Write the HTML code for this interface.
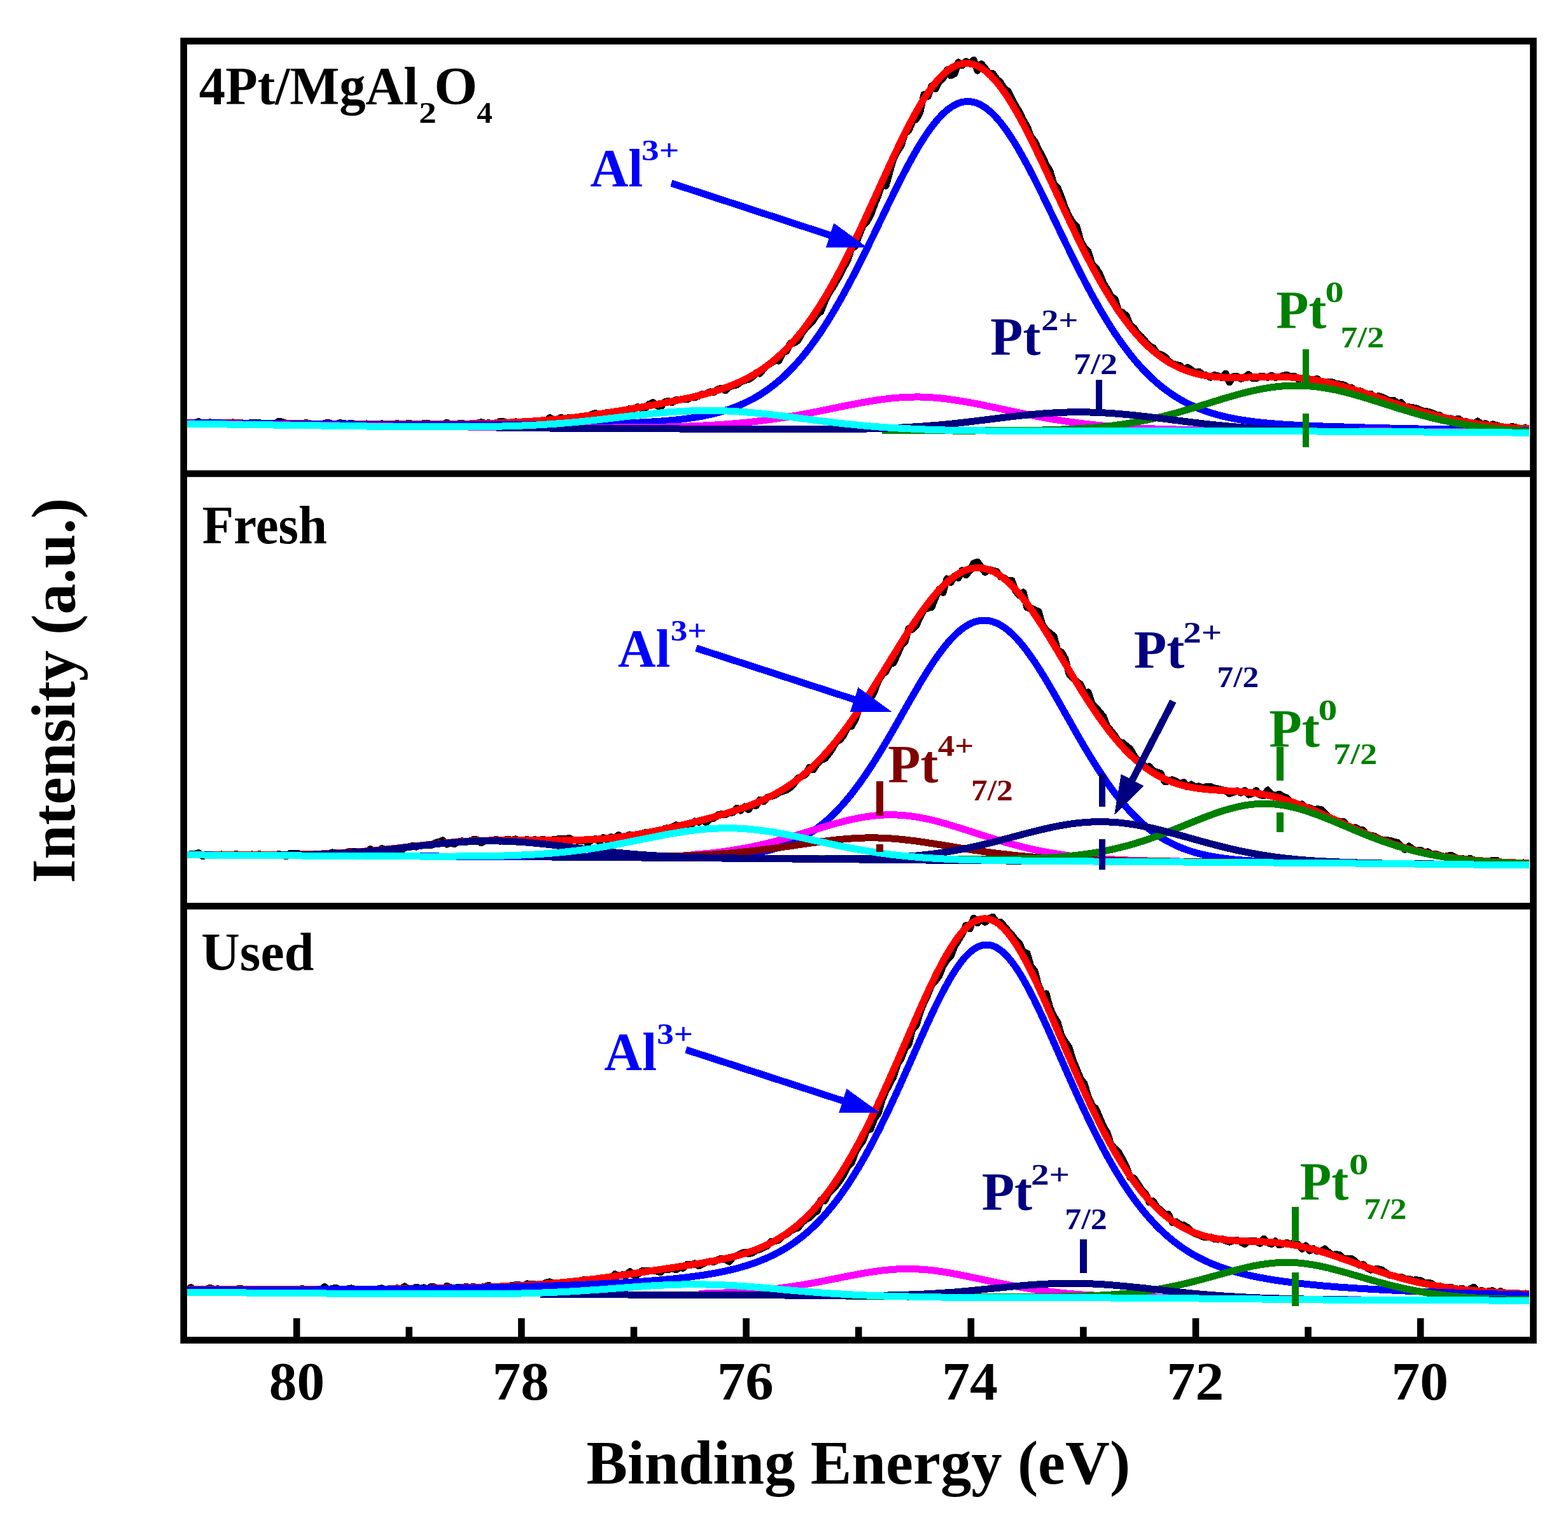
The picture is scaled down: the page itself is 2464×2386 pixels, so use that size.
<!DOCTYPE html><html><head><meta charset="utf-8"><style>html,body{margin:0;padding:0;background:#fff}svg{display:block}</style></head><body><svg width="2464" height="2386" viewBox="0 0 2464 2386" font-family="'Liberation Serif','Times New Roman',serif" font-weight="bold">
<rect width="2464" height="2386" fill="#fff"/>
<clipPath id="cp0"><rect x="294" y="70" width="2110" height="669"/></clipPath>
<g clip-path="url(#cp0)" fill="none" stroke-width="11" stroke-linejoin="round" stroke-linecap="butt" shape-rendering="crispEdges">
<polyline stroke="#000" points="294,664.5 300,665.1 306,664.6 312,662.6 318,665.4 324,664.9 330,663.8 336,665.2 342,665.0 348,665.0 354,664.7 360,665.4 366,663.9 372,664.6 378,664.3 384,665.7 390,665.1 396,664.7 402,664.2 408,664.9 414,665.3 420,665.0 426,667.0 432,666.7 438,662.1 444,663.2 450,665.4 456,665.1 462,666.0 468,666.0 474,668.5 480,664.5 486,665.4 492,668.5 498,666.8 504,666.9 510,665.5 516,664.1 522,666.4 528,666.4 534,664.7 540,665.5 546,666.3 552,665.2 558,666.3 564,666.6 570,666.6 576,665.9 582,667.4 588,667.8 594,667.1 600,665.7 606,667.7 612,666.1 618,667.9 624,665.4 630,668.0 636,666.7 642,665.1 648,666.3 654,666.8 660,667.1 666,665.4 672,665.2 678,666.9 684,666.0 690,666.9 696,667.6 702,664.3 708,666.8 714,668.0 720,665.9 726,665.1 732,667.2 738,666.4 744,667.1 750,665.3 756,663.6 762,665.3 768,664.7 774,666.3 780,665.2 786,662.4 792,662.8 798,665.6 804,665.0 810,662.8 816,663.5 822,663.8 828,663.5 834,663.7 840,662.4 846,661.5 852,660.8 858,662.4 864,656.7 870,659.5 876,659.2 882,656.3 888,658.5 894,656.3 900,658.1 906,655.8 912,656.4 918,656.6 924,654.4 930,651.4 936,649.4 942,654.3 948,650.1 954,648.2 960,648.8 966,647.2 972,648.2 978,645.7 984,644.7 990,642.3 996,643.5 1002,639.6 1008,641.8 1014,642.4 1020,635.4 1026,632.5 1032,637.4 1038,640.2 1044,631.9 1050,630.3 1056,632.8 1062,628.7 1068,628.2 1074,627.3 1080,627.8 1086,624.5 1092,624.6 1098,622.2 1104,619.3 1110,618.9 1116,615.9 1122,616.3 1128,612.0 1134,610.2 1140,613.9 1146,608.3 1152,606.1 1158,605.0 1164,600.2 1170,597.8 1176,596.4 1182,592.9 1188,585.9 1194,587.2 1200,579.7 1206,574.3 1212,570.2 1218,566.8 1224,567.1 1230,554.1 1236,552.1 1242,539.5 1248,539.1 1254,534.9 1260,524.3 1266,515.5 1272,510.2 1278,503.2 1284,494.4 1290,489.5 1296,474.2 1302,461.6 1308,452.8 1314,442.3 1320,431.9 1326,420.0 1332,409.1 1338,390.3 1344,387.3 1350,369.5 1356,354.5 1362,348.6 1368,338.3 1374,321.9 1380,307.3 1386,289.6 1392,292.2 1398,270.8 1404,249.2 1410,237.9 1416,229.1 1422,209.5 1428,205.1 1434,190.7 1440,187.2 1446,175.4 1452,148.4 1458,151.6 1464,135.0 1470,139.7 1476,127.9 1482,123.1 1488,109.8 1494,118.7 1500,115.7 1506,97.9 1512,102.7 1518,96.6 1524,99.6 1530,94.4 1536,111.2 1542,100.4 1548,107.3 1554,115.6 1560,115.6 1566,123.9 1572,129.5 1578,139.3 1584,143.1 1590,155.7 1596,166.5 1602,176.3 1608,189.0 1614,198.7 1620,215.0 1626,222.3 1632,235.4 1638,245.7 1644,259.1 1650,268.9 1656,289.2 1662,295.4 1668,310.0 1674,327.3 1680,340.3 1686,350.0 1692,356.4 1698,378.0 1704,389.5 1710,395.4 1716,414.8 1722,421.0 1728,430.6 1734,445.4 1740,454.8 1746,466.0 1752,469.8 1758,489.8 1764,491.0 1770,496.5 1776,511.1 1782,515.7 1788,524.9 1794,529.7 1800,536.8 1806,543.6 1812,546.4 1818,555.5 1824,557.1 1830,560.4 1836,567.0 1842,571.6 1848,573.2 1854,574.6 1860,581.1 1866,577.4 1872,581.4 1878,586.0 1884,584.1 1890,588.9 1896,589.9 1902,593.2 1908,589.5 1914,590.8 1920,593.6 1926,587.1 1932,600.9 1938,591.7 1944,591.6 1950,595.5 1956,593.2 1962,588.7 1968,594.5 1974,594.9 1980,591.5 1986,591.7 1992,593.5 1998,590.0 2004,593.3 2010,592.7 2016,590.7 2022,589.1 2028,592.2 2034,591.0 2040,596.1 2046,594.5 2052,596.7 2058,595.9 2064,597.0 2070,595.5 2076,600.0 2082,603.9 2088,600.1 2094,600.8 2100,603.3 2106,604.0 2112,605.2 2118,608.8 2124,609.6 2130,615.4 2136,614.0 2142,616.6 2148,620.0 2154,619.2 2160,625.0 2166,622.5 2172,624.2 2178,627.2 2184,629.8 2190,629.1 2196,634.0 2202,632.7 2208,640.8 2214,639.8 2220,640.6 2226,641.9 2232,644.7 2238,646.8 2244,647.0 2250,648.8 2256,651.8 2262,652.7 2268,656.8 2274,658.5 2280,657.9 2286,660.0 2292,658.1 2298,662.6 2304,662.6 2310,664.5 2316,667.2 2322,662.0 2328,666.9 2334,665.6 2340,669.0 2346,666.9 2352,668.8 2358,670.5 2364,671.7 2370,671.4 2376,670.7 2382,671.5 2388,674.0 2394,673.2 2400,671.2"/>
<polyline stroke="#FF0000" points="294,664.1 297,664.1 300,664.1 303,664.2 306,664.2 309,664.2 312,664.3 315,664.3 318,664.3 321,664.4 324,664.4 327,664.4 330,664.5 333,664.5 336,664.5 339,664.6 342,664.6 345,664.6 348,664.6 351,664.7 354,664.7 357,664.7 360,664.8 363,664.8 366,664.8 369,664.9 372,664.9 375,664.9 378,664.9 381,665.0 384,665.0 387,665.0 390,665.1 393,665.1 396,665.1 399,665.1 402,665.2 405,665.2 408,665.2 411,665.3 414,665.3 417,665.3 420,665.3 423,665.4 426,665.4 429,665.4 432,665.5 435,665.5 438,665.5 441,665.5 444,665.6 447,665.6 450,665.6 453,665.7 456,665.7 459,665.7 462,665.7 465,665.8 468,665.8 471,665.8 474,665.8 477,665.9 480,665.9 483,665.9 486,665.9 489,666.0 492,666.0 495,666.0 498,666.0 501,666.1 504,666.1 507,666.1 510,666.1 513,666.2 516,666.2 519,666.2 522,666.2 525,666.3 528,666.3 531,666.3 534,666.3 537,666.3 540,666.4 543,666.4 546,666.4 549,666.4 552,666.5 555,666.5 558,666.5 561,666.5 564,666.5 567,666.6 570,666.6 573,666.6 576,666.6 579,666.6 582,666.7 585,666.7 588,666.7 591,666.7 594,666.7 597,666.7 600,666.8 603,666.8 606,666.8 609,666.8 612,666.8 615,666.8 618,666.8 621,666.8 624,666.8 627,666.8 630,666.8 633,666.8 636,666.8 639,666.8 642,666.8 645,666.8 648,666.7 651,666.7 654,666.7 657,666.7 660,666.7 663,666.7 666,666.7 669,666.7 672,666.7 675,666.7 678,666.6 681,666.6 684,666.6 687,666.6 690,666.6 693,666.5 696,666.5 699,666.5 702,666.5 705,666.4 708,666.4 711,666.4 714,666.3 717,666.3 720,666.2 723,666.2 726,666.2 729,666.1 732,666.1 735,666.0 738,666.0 741,665.9 744,665.8 747,665.8 750,665.7 753,665.6 756,665.6 759,665.5 762,665.4 765,665.3 768,665.2 771,665.1 774,665.1 777,665.0 780,664.9 783,664.7 786,664.6 789,664.5 792,664.4 795,664.3 798,664.1 801,664.0 804,663.9 807,663.7 810,663.6 813,663.4 816,663.3 819,663.1 822,662.9 825,662.8 828,662.6 831,662.4 834,662.2 837,662.0 840,661.8 843,661.6 846,661.4 849,661.1 852,660.9 855,660.7 858,660.4 861,660.2 864,659.9 867,659.7 870,659.4 873,659.1 876,658.8 879,658.5 882,658.2 885,657.9 888,657.6 891,657.3 894,657.0 897,656.7 900,656.3 903,656.0 906,655.6 909,655.2 912,654.8 915,654.5 918,654.1 921,653.7 924,653.3 927,652.9 930,652.4 933,652.0 936,651.6 939,651.1 942,650.7 945,650.3 948,649.8 951,649.4 954,648.9 957,648.4 960,648.0 963,647.5 966,647.0 969,646.5 972,646.0 975,645.6 978,645.1 981,644.6 984,644.1 987,643.5 990,643.0 993,642.5 996,642.0 999,641.5 1002,641.0 1005,640.4 1008,639.9 1011,639.4 1014,638.8 1017,638.3 1020,637.8 1023,637.2 1026,636.7 1029,636.1 1032,635.6 1035,635.0 1038,634.4 1041,633.9 1044,633.3 1047,632.7 1050,632.1 1053,631.5 1056,630.9 1059,630.3 1062,629.7 1065,629.1 1068,628.5 1071,627.9 1074,627.2 1077,626.6 1080,625.9 1083,625.3 1086,624.6 1089,623.9 1092,623.2 1095,622.5 1098,621.8 1101,621.0 1104,620.3 1107,619.5 1110,618.7 1113,617.9 1116,617.0 1119,616.2 1122,615.3 1125,614.4 1128,613.4 1131,612.5 1134,611.5 1137,610.4 1140,609.4 1143,608.3 1146,607.2 1149,606.0 1152,604.8 1155,603.5 1158,602.3 1161,600.9 1164,599.6 1167,598.1 1170,596.7 1173,595.1 1176,593.6 1179,591.9 1182,590.2 1185,588.5 1188,586.7 1191,584.8 1194,582.9 1197,580.9 1200,578.8 1203,576.7 1206,574.5 1209,572.2 1212,569.8 1215,567.4 1218,564.9 1221,562.3 1224,559.6 1227,556.9 1230,554.1 1233,551.1 1236,548.1 1239,545.0 1242,541.8 1245,538.5 1248,535.1 1251,531.7 1254,528.1 1257,524.4 1260,520.7 1263,516.8 1266,512.8 1269,508.8 1272,504.6 1275,500.4 1278,496.0 1281,491.5 1284,487.0 1287,482.3 1290,477.6 1293,472.7 1296,467.8 1299,462.8 1302,457.6 1305,452.4 1308,447.1 1311,441.7 1314,436.2 1317,430.6 1320,424.9 1323,419.2 1326,413.4 1329,407.5 1332,401.5 1335,395.5 1338,389.3 1341,383.2 1344,376.9 1347,370.6 1350,364.3 1353,357.9 1356,351.5 1359,345.0 1362,338.5 1365,331.9 1368,325.4 1371,318.8 1374,312.2 1377,305.6 1380,299.0 1383,292.3 1386,285.7 1389,279.1 1392,272.6 1395,266.0 1398,259.5 1401,253.0 1404,246.6 1407,240.2 1410,233.9 1413,227.6 1416,221.4 1419,215.3 1422,209.3 1425,203.4 1428,197.5 1431,191.8 1434,186.2 1437,180.7 1440,175.3 1443,170.1 1446,165.0 1449,160.0 1452,155.2 1455,150.6 1458,146.1 1461,141.8 1464,137.7 1467,133.8 1470,130.1 1473,126.5 1476,123.2 1479,120.0 1482,117.1 1485,114.4 1488,111.9 1491,109.6 1494,107.6 1497,105.8 1500,104.2 1503,102.8 1506,101.7 1509,100.8 1512,100.2 1515,99.8 1518,99.6 1521,99.7 1524,100.0 1527,100.6 1530,101.4 1533,102.5 1536,103.7 1539,105.3 1542,107.0 1545,109.0 1548,111.2 1551,113.7 1554,116.3 1557,119.2 1560,122.3 1563,125.5 1566,129.0 1569,132.7 1572,136.6 1575,140.6 1578,144.8 1581,149.2 1584,153.8 1587,158.5 1590,163.3 1593,168.3 1596,173.5 1599,178.7 1602,184.1 1605,189.6 1608,195.2 1611,201.0 1614,206.8 1617,212.7 1620,218.7 1623,224.7 1626,230.9 1629,237.1 1632,243.3 1635,249.6 1638,256.0 1641,262.3 1644,268.8 1647,275.2 1650,281.7 1653,288.1 1656,294.6 1659,301.1 1662,307.6 1665,314.1 1668,320.6 1671,327.0 1674,333.4 1677,339.8 1680,346.2 1683,352.5 1686,358.8 1689,365.1 1692,371.3 1695,377.4 1698,383.5 1701,389.6 1704,395.5 1707,401.4 1710,407.3 1713,413.0 1716,418.7 1719,424.3 1722,429.9 1725,435.3 1728,440.7 1731,446.0 1734,451.2 1737,456.3 1740,461.3 1743,466.2 1746,471.0 1749,475.7 1752,480.3 1755,484.9 1758,489.3 1761,493.6 1764,497.8 1767,501.9 1770,506.0 1773,509.9 1776,513.7 1779,517.4 1782,521.0 1785,524.5 1788,527.9 1791,531.2 1794,534.4 1797,537.5 1800,540.5 1803,543.4 1806,546.2 1809,548.9 1812,551.5 1815,554.0 1818,556.4 1821,558.7 1824,561.0 1827,563.1 1830,565.1 1833,567.1 1836,569.0 1839,570.8 1842,572.4 1845,574.1 1848,575.6 1851,577.0 1854,578.4 1857,579.7 1860,580.9 1863,582.1 1866,583.2 1869,584.2 1872,585.2 1875,586.0 1878,586.9 1881,587.6 1884,588.3 1887,589.0 1890,589.6 1893,590.1 1896,590.6 1899,591.0 1902,591.4 1905,591.8 1908,592.1 1911,592.4 1914,592.6 1917,592.8 1920,593.0 1923,593.1 1926,593.2 1929,593.3 1932,593.4 1935,593.4 1938,593.4 1941,593.4 1944,593.4 1947,593.3 1950,593.3 1953,593.2 1956,593.2 1959,593.1 1962,593.0 1965,592.9 1968,592.8 1971,592.7 1974,592.7 1977,592.6 1980,592.5 1983,592.4 1986,592.4 1989,592.3 1992,592.3 1995,592.2 1998,592.2 2001,592.2 2004,592.2 2007,592.3 2010,592.3 2013,592.4 2016,592.4 2019,592.5 2022,592.7 2025,592.8 2028,593.0 2031,593.2 2034,593.4 2037,593.6 2040,593.9 2043,594.2 2046,594.5 2049,594.9 2052,595.2 2055,595.6 2058,596.0 2061,596.5 2064,597.0 2067,597.5 2070,598.0 2073,598.5 2076,599.1 2079,599.7 2082,600.3 2085,601.0 2088,601.6 2091,602.3 2094,603.0 2097,603.7 2100,604.5 2103,605.3 2106,606.1 2109,606.9 2112,607.8 2115,608.6 2118,609.5 2121,610.4 2124,611.3 2127,612.2 2130,613.2 2133,614.1 2136,615.1 2139,616.1 2142,617.0 2145,618.0 2148,619.0 2151,620.0 2154,621.0 2157,622.0 2160,623.1 2163,624.1 2166,625.1 2169,626.1 2172,627.1 2175,628.1 2178,629.2 2181,630.2 2184,631.2 2187,632.2 2190,633.2 2193,634.2 2196,635.2 2199,636.2 2202,637.2 2205,638.2 2208,639.1 2211,640.1 2214,641.0 2217,642.0 2220,642.9 2223,643.8 2226,644.7 2229,645.6 2232,646.5 2235,647.3 2238,648.2 2241,649.0 2244,649.9 2247,650.7 2250,651.5 2253,652.2 2256,653.0 2259,653.8 2262,654.5 2265,655.2 2268,655.9 2271,656.6 2274,657.3 2277,658.0 2280,658.6 2283,659.3 2286,659.9 2289,660.5 2292,661.1 2295,661.6 2298,662.2 2301,662.7 2304,663.3 2307,663.8 2310,664.3 2313,664.8 2316,665.2 2319,665.7 2322,666.1 2325,666.6 2328,667.0 2331,667.4 2334,667.8 2337,668.2 2340,668.5 2343,668.9 2346,669.2 2349,669.6 2352,669.9 2355,670.2 2358,670.5 2361,670.8 2364,671.1 2367,671.4 2370,671.6 2373,671.9 2376,672.1 2379,672.4 2382,672.6 2385,672.8 2388,673.0 2391,673.2 2394,673.4 2397,673.6 2400,673.8 2403,674.0"/>
<polyline stroke="#0000FF" points="294,664.4 297,664.4 300,664.4 303,664.5 306,664.5 309,664.5 312,664.6 315,664.6 318,664.6 321,664.7 324,664.7 327,664.7 330,664.8 333,664.8 336,664.8 339,664.9 342,664.9 345,664.9 348,665.0 351,665.0 354,665.0 357,665.1 360,665.1 363,665.1 366,665.2 369,665.2 372,665.2 375,665.3 378,665.3 381,665.3 384,665.4 387,665.4 390,665.4 393,665.4 396,665.5 399,665.5 402,665.5 405,665.6 408,665.6 411,665.6 414,665.7 417,665.7 420,665.7 423,665.7 426,665.8 429,665.8 432,665.8 435,665.9 438,665.9 441,665.9 444,666.0 447,666.0 450,666.0 453,666.0 456,666.1 459,666.1 462,666.1 465,666.2 468,666.2 471,666.2 474,666.2 477,666.3 480,666.3 483,666.3 486,666.4 489,666.4 492,666.4 495,666.4 498,666.5 501,666.5 504,666.5 507,666.6 510,666.6 513,666.6 516,666.6 519,666.7 522,666.7 525,666.7 528,666.7 531,666.8 534,666.8 537,666.8 540,666.8 543,666.9 546,666.9 549,666.9 552,666.9 555,667.0 558,667.0 561,667.0 564,667.0 567,667.1 570,667.1 573,667.1 576,667.1 579,667.2 582,667.2 585,667.2 588,667.2 591,667.3 594,667.3 597,667.3 600,667.3 603,667.3 606,667.4 609,667.4 612,667.4 615,667.4 618,667.4 621,667.4 624,667.4 627,667.4 630,667.4 633,667.4 636,667.5 639,667.5 642,667.5 645,667.5 648,667.5 651,667.5 654,667.5 657,667.5 660,667.5 663,667.5 666,667.5 669,667.5 672,667.5 675,667.5 678,667.6 681,667.6 684,667.6 687,667.6 690,667.6 693,667.6 696,667.6 699,667.6 702,667.6 705,667.6 708,667.6 711,667.6 714,667.6 717,667.6 720,667.6 723,667.6 726,667.6 729,667.6 732,667.6 735,667.6 738,667.6 741,667.6 744,667.6 747,667.6 750,667.6 753,667.6 756,667.6 759,667.6 762,667.6 765,667.6 768,667.6 771,667.6 774,667.6 777,667.6 780,667.6 783,667.6 786,667.6 789,667.6 792,667.6 795,667.6 798,667.5 801,667.5 804,667.5 807,667.5 810,667.5 813,667.5 816,667.5 819,667.5 822,667.5 825,667.5 828,667.4 831,667.4 834,667.4 837,667.4 840,667.4 843,667.4 846,667.4 849,667.3 852,667.3 855,667.3 858,667.3 861,667.3 864,667.3 867,667.2 870,667.2 873,667.2 876,667.2 879,667.1 882,667.1 885,667.1 888,667.1 891,667.0 894,667.0 897,667.0 900,667.0 903,666.9 906,666.8 909,666.8 912,666.7 915,666.7 918,666.6 921,666.6 924,666.5 927,666.5 930,666.4 933,666.3 936,666.3 939,666.2 942,666.1 945,666.1 948,666.0 951,665.9 954,665.8 957,665.7 960,665.7 963,665.6 966,665.5 969,665.4 972,665.3 975,665.2 978,665.1 981,665.0 984,664.9 987,664.8 990,664.7 993,664.6 996,664.4 999,664.3 1002,664.2 1005,664.0 1008,663.9 1011,663.7 1014,663.6 1017,663.4 1020,663.3 1023,663.1 1026,662.9 1029,662.7 1032,662.5 1035,662.3 1038,662.1 1041,661.9 1044,661.6 1047,661.4 1050,661.1 1053,660.9 1056,660.6 1059,660.3 1062,660.0 1065,659.7 1068,659.3 1071,659.0 1074,658.6 1077,658.3 1080,657.9 1083,657.5 1086,657.0 1089,656.6 1092,656.1 1095,655.6 1098,655.1 1101,654.6 1104,654.0 1107,653.4 1110,652.8 1113,652.2 1116,651.5 1119,650.9 1122,650.1 1125,649.4 1128,648.6 1131,647.8 1134,646.9 1137,646.0 1140,645.1 1143,644.2 1146,643.2 1149,642.1 1152,641.0 1155,639.9 1158,638.7 1161,637.5 1164,636.2 1167,634.9 1170,633.5 1173,632.1 1176,630.6 1179,629.1 1182,627.5 1185,625.9 1188,624.2 1191,622.4 1194,620.6 1197,618.7 1200,616.7 1203,614.7 1206,612.6 1209,610.4 1212,608.2 1215,605.9 1218,603.5 1221,601.1 1224,598.6 1227,596.0 1230,593.3 1233,590.5 1236,587.7 1239,584.7 1242,581.7 1245,578.6 1248,575.4 1251,572.1 1254,568.8 1257,565.3 1260,561.8 1263,558.2 1266,554.4 1269,550.6 1272,546.7 1275,542.7 1278,538.6 1281,534.5 1284,530.2 1287,525.9 1290,521.4 1293,516.9 1296,512.3 1299,507.6 1302,502.8 1305,497.9 1308,492.9 1311,487.9 1314,482.7 1317,477.5 1320,472.3 1323,466.9 1326,461.5 1329,455.9 1332,450.4 1335,444.7 1338,439.0 1341,433.3 1344,427.4 1347,421.5 1350,415.6 1353,409.6 1356,403.6 1359,397.5 1362,391.4 1365,385.3 1368,379.2 1371,373.0 1374,366.8 1377,360.6 1380,354.3 1383,348.1 1386,341.9 1389,335.6 1392,329.4 1395,323.2 1398,317.1 1401,310.9 1404,304.8 1407,298.7 1410,292.7 1413,286.7 1416,280.8 1419,275.0 1422,269.2 1425,263.5 1428,257.9 1431,252.3 1434,246.9 1437,241.6 1440,236.4 1443,231.3 1446,226.3 1449,221.5 1452,216.8 1455,212.2 1458,207.8 1461,203.6 1464,199.5 1467,195.6 1470,191.8 1473,188.2 1476,184.9 1479,181.7 1482,178.7 1485,175.9 1488,173.3 1491,171.0 1494,168.8 1497,166.9 1500,165.2 1503,163.7 1506,162.4 1509,161.4 1512,160.5 1515,160.0 1518,159.6 1521,159.5 1524,159.6 1527,160.0 1530,160.6 1533,161.4 1536,162.5 1539,163.8 1542,165.3 1545,167.1 1548,169.0 1551,171.2 1554,173.6 1557,176.2 1560,179.1 1563,182.1 1566,185.3 1569,188.7 1572,192.3 1575,196.1 1578,200.1 1581,204.2 1584,208.5 1587,212.9 1590,217.5 1593,222.3 1596,227.1 1599,232.2 1602,237.3 1605,242.5 1608,247.9 1611,253.4 1614,258.9 1617,264.6 1620,270.3 1623,276.1 1626,282.0 1629,287.9 1632,294.0 1635,300.0 1638,306.1 1641,312.3 1644,318.4 1647,324.6 1650,330.9 1653,337.1 1656,343.4 1659,349.6 1662,355.9 1665,362.2 1668,368.4 1671,374.6 1674,380.9 1677,387.0 1680,393.2 1683,399.3 1686,405.4 1689,411.5 1692,417.5 1695,423.5 1698,429.4 1701,435.2 1704,441.0 1707,446.8 1710,452.4 1713,458.0 1716,463.6 1719,469.0 1722,474.4 1725,479.7 1728,485.0 1731,490.1 1734,495.2 1737,500.2 1740,505.1 1743,509.9 1746,514.7 1749,519.3 1752,523.9 1755,528.3 1758,532.7 1761,537.0 1764,541.2 1767,545.3 1770,549.3 1773,553.3 1776,557.1 1779,560.8 1782,564.5 1785,568.1 1788,571.6 1791,574.9 1794,578.2 1797,581.5 1800,584.6 1803,587.6 1806,590.6 1809,593.5 1812,596.3 1815,599.0 1818,601.6 1821,604.2 1824,606.7 1827,609.1 1830,611.4 1833,613.6 1836,615.8 1839,617.9 1842,620.0 1845,622.0 1848,623.9 1851,625.7 1854,627.5 1857,629.2 1860,630.9 1863,632.5 1866,634.0 1869,635.5 1872,636.9 1875,638.3 1878,639.7 1881,640.9 1884,642.2 1887,643.4 1890,644.5 1893,645.6 1896,646.7 1899,647.7 1902,648.7 1905,649.6 1908,650.5 1911,651.4 1914,652.2 1917,653.0 1920,653.8 1923,654.5 1926,655.2 1929,655.9 1932,656.5 1935,657.1 1938,657.7 1941,658.3 1944,658.9 1947,659.4 1950,659.9 1953,660.4 1956,660.8 1959,661.3 1962,661.7 1965,662.1 1968,662.5 1971,662.9 1974,663.2 1977,663.6 1980,663.9 1983,664.2 1986,664.5 1989,664.8 1992,665.1 1995,665.4 1998,665.6 2001,665.9 2004,666.1 2007,666.3 2010,666.6 2013,666.8 2016,667.0 2019,667.2 2022,667.4 2025,667.6 2028,667.7 2031,667.9 2034,668.1 2037,668.2 2040,668.4 2043,668.5 2046,668.7 2049,668.8 2052,668.9 2055,669.1 2058,669.2 2061,669.3 2064,669.4 2067,669.6 2070,669.7 2073,669.8 2076,669.9 2079,670.0 2082,670.1 2085,670.2 2088,670.3 2091,670.4 2094,670.5 2097,670.6 2100,670.6 2103,670.7 2106,670.8 2109,670.9 2112,671.0 2115,671.1 2118,671.2 2121,671.3 2124,671.4 2127,671.5 2130,671.6 2133,671.7 2136,671.8 2139,671.8 2142,671.9 2145,672.0 2148,672.1 2151,672.2 2154,672.2 2157,672.3 2160,672.4 2163,672.5 2166,672.5 2169,672.6 2172,672.7 2175,672.8 2178,672.8 2181,672.9 2184,673.0 2187,673.1 2190,673.1 2193,673.2 2196,673.3 2199,673.3 2202,673.4 2205,673.5 2208,673.5 2211,673.6 2214,673.7 2217,673.7 2220,673.8 2223,673.8 2226,673.9 2229,674.0 2232,674.0 2235,674.1 2238,674.1 2241,674.2 2244,674.3 2247,674.3 2250,674.4 2253,674.4 2256,674.5 2259,674.6 2262,674.6 2265,674.7 2268,674.7 2271,674.8 2274,674.8 2277,674.9 2280,674.9 2283,675.0 2286,675.0 2289,675.1 2292,675.2 2295,675.2 2298,675.3 2301,675.3 2304,675.4 2307,675.4 2310,675.5 2313,675.5 2316,675.6 2319,675.6 2322,675.7 2325,675.7 2328,675.8 2331,675.8 2334,675.9 2337,675.9 2340,676.0 2343,676.0 2346,676.0 2349,676.1 2352,676.1 2355,676.2 2358,676.2 2361,676.3 2364,676.3 2367,676.4 2370,676.4 2373,676.5 2376,676.5 2379,676.5 2382,676.6 2385,676.6 2388,676.7 2391,676.7 2394,676.8 2397,676.8 2400,676.9 2403,676.9"/>
<polyline stroke="#FF00FF" points="294,665.8 297,665.9 300,665.9 303,665.9 306,666.0 309,666.0 312,666.1 315,666.1 318,666.1 321,666.2 324,666.2 327,666.3 330,666.3 333,666.3 336,666.4 339,666.4 342,666.5 345,666.5 348,666.5 351,666.6 354,666.6 357,666.7 360,666.7 363,666.7 366,666.8 369,666.8 372,666.8 375,666.9 378,666.9 381,667.0 384,667.0 387,667.0 390,667.1 393,667.1 396,667.2 399,667.2 402,667.2 405,667.3 408,667.3 411,667.4 414,667.4 417,667.4 420,667.5 423,667.5 426,667.6 429,667.6 432,667.6 435,667.7 438,667.7 441,667.8 444,667.8 447,667.8 450,667.9 453,667.9 456,668.0 459,668.0 462,668.0 465,668.1 468,668.1 471,668.2 474,668.2 477,668.2 480,668.3 483,668.3 486,668.3 489,668.4 492,668.4 495,668.5 498,668.5 501,668.5 504,668.6 507,668.6 510,668.7 513,668.7 516,668.7 519,668.8 522,668.8 525,668.9 528,668.9 531,668.9 534,669.0 537,669.0 540,669.0 543,669.1 546,669.1 549,669.2 552,669.2 555,669.2 558,669.3 561,669.3 564,669.4 567,669.4 570,669.4 573,669.5 576,669.5 579,669.5 582,669.6 585,669.6 588,669.7 591,669.7 594,669.7 597,669.8 600,669.8 603,669.8 606,669.9 609,669.9 612,669.9 615,669.9 618,670.0 621,670.0 624,670.0 627,670.0 630,670.1 633,670.1 636,670.1 639,670.2 642,670.2 645,670.2 648,670.2 651,670.3 654,670.3 657,670.3 660,670.3 663,670.4 666,670.4 669,670.4 672,670.4 675,670.5 678,670.5 681,670.5 684,670.5 687,670.6 690,670.6 693,670.6 696,670.6 699,670.7 702,670.7 705,670.7 708,670.7 711,670.8 714,670.8 717,670.8 720,670.8 723,670.9 726,670.9 729,670.9 732,670.9 735,671.0 738,671.0 741,671.0 744,671.0 747,671.1 750,671.1 753,671.1 756,671.1 759,671.2 762,671.2 765,671.2 768,671.2 771,671.2 774,671.3 777,671.3 780,671.3 783,671.3 786,671.4 789,671.4 792,671.4 795,671.4 798,671.5 801,671.5 804,671.5 807,671.5 810,671.5 813,671.6 816,671.6 819,671.6 822,671.6 825,671.7 828,671.7 831,671.7 834,671.7 837,671.7 840,671.8 843,671.8 846,671.8 849,671.8 852,671.8 855,671.9 858,671.9 861,671.9 864,671.9 867,671.9 870,672.0 873,672.0 876,672.0 879,672.0 882,672.0 885,672.0 888,672.1 891,672.1 894,672.1 897,672.1 900,672.1 903,672.1 906,672.1 909,672.1 912,672.1 915,672.1 918,672.1 921,672.1 924,672.1 927,672.1 930,672.1 933,672.1 936,672.1 939,672.1 942,672.0 945,672.0 948,672.0 951,672.0 954,672.0 957,672.0 960,672.0 963,672.0 966,671.9 969,671.9 972,671.9 975,671.9 978,671.9 981,671.9 984,671.8 987,671.8 990,671.8 993,671.8 996,671.7 999,671.7 1002,671.7 1005,671.6 1008,671.6 1011,671.6 1014,671.5 1017,671.5 1020,671.5 1023,671.4 1026,671.4 1029,671.3 1032,671.3 1035,671.2 1038,671.2 1041,671.1 1044,671.0 1047,671.0 1050,670.9 1053,670.9 1056,670.8 1059,670.7 1062,670.6 1065,670.5 1068,670.5 1071,670.4 1074,670.3 1077,670.2 1080,670.1 1083,670.0 1086,669.8 1089,669.7 1092,669.6 1095,669.5 1098,669.4 1101,669.2 1104,669.1 1107,668.9 1110,668.8 1113,668.6 1116,668.4 1119,668.3 1122,668.1 1125,667.9 1128,667.7 1131,667.5 1134,667.3 1137,667.1 1140,666.9 1143,666.7 1146,666.4 1149,666.2 1152,665.9 1155,665.7 1158,665.4 1161,665.1 1164,664.9 1167,664.6 1170,664.3 1173,664.0 1176,663.7 1179,663.3 1182,663.0 1185,662.6 1188,662.3 1191,661.9 1194,661.6 1197,661.2 1200,660.8 1203,660.4 1206,660.0 1209,659.6 1212,659.2 1215,658.8 1218,658.4 1221,657.9 1224,657.5 1227,657.0 1230,656.6 1233,656.1 1236,655.6 1239,655.1 1242,654.6 1245,654.1 1248,653.6 1251,653.1 1254,652.6 1257,652.0 1260,651.5 1263,650.9 1266,650.4 1269,649.8 1272,649.2 1275,648.7 1278,648.1 1281,647.5 1284,646.9 1287,646.3 1290,645.7 1293,645.1 1296,644.5 1299,643.9 1302,643.3 1305,642.7 1308,642.1 1311,641.5 1314,640.9 1317,640.2 1320,639.6 1323,639.0 1326,638.4 1329,637.8 1332,637.2 1335,636.6 1338,636.0 1341,635.4 1344,634.9 1347,634.3 1350,633.7 1353,633.2 1356,632.6 1359,632.1 1362,631.6 1365,631.0 1368,630.5 1371,630.1 1374,629.6 1377,629.1 1380,628.7 1383,628.2 1386,627.8 1389,627.4 1392,627.0 1395,626.7 1398,626.3 1401,626.0 1404,625.7 1407,625.4 1410,625.2 1413,625.0 1416,624.7 1419,624.6 1422,624.4 1425,624.3 1428,624.1 1431,624.1 1434,624.0 1437,624.0 1440,623.9 1443,623.9 1446,624.0 1449,624.1 1452,624.1 1455,624.3 1458,624.4 1461,624.6 1464,624.7 1467,625.0 1470,625.2 1473,625.5 1476,625.7 1479,626.1 1482,626.4 1485,626.7 1488,627.1 1491,627.5 1494,627.9 1497,628.3 1500,628.8 1503,629.2 1506,629.7 1509,630.2 1512,630.7 1515,631.2 1518,631.7 1521,632.2 1524,632.8 1527,633.3 1530,633.9 1533,634.5 1536,635.0 1539,635.6 1542,636.2 1545,636.8 1548,637.5 1551,638.1 1554,638.7 1557,639.3 1560,640.0 1563,640.6 1566,641.2 1569,641.9 1572,642.5 1575,643.2 1578,643.8 1581,644.5 1584,645.1 1587,645.7 1590,646.4 1593,647.0 1596,647.7 1599,648.3 1602,648.9 1605,649.5 1608,650.2 1611,650.8 1614,651.4 1617,652.0 1620,652.6 1623,653.2 1626,653.7 1629,654.3 1632,654.9 1635,655.5 1638,656.0 1641,656.6 1644,657.1 1647,657.6 1650,658.1 1653,658.7 1656,659.2 1659,659.7 1662,660.1 1665,660.6 1668,661.1 1671,661.6 1674,662.0 1677,662.4 1680,662.9 1683,663.3 1686,663.7 1689,664.1 1692,664.5 1695,664.9 1698,665.3 1701,665.7 1704,666.0 1707,666.4 1710,666.7 1713,667.0 1716,667.4 1719,667.7 1722,668.0 1725,668.3 1728,668.6 1731,668.9 1734,669.1 1737,669.4 1740,669.7 1743,669.9 1746,670.1 1749,670.4 1752,670.6 1755,670.8 1758,671.0 1761,671.3 1764,671.5 1767,671.6 1770,671.8 1773,672.0 1776,672.2 1779,672.4 1782,672.5 1785,672.7 1788,672.8 1791,673.0 1794,673.1 1797,673.3 1800,673.4 1803,673.5 1806,673.6 1809,673.8 1812,673.9 1815,674.0 1818,674.1 1821,674.2 1824,674.3 1827,674.4 1830,674.5 1833,674.6 1836,674.7 1839,674.7 1842,674.8 1845,674.9 1848,675.0 1851,675.0 1854,675.1 1857,675.2 1860,675.2 1863,675.3 1866,675.4 1869,675.4 1872,675.5 1875,675.5 1878,675.6 1881,675.6 1884,675.7 1887,675.7 1890,675.8 1893,675.8 1896,675.8 1899,675.9 1902,675.9 1905,676.0 1908,676.0 1911,676.0 1914,676.1 1917,676.1 1920,676.1 1923,676.2 1926,676.2 1929,676.2 1932,676.2 1935,676.3 1938,676.3 1941,676.3 1944,676.4 1947,676.4 1950,676.4 1953,676.4 1956,676.4 1959,676.5 1962,676.5 1965,676.5 1968,676.5 1971,676.6 1974,676.6 1977,676.6 1980,676.6 1983,676.6 1986,676.6 1989,676.7 1992,676.7 1995,676.7 1998,676.7 2001,676.7 2004,676.8 2007,676.8 2010,676.8 2013,676.8 2016,676.8 2019,676.8 2022,676.8 2025,676.9 2028,676.9 2031,676.9 2034,676.9 2037,676.9 2040,676.9 2043,676.9 2046,677.0 2049,677.0 2052,677.0 2055,677.0 2058,677.0 2061,677.0 2064,677.0 2067,677.0 2070,677.1 2073,677.1 2076,677.1 2079,677.1 2082,677.1 2085,677.1 2088,677.1 2091,677.1 2094,677.1 2097,677.2 2100,677.2 2103,677.2 2106,677.2 2109,677.3 2112,677.3 2115,677.3 2118,677.3 2121,677.4 2124,677.4 2127,677.4 2130,677.5 2133,677.5 2136,677.5 2139,677.5 2142,677.6 2145,677.6 2148,677.6 2151,677.6 2154,677.7 2157,677.7 2160,677.7 2163,677.8 2166,677.8 2169,677.8 2172,677.8 2175,677.9 2178,677.9 2181,677.9 2184,677.9 2187,678.0 2190,678.0 2193,678.0 2196,678.0 2199,678.1 2202,678.1 2205,678.1 2208,678.1 2211,678.2 2214,678.2 2217,678.2 2220,678.2 2223,678.3 2226,678.3 2229,678.3 2232,678.4 2235,678.4 2238,678.4 2241,678.4 2244,678.5 2247,678.5 2250,678.5 2253,678.5 2256,678.6 2259,678.6 2262,678.6 2265,678.6 2268,678.7 2271,678.7 2274,678.7 2277,678.7 2280,678.8 2283,678.8 2286,678.8 2289,678.8 2292,678.9 2295,678.9 2298,678.9 2301,678.9 2304,679.0 2307,679.0 2310,679.0 2313,679.0 2316,679.0 2319,679.1 2322,679.1 2325,679.1 2328,679.1 2331,679.2 2334,679.2 2337,679.2 2340,679.2 2343,679.3 2346,679.3 2349,679.3 2352,679.3 2355,679.4 2358,679.4 2361,679.4 2364,679.4 2367,679.5 2370,679.5 2373,679.5 2376,679.5 2379,679.6 2382,679.6 2385,679.6 2388,679.6 2391,679.7 2394,679.7 2397,679.7 2400,679.7 2403,679.7"/>
<polyline stroke="#008000" points="1386,676.0 1389,676.1 1392,676.1 1395,676.1 1398,676.1 1401,676.2 1404,676.2 1407,676.2 1410,676.2 1413,676.3 1416,676.3 1419,676.3 1422,676.4 1425,676.4 1428,676.4 1431,676.4 1434,676.5 1437,676.5 1440,676.5 1443,676.5 1446,676.6 1449,676.6 1452,676.6 1455,676.6 1458,676.7 1461,676.7 1464,676.7 1467,676.7 1470,676.8 1473,676.8 1476,676.8 1479,676.8 1482,676.9 1485,676.9 1488,676.9 1491,676.9 1494,676.9 1497,677.0 1500,677.0 1503,677.0 1506,677.0 1509,677.0 1512,677.0 1515,677.0 1518,677.0 1521,677.0 1524,677.0 1527,677.0 1530,677.0 1533,677.0 1536,676.9 1539,676.9 1542,676.9 1545,676.9 1548,676.9 1551,676.9 1554,676.9 1557,676.9 1560,676.9 1563,676.9 1566,676.8 1569,676.8 1572,676.8 1575,676.8 1578,676.8 1581,676.8 1584,676.7 1587,676.7 1590,676.7 1593,676.7 1596,676.6 1599,676.6 1602,676.6 1605,676.5 1608,676.5 1611,676.5 1614,676.4 1617,676.4 1620,676.3 1623,676.3 1626,676.2 1629,676.2 1632,676.1 1635,676.0 1638,676.0 1641,675.9 1644,675.8 1647,675.7 1650,675.6 1653,675.6 1656,675.5 1659,675.4 1662,675.3 1665,675.1 1668,675.0 1671,674.9 1674,674.8 1677,674.6 1680,674.5 1683,674.4 1686,674.2 1689,674.0 1692,673.9 1695,673.7 1698,673.5 1701,673.3 1704,673.1 1707,672.9 1710,672.7 1713,672.5 1716,672.2 1719,672.0 1722,671.7 1725,671.4 1728,671.2 1731,670.9 1734,670.6 1737,670.2 1740,669.9 1743,669.6 1746,669.2 1749,668.9 1752,668.5 1755,668.1 1758,667.7 1761,667.3 1764,666.9 1767,666.4 1770,666.0 1773,665.5 1776,665.0 1779,664.5 1782,664.0 1785,663.5 1788,662.9 1791,662.4 1794,661.8 1797,661.2 1800,660.6 1803,660.0 1806,659.4 1809,658.7 1812,658.1 1815,657.4 1818,656.7 1821,656.0 1824,655.3 1827,654.6 1830,653.8 1833,653.1 1836,652.3 1839,651.5 1842,650.7 1845,649.9 1848,649.1 1851,648.3 1854,647.4 1857,646.6 1860,645.7 1863,644.8 1866,644.0 1869,643.1 1872,642.2 1875,641.3 1878,640.4 1881,639.5 1884,638.5 1887,637.6 1890,636.7 1893,635.8 1896,634.8 1899,633.9 1902,633.0 1905,632.0 1908,631.1 1911,630.2 1914,629.3 1917,628.3 1920,627.4 1923,626.5 1926,625.6 1929,624.7 1932,623.9 1935,623.0 1938,622.1 1941,621.3 1944,620.5 1947,619.6 1950,618.8 1953,618.0 1956,617.3 1959,616.5 1962,615.8 1965,615.1 1968,614.4 1971,613.7 1974,613.1 1977,612.5 1980,611.9 1983,611.3 1986,610.7 1989,610.2 1992,609.7 1995,609.3 1998,608.8 2001,608.4 2004,608.1 2007,607.7 2010,607.4 2013,607.1 2016,606.9 2019,606.7 2022,606.5 2025,606.3 2028,606.2 2031,606.2 2034,606.1 2037,606.1 2040,606.1 2043,606.2 2046,606.3 2049,606.4 2052,606.5 2055,606.7 2058,606.9 2061,607.2 2064,607.5 2067,607.8 2070,608.1 2073,608.5 2076,608.9 2079,609.4 2082,609.9 2085,610.3 2088,610.9 2091,611.4 2094,612.0 2097,612.6 2100,613.2 2103,613.9 2106,614.6 2109,615.3 2112,616.1 2115,616.8 2118,617.6 2121,618.4 2124,619.2 2127,620.0 2130,620.9 2133,621.7 2136,622.6 2139,623.5 2142,624.4 2145,625.3 2148,626.2 2151,627.1 2154,628.0 2157,629.0 2160,629.9 2163,630.9 2166,631.8 2169,632.8 2172,633.7 2175,634.7 2178,635.6 2181,636.6 2184,637.5 2187,638.5 2190,639.4 2193,640.4 2196,641.3 2199,642.3 2202,643.2 2205,644.1 2208,645.0 2211,645.9 2214,646.8 2217,647.7 2220,648.6 2223,649.4 2226,650.3 2229,651.1 2232,652.0 2235,652.8 2238,653.6 2241,654.4 2244,655.2 2247,656.0 2250,656.7 2253,657.5 2256,658.2 2259,658.9 2262,659.6 2265,660.3 2268,660.9 2271,661.6 2274,662.2 2277,662.9 2280,663.5 2283,664.1 2286,664.7 2289,665.2 2292,665.8 2295,666.3 2298,666.8 2301,667.3 2304,667.8 2307,668.3 2310,668.8 2313,669.2 2316,669.7 2319,670.1 2322,670.5 2325,670.9 2328,671.3 2331,671.7 2334,672.0 2337,672.4 2340,672.7 2343,673.1 2346,673.4 2349,673.7 2352,674.0 2355,674.3 2358,674.5 2361,674.8 2364,675.1 2367,675.3 2370,675.5 2373,675.8 2376,676.0 2379,676.2 2382,676.4 2385,676.6 2388,676.8 2391,677.0 2394,677.1 2397,677.3 2400,677.5 2403,677.6"/>
<polyline stroke="#000080" points="780,672.1 783,672.1 786,672.2 789,672.2 792,672.2 795,672.3 798,672.3 801,672.3 804,672.4 807,672.4 810,672.4 813,672.4 816,672.5 819,672.5 822,672.5 825,672.6 828,672.6 831,672.6 834,672.7 837,672.7 840,672.7 843,672.7 846,672.8 849,672.8 852,672.8 855,672.9 858,672.9 861,672.9 864,673.0 867,673.0 870,673.0 873,673.0 876,673.1 879,673.1 882,673.1 885,673.2 888,673.2 891,673.2 894,673.3 897,673.3 900,673.3 903,673.3 906,673.3 909,673.4 912,673.4 915,673.4 918,673.4 921,673.4 924,673.4 927,673.4 930,673.4 933,673.4 936,673.5 939,673.5 942,673.5 945,673.5 948,673.5 951,673.5 954,673.5 957,673.5 960,673.5 963,673.6 966,673.6 969,673.6 972,673.6 975,673.6 978,673.6 981,673.6 984,673.6 987,673.7 990,673.7 993,673.7 996,673.7 999,673.7 1002,673.7 1005,673.7 1008,673.7 1011,673.7 1014,673.8 1017,673.8 1020,673.8 1023,673.8 1026,673.8 1029,673.8 1032,673.8 1035,673.8 1038,673.8 1041,673.9 1044,673.9 1047,673.9 1050,673.9 1053,673.9 1056,673.9 1059,673.9 1062,673.9 1065,673.9 1068,674.0 1071,674.0 1074,674.0 1077,674.0 1080,674.0 1083,674.0 1086,674.0 1089,674.0 1092,674.0 1095,674.1 1098,674.1 1101,674.1 1104,674.1 1107,674.1 1110,674.1 1113,674.1 1116,674.1 1119,674.1 1122,674.2 1125,674.2 1128,674.2 1131,674.2 1134,674.2 1137,674.2 1140,674.2 1143,674.2 1146,674.2 1149,674.2 1152,674.3 1155,674.3 1158,674.3 1161,674.3 1164,674.3 1167,674.3 1170,674.3 1173,674.3 1176,674.3 1179,674.3 1182,674.3 1185,674.4 1188,674.4 1191,674.4 1194,674.4 1197,674.4 1200,674.4 1203,674.4 1206,674.4 1209,674.5 1212,674.5 1215,674.5 1218,674.5 1221,674.5 1224,674.5 1227,674.6 1230,674.6 1233,674.6 1236,674.6 1239,674.6 1242,674.6 1245,674.7 1248,674.7 1251,674.7 1254,674.7 1257,674.7 1260,674.7 1263,674.7 1266,674.7 1269,674.7 1272,674.7 1275,674.8 1278,674.8 1281,674.8 1284,674.8 1287,674.8 1290,674.7 1293,674.7 1296,674.7 1299,674.7 1302,674.7 1305,674.7 1308,674.7 1311,674.7 1314,674.7 1317,674.6 1320,674.6 1323,674.6 1326,674.6 1329,674.5 1332,674.5 1335,674.5 1338,674.4 1341,674.4 1344,674.3 1347,674.3 1350,674.2 1353,674.2 1356,674.1 1359,674.1 1362,674.0 1365,673.9 1368,673.8 1371,673.8 1374,673.7 1377,673.6 1380,673.5 1383,673.4 1386,673.3 1389,673.2 1392,673.1 1395,673.0 1398,672.9 1401,672.8 1404,672.6 1407,672.5 1410,672.4 1413,672.2 1416,672.1 1419,671.9 1422,671.7 1425,671.6 1428,671.4 1431,671.2 1434,671.0 1437,670.9 1440,670.7 1443,670.5 1446,670.3 1449,670.1 1452,669.8 1455,669.6 1458,669.4 1461,669.1 1464,668.9 1467,668.7 1470,668.4 1473,668.2 1476,667.9 1479,667.6 1482,667.3 1485,667.1 1488,666.8 1491,666.5 1494,666.2 1497,665.9 1500,665.6 1503,665.3 1506,664.9 1509,664.6 1512,664.3 1515,663.9 1518,663.6 1521,663.2 1524,662.8 1527,662.5 1530,662.1 1533,661.8 1536,661.4 1539,661.0 1542,660.7 1545,660.3 1548,659.9 1551,659.5 1554,659.2 1557,658.8 1560,658.4 1563,658.1 1566,657.7 1569,657.3 1572,656.9 1575,656.6 1578,656.2 1581,655.9 1584,655.5 1587,655.1 1590,654.8 1593,654.5 1596,654.1 1599,653.8 1602,653.5 1605,653.1 1608,652.8 1611,652.5 1614,652.2 1617,651.9 1620,651.6 1623,651.3 1626,651.1 1629,650.8 1632,650.6 1635,650.3 1638,650.1 1641,649.8 1644,649.6 1647,649.4 1650,649.2 1653,649.1 1656,648.9 1659,648.7 1662,648.6 1665,648.4 1668,648.3 1671,648.2 1674,648.1 1677,648.0 1680,647.9 1683,647.9 1686,647.8 1689,647.8 1692,647.8 1695,647.8 1698,647.8 1701,647.8 1704,647.8 1707,647.9 1710,647.9 1713,648.0 1716,648.1 1719,648.2 1722,648.3 1725,648.4 1728,648.5 1731,648.7 1734,648.8 1737,649.0 1740,649.2 1743,649.3 1746,649.5 1749,649.8 1752,650.0 1755,650.2 1758,650.5 1761,650.7 1764,651.0 1767,651.2 1770,651.5 1773,651.8 1776,652.1 1779,652.4 1782,652.7 1785,653.0 1788,653.3 1791,653.7 1794,654.0 1797,654.4 1800,654.7 1803,655.1 1806,655.4 1809,655.8 1812,656.1 1815,656.5 1818,656.9 1821,657.2 1824,657.6 1827,658.0 1830,658.4 1833,658.8 1836,659.1 1839,659.5 1842,659.9 1845,660.3 1848,660.7 1851,661.0 1854,661.4 1857,661.8 1860,662.2 1863,662.5 1866,662.9 1869,663.3 1872,663.6 1875,664.0 1878,664.4 1881,664.7 1884,665.1 1887,665.4 1890,665.8 1893,666.1 1896,666.4 1899,666.8 1902,667.1 1905,667.4 1908,667.7 1911,668.0 1914,668.3 1917,668.6 1920,668.9 1923,669.2 1926,669.5 1929,669.8 1932,670.1 1935,670.3 1938,670.6 1941,670.8 1944,671.1 1947,671.3 1950,671.6 1953,671.8 1956,672.0 1959,672.2 1962,672.5 1965,672.7 1968,672.9 1971,673.1 1974,673.3 1977,673.4 1980,673.6 1983,673.8 1986,674.0 1989,674.1 1992,674.3 1995,674.4 1998,674.6 2001,674.7 2004,674.9 2007,675.0 2010,675.1 2013,675.3 2016,675.4 2019,675.5 2022,675.6 2025,675.7 2028,675.8 2031,675.9 2034,676.0 2037,676.1 2040,676.2 2043,676.3 2046,676.4 2049,676.5 2052,676.6 2055,676.6 2058,676.7 2061,676.8 2064,676.8 2067,676.9 2070,677.0 2073,677.0 2076,677.1 2079,677.1 2082,677.2 2085,677.2 2088,677.3 2091,677.3 2094,677.3 2097,677.4 2100,677.4 2103,677.5 2106,677.5 2109,677.6 2112,677.6 2115,677.7 2118,677.7 2121,677.8 2124,677.8 2127,677.9 2130,677.9 2133,677.9 2136,678.0 2139,678.0 2142,678.0 2145,678.1 2148,678.1 2151,678.2 2154,678.2 2157,678.2 2160,678.3 2163,678.3 2166,678.3 2169,678.3 2172,678.4 2175,678.4 2178,678.4 2181,678.5 2184,678.5 2187,678.5 2190,678.5 2193,678.6 2196,678.6 2199,678.6 2202,678.7 2205,678.7 2208,678.7 2211,678.7 2214,678.8 2217,678.8 2220,678.8 2223,678.8 2226,678.9 2229,678.9 2232,678.9 2235,678.9 2238,678.9 2241,679.0 2244,679.0 2247,679.0 2250,679.0 2253,679.1 2256,679.1 2259,679.1 2262,679.1 2265,679.2 2268,679.2 2271,679.2 2274,679.2 2277,679.2 2280,679.3 2283,679.3 2286,679.3 2289,679.3 2292,679.3 2295,679.4 2298,679.4 2301,679.4 2304,679.4 2307,679.5 2310,679.5 2313,679.5 2316,679.5 2319,679.5 2322,679.6 2325,679.6 2328,679.6 2331,679.6 2334,679.7 2337,679.7 2340,679.7 2343,679.7 2346,679.7 2349,679.8 2352,679.8 2355,679.8 2358,679.8 2361,679.8 2364,679.9 2367,679.9 2370,679.9 2373,679.9 2376,680.0 2379,680.0 2382,680.0 2385,680.0 2388,680.0 2391,680.1 2394,680.1 2397,680.1 2400,680.1 2403,680.1"/>
<polyline stroke="#00FFFF" points="294,666.1 297,666.1 300,666.2 303,666.2 306,666.3 309,666.3 312,666.3 315,666.4 318,666.4 321,666.5 324,666.5 327,666.5 330,666.6 333,666.6 336,666.7 339,666.7 342,666.8 345,666.8 348,666.8 351,666.9 354,666.9 357,667.0 360,667.0 363,667.0 366,667.1 369,667.1 372,667.2 375,667.2 378,667.3 381,667.3 384,667.3 387,667.4 390,667.4 393,667.5 396,667.5 399,667.5 402,667.6 405,667.6 408,667.7 411,667.7 414,667.7 417,667.8 420,667.8 423,667.9 426,667.9 429,668.0 432,668.0 435,668.0 438,668.1 441,668.1 444,668.2 447,668.2 450,668.2 453,668.3 456,668.3 459,668.4 462,668.4 465,668.5 468,668.5 471,668.5 474,668.6 477,668.6 480,668.7 483,668.7 486,668.7 489,668.8 492,668.8 495,668.9 498,668.9 501,668.9 504,669.0 507,669.0 510,669.1 513,669.1 516,669.2 519,669.2 522,669.2 525,669.3 528,669.3 531,669.4 534,669.4 537,669.4 540,669.5 543,669.5 546,669.6 549,669.6 552,669.6 555,669.7 558,669.7 561,669.8 564,669.8 567,669.8 570,669.9 573,669.9 576,670.0 579,670.0 582,670.0 585,670.1 588,670.1 591,670.2 594,670.2 597,670.2 600,670.3 603,670.3 606,670.3 609,670.4 612,670.4 615,670.4 618,670.4 621,670.5 624,670.5 627,670.5 630,670.5 633,670.5 636,670.6 639,670.6 642,670.6 645,670.6 648,670.7 651,670.7 654,670.7 657,670.7 660,670.7 663,670.7 666,670.8 669,670.8 672,670.8 675,670.8 678,670.8 681,670.8 684,670.8 687,670.9 690,670.9 693,670.9 696,670.9 699,670.9 702,670.9 705,670.9 708,670.9 711,670.9 714,670.9 717,670.9 720,670.9 723,670.9 726,670.8 729,670.8 732,670.8 735,670.8 738,670.8 741,670.8 744,670.7 747,670.7 750,670.7 753,670.6 756,670.6 759,670.6 762,670.5 765,670.5 768,670.4 771,670.4 774,670.3 777,670.3 780,670.2 783,670.2 786,670.1 789,670.0 792,669.9 795,669.9 798,669.8 801,669.7 804,669.6 807,669.5 810,669.4 813,669.3 816,669.2 819,669.1 822,668.9 825,668.8 828,668.7 831,668.6 834,668.4 837,668.3 840,668.1 843,668.0 846,667.8 849,667.6 852,667.5 855,667.3 858,667.1 861,666.9 864,666.7 867,666.5 870,666.3 873,666.1 876,665.9 879,665.6 882,665.4 885,665.2 888,664.9 891,664.7 894,664.4 897,664.2 900,663.9 903,663.6 906,663.4 909,663.1 912,662.8 915,662.5 918,662.1 921,661.8 924,661.5 927,661.2 930,660.9 933,660.5 936,660.2 939,659.9 942,659.5 945,659.2 948,658.9 951,658.5 954,658.2 957,657.8 960,657.5 963,657.1 966,656.8 969,656.4 972,656.1 975,655.7 978,655.3 981,655.0 984,654.6 987,654.3 990,653.9 993,653.6 996,653.3 999,652.9 1002,652.6 1005,652.2 1008,651.9 1011,651.6 1014,651.3 1017,651.0 1020,650.6 1023,650.3 1026,650.0 1029,649.7 1032,649.5 1035,649.2 1038,648.9 1041,648.7 1044,648.4 1047,648.1 1050,647.9 1053,647.7 1056,647.5 1059,647.3 1062,647.1 1065,646.9 1068,646.7 1071,646.5 1074,646.4 1077,646.2 1080,646.1 1083,646.0 1086,645.8 1089,645.7 1092,645.6 1095,645.6 1098,645.5 1101,645.5 1104,645.4 1107,645.4 1110,645.4 1113,645.4 1116,645.4 1119,645.4 1122,645.4 1125,645.5 1128,645.6 1131,645.6 1134,645.7 1137,645.8 1140,645.9 1143,646.0 1146,646.2 1149,646.3 1152,646.5 1155,646.6 1158,646.8 1161,647.0 1164,647.2 1167,647.4 1170,647.6 1173,647.9 1176,648.1 1179,648.4 1182,648.6 1185,648.9 1188,649.2 1191,649.5 1194,649.7 1197,650.0 1200,650.4 1203,650.7 1206,651.0 1209,651.4 1212,651.7 1215,652.1 1218,652.4 1221,652.8 1224,653.2 1227,653.5 1230,653.9 1233,654.3 1236,654.7 1239,655.0 1242,655.4 1245,655.8 1248,656.2 1251,656.6 1254,657.0 1257,657.4 1260,657.8 1263,658.2 1266,658.6 1269,658.9 1272,659.3 1275,659.7 1278,660.1 1281,660.5 1284,660.9 1287,661.3 1290,661.6 1293,662.0 1296,662.4 1299,662.7 1302,663.1 1305,663.5 1308,663.8 1311,664.2 1314,664.5 1317,664.9 1320,665.2 1323,665.5 1326,665.9 1329,666.2 1332,666.5 1335,666.8 1338,667.1 1341,667.4 1344,667.7 1347,668.0 1350,668.3 1353,668.6 1356,668.9 1359,669.2 1362,669.4 1365,669.7 1368,669.9 1371,670.2 1374,670.4 1377,670.7 1380,670.9 1383,671.1 1386,671.3 1389,671.6 1392,671.8 1395,672.0 1398,672.2 1401,672.4 1404,672.5 1407,672.7 1410,672.9 1413,673.1 1416,673.3 1419,673.4 1422,673.6 1425,673.7 1428,673.9 1431,674.0 1434,674.2 1437,674.3 1440,674.4 1443,674.6 1446,674.7 1449,674.8 1452,674.9 1455,675.1 1458,675.2 1461,675.3 1464,675.4 1467,675.5 1470,675.6 1473,675.7 1476,675.8 1479,675.9 1482,675.9 1485,676.0 1488,676.1 1491,676.2 1494,676.3 1497,676.3 1500,676.4 1503,676.5 1506,676.5 1509,676.6 1512,676.6 1515,676.6 1518,676.7 1521,676.7 1524,676.7 1527,676.8 1530,676.8 1533,676.8 1536,676.9 1539,676.9 1542,676.9 1545,676.9 1548,677.0 1551,677.0 1554,677.0 1557,677.0 1560,677.0 1563,677.1 1566,677.1 1569,677.1 1572,677.1 1575,677.1 1578,677.1 1581,677.2 1584,677.2 1587,677.2 1590,677.2 1593,677.2 1596,677.2 1599,677.2 1602,677.2 1605,677.3 1608,677.3 1611,677.3 1614,677.3 1617,677.3 1620,677.3 1623,677.3 1626,677.3 1629,677.3 1632,677.3 1635,677.3 1638,677.3 1641,677.4 1644,677.4 1647,677.4 1650,677.4 1653,677.4 1656,677.4 1659,677.4 1662,677.4 1665,677.4 1668,677.4 1671,677.4 1674,677.4 1677,677.4 1680,677.4 1683,677.4 1686,677.4 1689,677.4 1692,677.4 1695,677.5 1698,677.5 1701,677.5 1704,677.5 1707,677.5 1710,677.5 1713,677.5 1716,677.5 1719,677.5 1722,677.5 1725,677.5 1728,677.5 1731,677.5 1734,677.5 1737,677.5 1740,677.5 1743,677.5 1746,677.5 1749,677.5 1752,677.5 1755,677.5 1758,677.5 1761,677.5 1764,677.6 1767,677.6 1770,677.6 1773,677.6 1776,677.6 1779,677.6 1782,677.6 1785,677.6 1788,677.6 1791,677.6 1794,677.6 1797,677.6 1800,677.6 1803,677.6 1806,677.6 1809,677.6 1812,677.6 1815,677.6 1818,677.6 1821,677.6 1824,677.6 1827,677.6 1830,677.6 1833,677.6 1836,677.6 1839,677.7 1842,677.7 1845,677.7 1848,677.7 1851,677.7 1854,677.7 1857,677.7 1860,677.7 1863,677.7 1866,677.7 1869,677.7 1872,677.7 1875,677.7 1878,677.7 1881,677.7 1884,677.7 1887,677.7 1890,677.7 1893,677.7 1896,677.7 1899,677.7 1902,677.7 1905,677.7 1908,677.7 1911,677.7 1914,677.7 1917,677.8 1920,677.8 1923,677.8 1926,677.8 1929,677.8 1932,677.8 1935,677.8 1938,677.8 1941,677.8 1944,677.8 1947,677.8 1950,677.8 1953,677.8 1956,677.8 1959,677.8 1962,677.8 1965,677.8 1968,677.8 1971,677.8 1974,677.8 1977,677.8 1980,677.8 1983,677.8 1986,677.8 1989,677.8 1992,677.8 1995,677.9 1998,677.9 2001,677.9 2004,677.9 2007,677.9 2010,677.9 2013,677.9 2016,677.9 2019,677.9 2022,677.9 2025,677.9 2028,677.9 2031,677.9 2034,677.9 2037,677.9 2040,677.9 2043,677.9 2046,677.9 2049,677.9 2052,677.9 2055,677.9 2058,677.9 2061,677.9 2064,677.9 2067,677.9 2070,678.0 2073,678.0 2076,678.0 2079,678.0 2082,678.0 2085,678.0 2088,678.0 2091,678.0 2094,678.0 2097,678.0 2100,678.0 2103,678.0 2106,678.0 2109,678.1 2112,678.1 2115,678.1 2118,678.1 2121,678.1 2124,678.2 2127,678.2 2130,678.2 2133,678.2 2136,678.2 2139,678.3 2142,678.3 2145,678.3 2148,678.3 2151,678.4 2154,678.4 2157,678.4 2160,678.4 2163,678.4 2166,678.5 2169,678.5 2172,678.5 2175,678.5 2178,678.5 2181,678.6 2184,678.6 2187,678.6 2190,678.6 2193,678.7 2196,678.7 2199,678.7 2202,678.7 2205,678.7 2208,678.8 2211,678.8 2214,678.8 2217,678.8 2220,678.8 2223,678.9 2226,678.9 2229,678.9 2232,678.9 2235,678.9 2238,679.0 2241,679.0 2244,679.0 2247,679.0 2250,679.1 2253,679.1 2256,679.1 2259,679.1 2262,679.1 2265,679.2 2268,679.2 2271,679.2 2274,679.2 2277,679.2 2280,679.3 2283,679.3 2286,679.3 2289,679.3 2292,679.4 2295,679.4 2298,679.4 2301,679.4 2304,679.4 2307,679.5 2310,679.5 2313,679.5 2316,679.5 2319,679.5 2322,679.6 2325,679.6 2328,679.6 2331,679.6 2334,679.7 2337,679.7 2340,679.7 2343,679.7 2346,679.7 2349,679.8 2352,679.8 2355,679.8 2358,679.8 2361,679.8 2364,679.9 2367,679.9 2370,679.9 2373,679.9 2376,680.0 2379,680.0 2382,680.0 2385,680.0 2388,680.0 2391,680.1 2394,680.1 2397,680.1 2400,680.1 2403,680.1"/>
</g>
<clipPath id="cp1"><rect x="294" y="750" width="2110" height="669"/></clipPath>
<g clip-path="url(#cp1)" fill="none" stroke-width="11" stroke-linejoin="round" stroke-linecap="butt" shape-rendering="crispEdges">
<polyline stroke="#000" points="294,1343.5 300,1342.7 306,1342.9 312,1340.6 318,1345.4 324,1344.7 330,1343.1 336,1344.4 342,1343.8 348,1342.9 354,1344.7 360,1343.2 366,1343.2 372,1342.7 378,1344.2 384,1343.5 390,1344.3 396,1342.9 402,1343.8 408,1342.6 414,1344.6 420,1343.8 426,1344.0 432,1344.0 438,1342.3 444,1344.4 450,1345.9 456,1341.3 462,1341.1 468,1341.2 474,1344.1 480,1343.0 486,1344.1 492,1343.5 498,1342.7 504,1342.6 510,1341.7 516,1342.9 522,1339.9 528,1340.6 534,1341.2 540,1343.1 546,1339.1 552,1338.3 558,1338.6 564,1340.4 570,1338.2 576,1340.0 582,1334.7 588,1338.8 594,1338.1 600,1333.7 606,1335.6 612,1336.7 618,1334.2 624,1335.1 630,1336.7 636,1332.5 642,1330.9 648,1329.4 654,1331.2 660,1329.0 666,1328.4 672,1327.8 678,1328.5 684,1324.8 690,1323.3 696,1321.0 702,1327.1 708,1324.5 714,1326.7 720,1323.4 726,1321.6 732,1323.5 738,1322.1 744,1319.6 750,1320.0 756,1324.9 762,1321.9 768,1321.8 774,1320.4 780,1319.4 786,1322.4 792,1320.4 798,1319.2 804,1320.4 810,1318.9 816,1321.1 822,1322.9 828,1319.2 834,1323.6 840,1319.5 846,1321.1 852,1319.2 858,1320.3 864,1320.6 870,1319.5 876,1318.9 882,1319.0 888,1318.8 894,1317.4 900,1319.9 906,1321.1 912,1322.0 918,1321.4 924,1324.7 930,1320.3 936,1318.5 942,1322.7 948,1316.6 954,1320.1 960,1315.7 966,1317.7 972,1312.4 978,1317.4 984,1314.5 990,1312.0 996,1316.5 1002,1313.7 1008,1311.2 1014,1308.5 1020,1308.8 1026,1307.4 1032,1308.1 1038,1307.0 1044,1302.5 1050,1301.5 1056,1300.2 1062,1296.9 1068,1297.2 1074,1296.9 1080,1297.3 1086,1297.3 1092,1290.8 1098,1292.5 1104,1288.6 1110,1293.1 1116,1286.4 1122,1286.1 1128,1280.9 1134,1279.5 1140,1280.3 1146,1277.1 1152,1277.1 1158,1270.3 1164,1274.0 1170,1268.0 1176,1272.6 1182,1265.1 1188,1266.5 1194,1257.4 1200,1259.7 1206,1253.3 1212,1251.5 1218,1249.9 1224,1245.7 1230,1243.9 1236,1241.7 1242,1237.6 1248,1231.3 1254,1223.2 1260,1220.2 1266,1217.2 1272,1206.2 1278,1209.7 1284,1200.9 1290,1194.9 1296,1192.6 1302,1185.2 1308,1176.9 1314,1165.6 1320,1162.7 1326,1155.1 1332,1142.8 1338,1141.5 1344,1131.1 1350,1113.2 1356,1112.1 1362,1097.7 1368,1097.7 1374,1087.0 1380,1069.9 1386,1061.1 1392,1055.4 1398,1044.3 1404,1041.9 1410,1028.9 1416,1014.9 1422,1009.0 1428,988.3 1434,989.2 1440,982.7 1446,969.2 1452,958.3 1458,955.9 1464,954.5 1470,939.0 1476,925.9 1482,931.4 1488,909.8 1494,915.6 1500,905.6 1506,908.5 1512,896.4 1518,903.9 1524,896.7 1530,885.4 1536,883.3 1542,891.2 1548,899.5 1554,895.2 1560,897.0 1566,898.3 1572,906.3 1578,908.7 1584,913.0 1590,912.5 1596,928.7 1602,936.0 1608,930.8 1614,954.9 1620,955.7 1626,958.7 1632,961.2 1638,981.7 1644,990.6 1650,995.2 1656,999.9 1662,1022.3 1668,1025.1 1674,1035.6 1680,1059.2 1686,1066.2 1692,1071.4 1698,1075.7 1704,1089.6 1710,1087.9 1716,1106.3 1722,1112.2 1728,1119.1 1734,1126.6 1740,1142.4 1746,1148.8 1752,1156.6 1758,1166.2 1764,1167.3 1770,1172.6 1776,1177.0 1782,1187.6 1788,1196.6 1794,1198.8 1800,1206.0 1806,1204.7 1812,1211.0 1818,1213.8 1824,1215.7 1830,1228.2 1836,1228.0 1842,1225.6 1848,1227.9 1854,1232.0 1860,1229.6 1866,1236.7 1872,1232.9 1878,1236.8 1884,1235.8 1890,1238.3 1896,1236.5 1902,1236.4 1908,1238.6 1914,1239.9 1920,1241.4 1926,1242.8 1932,1247.3 1938,1245.6 1944,1242.9 1950,1246.2 1956,1242.6 1962,1249.2 1968,1247.3 1974,1242.6 1980,1249.4 1986,1250.6 1992,1241.8 1998,1248.5 2004,1250.6 2010,1248.0 2016,1252.0 2022,1254.1 2028,1260.0 2034,1261.4 2040,1269.8 2046,1263.9 2052,1270.3 2058,1269.9 2064,1272.9 2070,1271.7 2076,1272.4 2082,1278.0 2088,1284.6 2094,1289.3 2100,1289.6 2106,1292.0 2112,1291.6 2118,1299.9 2124,1302.2 2130,1300.5 2136,1304.3 2142,1304.8 2148,1312.8 2154,1313.0 2160,1314.3 2166,1317.8 2172,1320.1 2178,1320.6 2184,1321.1 2190,1323.1 2196,1324.3 2202,1330.5 2208,1335.6 2214,1330.0 2220,1335.1 2226,1337.2 2232,1336.2 2238,1339.7 2244,1338.8 2250,1344.0 2256,1342.2 2262,1344.4 2268,1346.4 2274,1345.6 2280,1344.4 2286,1347.2 2292,1350.1 2298,1349.5 2304,1350.7 2310,1349.4 2316,1351.8 2322,1353.2 2328,1352.7 2334,1355.8 2340,1353.3 2346,1352.5 2352,1352.1 2358,1356.3 2364,1355.0 2370,1356.7 2376,1356.2 2382,1358.1 2388,1357.8 2394,1355.9 2400,1357.0"/>
<polyline stroke="#FF0000" points="294,1343.3 297,1343.3 300,1343.3 303,1343.3 306,1343.3 309,1343.4 312,1343.4 315,1343.4 318,1343.4 321,1343.4 324,1343.4 327,1343.5 330,1343.5 333,1343.5 336,1343.5 339,1343.5 342,1343.5 345,1343.5 348,1343.6 351,1343.6 354,1343.6 357,1343.6 360,1343.6 363,1343.6 366,1343.6 369,1343.6 372,1343.6 375,1343.6 378,1343.6 381,1343.6 384,1343.7 387,1343.7 390,1343.7 393,1343.7 396,1343.7 399,1343.7 402,1343.6 405,1343.6 408,1343.6 411,1343.6 414,1343.6 417,1343.6 420,1343.6 423,1343.6 426,1343.6 429,1343.5 432,1343.5 435,1343.5 438,1343.5 441,1343.4 444,1343.4 447,1343.4 450,1343.3 453,1343.3 456,1343.3 459,1343.2 462,1343.2 465,1343.1 468,1343.1 471,1343.0 474,1342.9 477,1342.9 480,1342.8 483,1342.7 486,1342.6 489,1342.6 492,1342.5 495,1342.4 498,1342.3 501,1342.2 504,1342.1 507,1341.9 510,1341.8 513,1341.7 516,1341.6 519,1341.4 522,1341.3 525,1341.2 528,1341.0 531,1340.8 534,1340.7 537,1340.5 540,1340.3 543,1340.2 546,1340.0 549,1339.8 552,1339.6 555,1339.4 558,1339.2 561,1338.9 564,1338.7 567,1338.5 570,1338.2 573,1338.0 576,1337.8 579,1337.5 582,1337.2 585,1337.0 588,1336.7 591,1336.4 594,1336.1 597,1335.9 600,1335.6 603,1335.3 606,1335.0 609,1334.6 612,1334.3 615,1334.0 618,1333.7 621,1333.4 624,1333.0 627,1332.7 630,1332.4 633,1332.0 636,1331.7 639,1331.3 642,1331.0 645,1330.7 648,1330.3 651,1330.0 654,1329.6 657,1329.3 660,1329.0 663,1328.6 666,1328.3 669,1328.0 672,1327.6 675,1327.3 678,1327.0 681,1326.7 684,1326.3 687,1326.0 690,1325.7 693,1325.4 696,1325.2 699,1324.9 702,1324.6 705,1324.3 708,1324.1 711,1323.8 714,1323.6 717,1323.4 720,1323.1 723,1322.9 726,1322.7 729,1322.6 732,1322.4 735,1322.2 738,1322.1 741,1321.9 744,1321.8 747,1321.7 750,1321.6 753,1321.4 756,1321.3 759,1321.2 762,1321.1 765,1321.0 768,1321.0 771,1320.9 774,1320.8 777,1320.8 780,1320.7 783,1320.7 786,1320.7 789,1320.6 792,1320.6 795,1320.6 798,1320.6 801,1320.6 804,1320.6 807,1320.7 810,1320.7 813,1320.7 816,1320.7 819,1320.7 822,1320.7 825,1320.8 828,1320.8 831,1320.8 834,1320.8 837,1320.8 840,1320.8 843,1320.8 846,1320.8 849,1320.8 852,1320.7 855,1320.7 858,1320.6 861,1320.5 864,1320.4 867,1320.3 870,1320.2 873,1320.2 876,1320.3 879,1320.3 882,1320.3 885,1320.4 888,1320.4 891,1320.4 894,1320.4 897,1320.4 900,1320.3 903,1320.3 906,1320.3 909,1320.2 912,1320.2 915,1320.1 918,1320.0 921,1319.9 924,1319.8 927,1319.7 930,1319.5 933,1319.4 936,1319.2 939,1319.0 942,1318.8 945,1318.6 948,1318.4 951,1318.1 954,1317.8 957,1317.6 960,1317.3 963,1317.0 966,1316.6 969,1316.3 972,1315.9 975,1315.6 978,1315.2 981,1314.8 984,1314.3 987,1313.9 990,1313.5 993,1313.0 996,1312.5 999,1312.0 1002,1311.5 1005,1311.0 1008,1310.5 1011,1309.9 1014,1309.4 1017,1308.8 1020,1308.2 1023,1307.6 1026,1307.0 1029,1306.4 1032,1305.8 1035,1305.2 1038,1304.5 1041,1303.9 1044,1303.2 1047,1302.6 1050,1301.9 1053,1301.2 1056,1300.5 1059,1299.9 1062,1299.2 1065,1298.5 1068,1297.7 1071,1297.0 1074,1296.3 1077,1295.6 1080,1294.8 1083,1294.1 1086,1293.3 1089,1292.6 1092,1291.8 1095,1291.1 1098,1290.3 1101,1289.5 1104,1288.8 1107,1288.0 1110,1287.2 1113,1286.4 1116,1285.6 1119,1284.8 1122,1283.9 1125,1283.1 1128,1282.3 1131,1281.4 1134,1280.5 1137,1279.7 1140,1278.8 1143,1277.9 1146,1277.0 1149,1276.0 1152,1275.1 1155,1274.1 1158,1273.2 1161,1272.2 1164,1271.1 1167,1270.1 1170,1269.0 1173,1268.0 1176,1266.9 1179,1265.7 1182,1264.6 1185,1263.4 1188,1262.1 1191,1260.9 1194,1259.6 1197,1258.3 1200,1256.9 1203,1255.5 1206,1254.1 1209,1252.6 1212,1251.1 1215,1249.6 1218,1248.0 1221,1246.3 1224,1244.6 1227,1242.9 1230,1241.1 1233,1239.2 1236,1237.3 1239,1235.3 1242,1233.3 1245,1231.2 1248,1229.1 1251,1226.9 1254,1224.6 1257,1222.3 1260,1219.9 1263,1217.4 1266,1214.9 1269,1212.3 1272,1209.6 1275,1206.9 1278,1204.1 1281,1201.2 1284,1198.2 1287,1195.2 1290,1192.1 1293,1189.0 1296,1185.7 1299,1182.4 1302,1179.0 1305,1175.5 1308,1172.0 1311,1168.4 1314,1164.7 1317,1161.0 1320,1157.1 1323,1153.2 1326,1149.3 1329,1145.3 1332,1141.2 1335,1137.0 1338,1132.8 1341,1128.5 1344,1124.2 1347,1119.8 1350,1115.4 1353,1110.9 1356,1106.4 1359,1101.8 1362,1097.2 1365,1092.5 1368,1087.8 1371,1083.1 1374,1078.3 1377,1073.5 1380,1068.7 1383,1063.9 1386,1059.0 1389,1054.2 1392,1049.3 1395,1044.4 1398,1039.6 1401,1034.7 1404,1029.8 1407,1025.0 1410,1020.1 1413,1015.3 1416,1010.5 1419,1005.8 1422,1001.0 1425,996.3 1428,991.7 1431,987.1 1434,982.6 1437,978.1 1440,973.7 1443,969.3 1446,965.0 1449,960.8 1452,956.7 1455,952.7 1458,948.7 1461,944.9 1464,941.1 1467,937.5 1470,933.9 1473,930.5 1476,927.2 1479,924.1 1482,921.0 1485,918.1 1488,915.4 1491,912.7 1494,910.3 1497,907.9 1500,905.8 1503,903.7 1506,901.9 1509,900.2 1512,898.7 1515,897.3 1518,896.1 1521,895.1 1524,894.2 1527,893.6 1530,893.1 1533,892.8 1536,892.6 1539,892.7 1542,892.9 1545,893.3 1548,893.9 1551,894.7 1554,895.7 1557,896.8 1560,898.1 1563,899.6 1566,901.3 1569,903.1 1572,905.1 1575,907.3 1578,909.6 1581,912.1 1584,914.8 1587,917.6 1590,920.6 1593,923.6 1596,926.9 1599,930.3 1602,933.8 1605,937.4 1608,941.2 1611,945.0 1614,949.0 1617,953.1 1620,957.3 1623,961.6 1626,966.0 1629,970.4 1632,974.9 1635,979.6 1638,984.2 1641,989.0 1644,993.8 1647,998.6 1650,1003.5 1653,1008.4 1656,1013.4 1659,1018.3 1662,1023.3 1665,1028.4 1668,1033.4 1671,1038.4 1674,1043.5 1677,1048.5 1680,1053.5 1683,1058.5 1686,1063.5 1689,1068.4 1692,1073.4 1695,1078.3 1698,1083.1 1701,1087.9 1704,1092.7 1707,1097.4 1710,1102.1 1713,1106.7 1716,1111.3 1719,1115.8 1722,1120.2 1725,1124.5 1728,1128.8 1731,1133.0 1734,1137.2 1737,1141.2 1740,1145.2 1743,1149.1 1746,1152.9 1749,1156.7 1752,1160.3 1755,1163.9 1758,1167.4 1761,1170.8 1764,1174.1 1767,1177.3 1770,1180.4 1773,1183.4 1776,1186.3 1779,1189.2 1782,1191.9 1785,1194.6 1788,1197.2 1791,1199.7 1794,1202.1 1797,1204.4 1800,1206.6 1803,1208.7 1806,1210.8 1809,1212.8 1812,1214.6 1815,1216.4 1818,1218.2 1821,1219.8 1824,1221.4 1827,1222.9 1830,1224.3 1833,1225.6 1836,1226.9 1839,1228.1 1842,1229.3 1845,1230.3 1848,1231.3 1851,1232.3 1854,1233.2 1857,1234.0 1860,1234.8 1863,1235.5 1866,1236.2 1869,1236.8 1872,1237.4 1875,1237.9 1878,1238.4 1881,1238.9 1884,1239.3 1887,1239.7 1890,1240.1 1893,1240.4 1896,1240.7 1899,1241.0 1902,1241.2 1905,1241.5 1908,1241.7 1911,1241.9 1914,1242.1 1917,1242.3 1920,1242.5 1923,1242.6 1926,1242.8 1929,1243.0 1932,1243.1 1935,1243.3 1938,1243.5 1941,1243.7 1944,1243.9 1947,1244.1 1950,1244.3 1953,1244.6 1956,1244.9 1959,1245.1 1962,1245.4 1965,1245.8 1968,1246.1 1971,1246.5 1974,1246.9 1977,1247.4 1980,1247.8 1983,1248.3 1986,1248.9 1989,1249.4 1992,1250.0 1995,1250.7 1998,1251.3 2001,1252.0 2004,1252.8 2007,1253.5 2010,1254.3 2013,1255.1 2016,1256.0 2019,1256.9 2022,1257.8 2025,1258.8 2028,1259.8 2031,1260.8 2034,1261.8 2037,1262.9 2040,1264.0 2043,1265.1 2046,1266.3 2049,1267.5 2052,1268.7 2055,1269.9 2058,1271.1 2061,1272.4 2064,1273.6 2067,1274.9 2070,1276.2 2073,1277.5 2076,1278.8 2079,1280.2 2082,1281.5 2085,1282.9 2088,1284.2 2091,1285.6 2094,1286.9 2097,1288.3 2100,1289.7 2103,1291.1 2106,1292.4 2109,1293.8 2112,1295.2 2115,1296.6 2118,1297.9 2121,1299.3 2124,1300.6 2127,1302.0 2130,1303.3 2133,1304.6 2136,1305.9 2139,1307.2 2142,1308.5 2145,1309.8 2148,1311.0 2151,1312.3 2154,1313.5 2157,1314.7 2160,1315.9 2163,1317.1 2166,1318.3 2169,1319.4 2172,1320.5 2175,1321.6 2178,1322.7 2181,1323.8 2184,1324.8 2187,1325.9 2190,1326.9 2193,1327.8 2196,1328.8 2199,1329.8 2202,1330.7 2205,1331.6 2208,1332.5 2211,1333.3 2214,1334.2 2217,1335.0 2220,1335.8 2223,1336.6 2226,1337.3 2229,1338.1 2232,1338.8 2235,1339.5 2238,1340.1 2241,1340.8 2244,1341.4 2247,1342.1 2250,1342.7 2253,1343.2 2256,1343.8 2259,1344.4 2262,1344.9 2265,1345.4 2268,1345.9 2271,1346.4 2274,1346.8 2277,1347.3 2280,1347.7 2283,1348.1 2286,1348.6 2289,1348.9 2292,1349.3 2295,1349.7 2298,1350.0 2301,1350.4 2304,1350.7 2307,1351.0 2310,1351.3 2313,1351.6 2316,1351.9 2319,1352.2 2322,1352.4 2325,1352.7 2328,1352.9 2331,1353.2 2334,1353.4 2337,1353.6 2340,1353.8 2343,1354.0 2346,1354.2 2349,1354.4 2352,1354.6 2355,1354.7 2358,1354.9 2361,1355.1 2364,1355.2 2367,1355.4 2370,1355.5 2373,1355.6 2376,1355.8 2379,1355.9 2382,1356.0 2385,1356.2 2388,1356.3 2391,1356.4 2394,1356.5 2397,1356.6 2400,1356.7 2403,1356.8"/>
<polyline stroke="#0000FF" points="294,1343.7 297,1343.7 300,1343.7 303,1343.7 306,1343.8 309,1343.8 312,1343.8 315,1343.8 318,1343.8 321,1343.9 324,1343.9 327,1343.9 330,1343.9 333,1343.9 336,1344.0 339,1344.0 342,1344.0 345,1344.0 348,1344.0 351,1344.0 354,1344.1 357,1344.1 360,1344.1 363,1344.1 366,1344.1 369,1344.2 372,1344.2 375,1344.2 378,1344.2 381,1344.2 384,1344.3 387,1344.3 390,1344.3 393,1344.3 396,1344.3 399,1344.3 402,1344.4 405,1344.4 408,1344.4 411,1344.4 414,1344.4 417,1344.5 420,1344.5 423,1344.5 426,1344.5 429,1344.5 432,1344.6 435,1344.6 438,1344.6 441,1344.6 444,1344.6 447,1344.6 450,1344.7 453,1344.7 456,1344.7 459,1344.7 462,1344.7 465,1344.8 468,1344.8 471,1344.8 474,1344.8 477,1344.8 480,1344.9 483,1344.9 486,1344.9 489,1344.9 492,1344.9 495,1344.9 498,1345.0 501,1345.0 504,1345.0 507,1345.0 510,1345.0 513,1345.1 516,1345.1 519,1345.1 522,1345.1 525,1345.1 528,1345.1 531,1345.2 534,1345.2 537,1345.2 540,1345.2 543,1345.2 546,1345.3 549,1345.3 552,1345.3 555,1345.3 558,1345.3 561,1345.4 564,1345.4 567,1345.4 570,1345.4 573,1345.4 576,1345.4 579,1345.5 582,1345.5 585,1345.5 588,1345.5 591,1345.5 594,1345.6 597,1345.6 600,1345.6 603,1345.6 606,1345.6 609,1345.6 612,1345.6 615,1345.7 618,1345.7 621,1345.7 624,1345.7 627,1345.7 630,1345.7 633,1345.7 636,1345.7 639,1345.7 642,1345.8 645,1345.8 648,1345.8 651,1345.8 654,1345.8 657,1345.8 660,1345.8 663,1345.8 666,1345.9 669,1345.9 672,1345.9 675,1345.9 678,1345.9 681,1345.9 684,1345.9 687,1345.9 690,1346.0 693,1346.0 696,1346.0 699,1346.0 702,1346.0 705,1346.0 708,1346.0 711,1346.0 714,1346.1 717,1346.1 720,1346.1 723,1346.1 726,1346.1 729,1346.1 732,1346.1 735,1346.1 738,1346.1 741,1346.2 744,1346.2 747,1346.2 750,1346.2 753,1346.2 756,1346.2 759,1346.2 762,1346.2 765,1346.3 768,1346.3 771,1346.3 774,1346.3 777,1346.3 780,1346.3 783,1346.3 786,1346.3 789,1346.3 792,1346.4 795,1346.4 798,1346.4 801,1346.4 804,1346.4 807,1346.4 810,1346.4 813,1346.4 816,1346.4 819,1346.5 822,1346.5 825,1346.5 828,1346.5 831,1346.5 834,1346.5 837,1346.5 840,1346.5 843,1346.5 846,1346.6 849,1346.6 852,1346.6 855,1346.6 858,1346.6 861,1346.6 864,1346.6 867,1346.6 870,1346.6 873,1346.7 876,1346.7 879,1346.7 882,1346.7 885,1346.7 888,1346.7 891,1346.7 894,1346.7 897,1346.7 900,1346.7 903,1346.8 906,1346.8 909,1346.8 912,1346.8 915,1346.8 918,1346.9 921,1346.9 924,1346.9 927,1346.9 930,1346.9 933,1347.0 936,1347.0 939,1347.0 942,1347.0 945,1347.0 948,1347.1 951,1347.1 954,1347.1 957,1347.1 960,1347.1 963,1347.2 966,1347.2 969,1347.2 972,1347.2 975,1347.2 978,1347.3 981,1347.3 984,1347.3 987,1347.3 990,1347.3 993,1347.3 996,1347.3 999,1347.4 1002,1347.4 1005,1347.4 1008,1347.4 1011,1347.4 1014,1347.4 1017,1347.4 1020,1347.4 1023,1347.5 1026,1347.5 1029,1347.5 1032,1347.5 1035,1347.5 1038,1347.5 1041,1347.5 1044,1347.5 1047,1347.5 1050,1347.5 1053,1347.5 1056,1347.5 1059,1347.5 1062,1347.5 1065,1347.5 1068,1347.4 1071,1347.4 1074,1347.4 1077,1347.4 1080,1347.3 1083,1347.3 1086,1347.3 1089,1347.2 1092,1347.2 1095,1347.2 1098,1347.1 1101,1347.0 1104,1347.0 1107,1346.9 1110,1346.8 1113,1346.7 1116,1346.7 1119,1346.6 1122,1346.4 1125,1346.3 1128,1346.2 1131,1346.1 1134,1345.9 1137,1345.8 1140,1345.6 1143,1345.4 1146,1345.2 1149,1345.0 1152,1344.8 1155,1344.5 1158,1344.3 1161,1344.0 1164,1343.7 1167,1343.4 1170,1343.0 1173,1342.7 1176,1342.3 1179,1341.9 1182,1341.5 1185,1341.0 1188,1340.5 1191,1340.0 1194,1339.5 1197,1338.9 1200,1338.3 1203,1337.7 1206,1337.0 1209,1336.3 1212,1335.6 1215,1334.8 1218,1333.9 1221,1333.1 1224,1332.2 1227,1331.2 1230,1330.2 1233,1329.1 1236,1328.0 1239,1326.8 1242,1325.6 1245,1324.4 1248,1323.0 1251,1321.6 1254,1320.2 1257,1318.6 1260,1317.1 1263,1315.4 1266,1313.7 1269,1311.9 1272,1310.0 1275,1308.1 1278,1306.0 1281,1304.0 1284,1301.8 1287,1299.5 1290,1297.2 1293,1294.8 1296,1292.3 1299,1289.7 1302,1287.0 1305,1284.3 1308,1281.4 1311,1278.5 1314,1275.5 1317,1272.4 1320,1269.2 1323,1265.9 1326,1262.5 1329,1259.0 1332,1255.4 1335,1251.8 1338,1248.1 1341,1244.2 1344,1240.3 1347,1236.3 1350,1232.2 1353,1228.0 1356,1223.8 1359,1219.5 1362,1215.0 1365,1210.6 1368,1206.0 1371,1201.4 1374,1196.7 1377,1191.9 1380,1187.1 1383,1182.2 1386,1177.2 1389,1172.2 1392,1167.2 1395,1162.1 1398,1156.9 1401,1151.8 1404,1146.6 1407,1141.4 1410,1136.1 1413,1130.9 1416,1125.6 1419,1120.3 1422,1115.0 1425,1109.8 1428,1104.5 1431,1099.3 1434,1094.1 1437,1088.9 1440,1083.8 1443,1078.7 1446,1073.6 1449,1068.7 1452,1063.7 1455,1058.9 1458,1054.1 1461,1049.4 1464,1044.8 1467,1040.3 1470,1035.9 1473,1031.6 1476,1027.4 1479,1023.4 1482,1019.5 1485,1015.7 1488,1012.0 1491,1008.5 1494,1005.1 1497,1001.9 1500,998.9 1503,996.0 1506,993.3 1509,990.7 1512,988.4 1515,986.2 1518,984.2 1521,982.4 1524,980.8 1527,979.4 1530,978.1 1533,977.1 1536,976.3 1539,975.7 1542,975.3 1545,975.1 1548,975.1 1551,975.3 1554,975.7 1557,976.3 1560,977.1 1563,978.2 1566,979.4 1569,980.8 1572,982.4 1575,984.2 1578,986.2 1581,988.4 1584,990.8 1587,993.3 1590,996.1 1593,998.9 1596,1002.0 1599,1005.2 1602,1008.6 1605,1012.2 1608,1015.8 1611,1019.7 1614,1023.6 1617,1027.7 1620,1031.9 1623,1036.2 1626,1040.6 1629,1045.2 1632,1049.8 1635,1054.5 1638,1059.4 1641,1064.2 1644,1069.2 1647,1074.2 1650,1079.3 1653,1084.4 1656,1089.6 1659,1094.8 1662,1100.1 1665,1105.4 1668,1110.7 1671,1116.0 1674,1121.3 1677,1126.6 1680,1131.9 1683,1137.2 1686,1142.5 1689,1147.8 1692,1153.1 1695,1158.3 1698,1163.5 1701,1168.6 1704,1173.7 1707,1178.8 1710,1183.8 1713,1188.7 1716,1193.6 1719,1198.5 1722,1203.2 1725,1207.9 1728,1212.6 1731,1217.1 1734,1221.6 1737,1226.0 1740,1230.3 1743,1234.6 1746,1238.7 1749,1242.8 1752,1246.8 1755,1250.7 1758,1254.5 1761,1258.2 1764,1261.8 1767,1265.4 1770,1268.8 1773,1272.2 1776,1275.4 1779,1278.6 1782,1281.7 1785,1284.7 1788,1287.6 1791,1290.4 1794,1293.2 1797,1295.8 1800,1298.4 1803,1300.9 1806,1303.3 1809,1305.6 1812,1307.8 1815,1310.0 1818,1312.1 1821,1314.1 1824,1316.0 1827,1317.9 1830,1319.7 1833,1321.4 1836,1323.0 1839,1324.6 1842,1326.1 1845,1327.6 1848,1329.0 1851,1330.3 1854,1331.6 1857,1332.8 1860,1334.0 1863,1335.1 1866,1336.2 1869,1337.2 1872,1338.2 1875,1339.1 1878,1340.0 1881,1340.8 1884,1341.6 1887,1342.4 1890,1343.1 1893,1343.8 1896,1344.5 1899,1345.1 1902,1345.7 1905,1346.3 1908,1346.8 1911,1347.3 1914,1347.8 1917,1348.2 1920,1348.7 1923,1349.1 1926,1349.5 1929,1349.8 1932,1350.2 1935,1350.5 1938,1350.8 1941,1351.1 1944,1351.4 1947,1351.6 1950,1351.9 1953,1352.1 1956,1352.3 1959,1352.5 1962,1352.7 1965,1352.9 1968,1353.1 1971,1353.2 1974,1353.4 1977,1353.5 1980,1353.7 1983,1353.8 1986,1353.9 1989,1354.1 1992,1354.2 1995,1354.3 1998,1354.4 2001,1354.5 2004,1354.6 2007,1354.6 2010,1354.7 2013,1354.8 2016,1354.9 2019,1354.9 2022,1355.0 2025,1355.1 2028,1355.1 2031,1355.2 2034,1355.2 2037,1355.3 2040,1355.4 2043,1355.4 2046,1355.4 2049,1355.5 2052,1355.5 2055,1355.6 2058,1355.6 2061,1355.7 2064,1355.7 2067,1355.7 2070,1355.8 2073,1355.8 2076,1355.8 2079,1355.9 2082,1355.9 2085,1356.0 2088,1356.0 2091,1356.0 2094,1356.0 2097,1356.1 2100,1356.1 2103,1356.1 2106,1356.2 2109,1356.2 2112,1356.3 2115,1356.3 2118,1356.3 2121,1356.4 2124,1356.4 2127,1356.5 2130,1356.5 2133,1356.5 2136,1356.6 2139,1356.6 2142,1356.7 2145,1356.7 2148,1356.7 2151,1356.8 2154,1356.8 2157,1356.8 2160,1356.9 2163,1356.9 2166,1356.9 2169,1357.0 2172,1357.0 2175,1357.1 2178,1357.1 2181,1357.1 2184,1357.2 2187,1357.2 2190,1357.2 2193,1357.3 2196,1357.3 2199,1357.3 2202,1357.4 2205,1357.4 2208,1357.4 2211,1357.5 2214,1357.5 2217,1357.6 2220,1357.6 2223,1357.6 2226,1357.7 2229,1357.7 2232,1357.7 2235,1357.8 2238,1357.8 2241,1357.8 2244,1357.9 2247,1357.9 2250,1357.9 2253,1358.0 2256,1358.0 2259,1358.0 2262,1358.1 2265,1358.1 2268,1358.1 2271,1358.2 2274,1358.2 2277,1358.2 2280,1358.3 2283,1358.3 2286,1358.4 2289,1358.4 2292,1358.4 2295,1358.5 2298,1358.5 2301,1358.5 2304,1358.6 2307,1358.6 2310,1358.6 2313,1358.7 2316,1358.7 2319,1358.7 2322,1358.8 2325,1358.8 2328,1358.8 2331,1358.9 2334,1358.9 2337,1358.9 2340,1359.0 2343,1359.0 2346,1359.0 2349,1359.1 2352,1359.1 2355,1359.1 2358,1359.2 2361,1359.2 2364,1359.2 2367,1359.3 2370,1359.3 2373,1359.3 2376,1359.4 2379,1359.4 2382,1359.4 2385,1359.5 2388,1359.5 2391,1359.5 2394,1359.6 2397,1359.6 2400,1359.6 2403,1359.7"/>
<polyline stroke="#FF00FF" points="1086,1343.5 1089,1343.3 1092,1343.0 1095,1342.8 1098,1342.6 1101,1342.3 1104,1342.1 1107,1341.8 1110,1341.5 1113,1341.3 1116,1341.0 1119,1340.6 1122,1340.3 1125,1340.0 1128,1339.6 1131,1339.3 1134,1338.9 1137,1338.5 1140,1338.1 1143,1337.7 1146,1337.2 1149,1336.8 1152,1336.3 1155,1335.8 1158,1335.4 1161,1334.8 1164,1334.3 1167,1333.8 1170,1333.2 1173,1332.7 1176,1332.1 1179,1331.5 1182,1330.9 1185,1330.2 1188,1329.6 1191,1328.9 1194,1328.2 1197,1327.6 1200,1326.9 1203,1326.1 1206,1325.4 1209,1324.7 1212,1323.9 1215,1323.1 1218,1322.4 1221,1321.6 1224,1320.7 1227,1319.9 1230,1319.1 1233,1318.3 1236,1317.4 1239,1316.5 1242,1315.7 1245,1314.8 1248,1313.9 1251,1313.0 1254,1312.1 1257,1311.2 1260,1310.3 1263,1309.4 1266,1308.5 1269,1307.5 1272,1306.6 1275,1305.7 1278,1304.8 1281,1303.9 1284,1302.9 1287,1302.0 1290,1301.1 1293,1300.2 1296,1299.3 1299,1298.4 1302,1297.6 1305,1296.7 1308,1295.8 1311,1295.0 1314,1294.2 1317,1293.4 1320,1292.6 1323,1291.8 1326,1291.0 1329,1290.3 1332,1289.5 1335,1288.8 1338,1288.2 1341,1287.5 1344,1286.9 1347,1286.3 1350,1285.7 1353,1285.1 1356,1284.6 1359,1284.1 1362,1283.7 1365,1283.2 1368,1282.8 1371,1282.5 1374,1282.1 1377,1281.9 1380,1281.6 1383,1281.4 1386,1281.2 1389,1281.0 1392,1280.9 1395,1280.8 1398,1280.8 1401,1280.8 1404,1280.8 1407,1280.9 1410,1281.0 1413,1281.2 1416,1281.3 1419,1281.6 1422,1281.8 1425,1282.1 1428,1282.5 1431,1282.8 1434,1283.2 1437,1283.6 1440,1284.1 1443,1284.6 1446,1285.1 1449,1285.7 1452,1286.3 1455,1286.9 1458,1287.6 1461,1288.2 1464,1288.9 1467,1289.6 1470,1290.4 1473,1291.2 1476,1291.9 1479,1292.8 1482,1293.6 1485,1294.4 1488,1295.3 1491,1296.2 1494,1297.1 1497,1298.0 1500,1298.9 1503,1299.8 1506,1300.7 1509,1301.7 1512,1302.6 1515,1303.6 1518,1304.5 1521,1305.5 1524,1306.5 1527,1307.4 1530,1308.4 1533,1309.4 1536,1310.3 1539,1311.3 1542,1312.3 1545,1313.2 1548,1314.2 1551,1315.2 1554,1316.1 1557,1317.0 1560,1318.0 1563,1318.9 1566,1319.8 1569,1320.7 1572,1321.6 1575,1322.5 1578,1323.4 1581,1324.3 1584,1325.1 1587,1326.0 1590,1326.8 1593,1327.6 1596,1328.4 1599,1329.2 1602,1330.0 1605,1330.7 1608,1331.5 1611,1332.2 1614,1332.9 1617,1333.6 1620,1334.3 1623,1335.0 1626,1335.6 1629,1336.3 1632,1336.9 1635,1337.5 1638,1338.1 1641,1338.7 1644,1339.2 1647,1339.8 1650,1340.3 1653,1340.8 1656,1341.3 1659,1341.8 1662,1342.3 1665,1342.8 1668,1343.2 1671,1343.6 1674,1344.1 1677,1344.5 1680,1344.9 1683,1345.2 1686,1345.6 1689,1346.0 1692,1346.3 1695,1346.6 1698,1346.9 1701,1347.3 1704,1347.6 1707,1347.8 1710,1348.1 1713,1348.4 1716,1348.6 1719,1348.9 1722,1349.1 1725,1349.3 1728,1349.6 1731,1349.8 1734,1350.0 1737,1350.2 1740,1350.4 1743,1350.5 1746,1350.7 1749,1350.9 1752,1351.0 1755,1351.2 1758,1351.3 1761,1351.5 1764,1351.6 1767,1351.7 1770,1351.9 1773,1352.0 1776,1352.1 1779,1352.2 1782,1352.3 1785,1352.4 1788,1352.5 1791,1352.6 1794,1352.7 1797,1352.8 1800,1352.9 1803,1353.0 1806,1353.0 1809,1353.1 1812,1353.2 1815,1353.3 1818,1353.3 1821,1353.4 1824,1353.4 1827,1353.5 1830,1353.6 1833,1353.6 1836,1353.7 1839,1353.7 1842,1353.8 1845,1353.8 1848,1353.9 1851,1353.9 1854,1354.0 1857,1354.0 1860,1354.1 1863,1354.1 1866,1354.1 1869,1354.2 1872,1354.2 1875,1354.3 1878,1354.3 1881,1354.3 1884,1354.4 1887,1354.4 1890,1354.4 1893,1354.5 1896,1354.5 1899,1354.5 1902,1354.6 1905,1354.6 1908,1354.6 1911,1354.7 1914,1354.7 1917,1354.7 1920,1354.8 1923,1354.8 1926,1354.8 1929,1354.9 1932,1354.9 1935,1354.9 1938,1354.9 1941,1355.0 1944,1355.0 1947,1355.0 1950,1355.0 1953,1355.1 1956,1355.1 1959,1355.1 1962,1355.2 1965,1355.2 1968,1355.2 1971,1355.2 1974,1355.3 1977,1355.3 1980,1355.3 1983,1355.3 1986,1355.4 1989,1355.4 1992,1355.4 1995,1355.4 1998,1355.5 2001,1355.5 2004,1355.5 2007,1355.6 2010,1355.6 2013,1355.6 2016,1355.6 2019,1355.7 2022,1355.7 2025,1355.7 2028,1355.7 2031,1355.8 2034,1355.8 2037,1355.8 2040,1355.8 2043,1355.9 2046,1355.9 2049,1355.9 2052,1355.9 2055,1355.9 2058,1356.0 2061,1356.0 2064,1356.0 2067,1356.0 2070,1356.1 2073,1356.1 2076,1356.1 2079,1356.1 2082,1356.2 2085,1356.2 2088,1356.2 2091,1356.2 2094,1356.3 2097,1356.3 2100,1356.3 2103,1356.3 2106,1356.4 2109,1356.4 2112,1356.5 2115,1356.5 2118,1356.5 2121,1356.6 2124,1356.6 2127,1356.6 2130,1356.7 2133,1356.7 2136,1356.7 2139,1356.8 2142,1356.8 2145,1356.8 2148,1356.9 2151,1356.9 2154,1356.9 2157,1357.0 2160,1357.0 2163,1357.0 2166,1357.1 2169,1357.1 2172,1357.1 2175,1357.2 2178,1357.2 2181,1357.2 2184,1357.3 2187,1357.3 2190,1357.3 2193,1357.4 2196,1357.4 2199,1357.4 2202,1357.5 2205,1357.5 2208,1357.6 2211,1357.6 2214,1357.6 2217,1357.7 2220,1357.7 2223,1357.7 2226,1357.8 2229,1357.8 2232,1357.8 2235,1357.9 2238,1357.9 2241,1357.9 2244,1358.0 2247,1358.0 2250,1358.0 2253,1358.1 2256,1358.1 2259,1358.1 2262,1358.2 2265,1358.2 2268,1358.2 2271,1358.3 2274,1358.3 2277,1358.3 2280,1358.4 2283,1358.4 2286,1358.4 2289,1358.5 2292,1358.5 2295,1358.5 2298,1358.6 2301,1358.6 2304,1358.6 2307,1358.7 2310,1358.7 2313,1358.7 2316,1358.8 2319,1358.8 2322,1358.8 2325,1358.9 2328,1358.9 2331,1358.9 2334,1359.0 2337,1359.0 2340,1359.0 2343,1359.1 2346,1359.1 2349,1359.1 2352,1359.2 2355,1359.2 2358,1359.2 2361,1359.3 2364,1359.3 2367,1359.3 2370,1359.4 2373,1359.4 2376,1359.4 2379,1359.5 2382,1359.5 2385,1359.5 2388,1359.6 2391,1359.6 2394,1359.6 2397,1359.7 2400,1359.7 2403,1359.7"/>
<polyline stroke="#800000" points="1026,1346.1 1029,1346.0 1032,1346.0 1035,1346.0 1038,1345.9 1041,1345.9 1044,1345.8 1047,1345.7 1050,1345.7 1053,1345.6 1056,1345.5 1059,1345.5 1062,1345.4 1065,1345.3 1068,1345.2 1071,1345.1 1074,1345.0 1077,1344.9 1080,1344.8 1083,1344.7 1086,1344.6 1089,1344.5 1092,1344.4 1095,1344.2 1098,1344.1 1101,1344.0 1104,1343.8 1107,1343.6 1110,1343.5 1113,1343.3 1116,1343.1 1119,1343.0 1122,1342.8 1125,1342.6 1128,1342.4 1131,1342.2 1134,1342.0 1137,1341.7 1140,1341.5 1143,1341.3 1146,1341.0 1149,1340.8 1152,1340.5 1155,1340.3 1158,1340.0 1161,1339.7 1164,1339.4 1167,1339.1 1170,1338.8 1173,1338.5 1176,1338.2 1179,1337.9 1182,1337.5 1185,1337.2 1188,1336.9 1191,1336.5 1194,1336.1 1197,1335.8 1200,1335.4 1203,1335.0 1206,1334.7 1209,1334.3 1212,1333.9 1215,1333.5 1218,1333.1 1221,1332.7 1224,1332.3 1227,1331.9 1230,1331.4 1233,1331.0 1236,1330.6 1239,1330.2 1242,1329.7 1245,1329.3 1248,1328.9 1251,1328.4 1254,1328.0 1257,1327.6 1260,1327.1 1263,1326.7 1266,1326.3 1269,1325.8 1272,1325.4 1275,1325.0 1278,1324.6 1281,1324.2 1284,1323.8 1287,1323.3 1290,1322.9 1293,1322.6 1296,1322.2 1299,1321.8 1302,1321.4 1305,1321.1 1308,1320.7 1311,1320.4 1314,1320.1 1317,1319.7 1320,1319.4 1323,1319.2 1326,1318.9 1329,1318.6 1332,1318.4 1335,1318.2 1338,1318.0 1341,1317.8 1344,1317.6 1347,1317.4 1350,1317.3 1353,1317.2 1356,1317.1 1359,1317.0 1362,1316.9 1365,1316.9 1368,1316.9 1371,1316.9 1374,1316.9 1377,1316.9 1380,1317.0 1383,1317.1 1386,1317.2 1389,1317.3 1392,1317.5 1395,1317.6 1398,1317.8 1401,1318.0 1404,1318.2 1407,1318.5 1410,1318.7 1413,1319.0 1416,1319.3 1419,1319.6 1422,1319.9 1425,1320.3 1428,1320.6 1431,1321.0 1434,1321.3 1437,1321.7 1440,1322.1 1443,1322.5 1446,1323.0 1449,1323.4 1452,1323.8 1455,1324.3 1458,1324.7 1461,1325.2 1464,1325.6 1467,1326.1 1470,1326.6 1473,1327.1 1476,1327.5 1479,1328.0 1482,1328.5 1485,1329.0 1488,1329.5 1491,1330.0 1494,1330.5 1497,1331.0 1500,1331.5 1503,1331.9 1506,1332.4 1509,1332.9 1512,1333.4 1515,1333.8 1518,1334.3 1521,1334.8 1524,1335.2 1527,1335.7 1530,1336.2 1533,1336.6 1536,1337.0 1539,1337.5 1542,1337.9 1545,1338.3 1548,1338.8 1551,1339.2 1554,1339.6 1557,1340.0 1560,1340.4 1563,1340.8 1566,1341.2 1569,1341.5 1572,1341.9 1575,1342.3 1578,1342.6 1581,1342.9 1584,1343.3 1587,1343.6 1590,1343.9 1593,1344.3 1596,1344.6 1599,1344.9 1602,1345.2 1605,1345.4 1608,1345.7 1611,1346.0 1614,1346.3 1617,1346.5 1620,1346.8 1623,1347.0 1626,1347.2 1629,1347.5 1632,1347.7 1635,1347.9 1638,1348.1 1641,1348.3 1644,1348.5 1647,1348.7 1650,1348.9 1653,1349.1 1656,1349.3 1659,1349.4 1662,1349.6 1665,1349.8 1668,1349.9 1671,1350.1 1674,1350.2 1677,1350.3 1680,1350.5 1683,1350.6 1686,1350.7 1689,1350.8 1692,1351.0 1695,1351.1 1698,1351.2 1701,1351.3 1704,1351.4 1707,1351.5 1710,1351.6 1713,1351.7 1716,1351.8 1719,1351.9 1722,1351.9 1725,1352.0 1728,1352.1 1731,1352.2 1734,1352.3 1737,1352.3 1740,1352.4 1743,1352.5 1746,1352.5 1749,1352.6 1752,1352.7 1755,1352.7 1758,1352.8 1761,1352.8 1764,1352.9 1767,1352.9 1770,1353.0 1773,1353.1 1776,1353.1 1779,1353.2 1782,1353.2 1785,1353.2 1788,1353.3 1791,1353.3 1794,1353.4 1797,1353.4 1800,1353.5 1803,1353.5 1806,1353.5 1809,1353.6 1812,1353.6 1815,1353.7 1818,1353.7 1821,1353.7 1824,1353.8 1827,1353.8 1830,1353.8 1833,1353.9 1836,1353.9 1839,1354.0 1842,1354.0 1845,1354.0 1848,1354.1 1851,1354.1 1854,1354.1 1857,1354.1 1860,1354.2 1863,1354.2 1866,1354.2 1869,1354.3 1872,1354.3 1875,1354.3 1878,1354.4 1881,1354.4 1884,1354.4 1887,1354.5 1890,1354.5 1893,1354.5 1896,1354.5 1899,1354.6 1902,1354.6 1905,1354.6 1908,1354.7 1911,1354.7 1914,1354.7 1917,1354.7 1920,1354.8 1923,1354.8 1926,1354.8 1929,1354.8 1932,1354.9 1935,1354.9 1938,1354.9 1941,1355.0 1944,1355.0 1947,1355.0 1950,1355.0 1953,1355.1 1956,1355.1 1959,1355.1 1962,1355.1 1965,1355.2 1968,1355.2 1971,1355.2 1974,1355.2 1977,1355.3 1980,1355.3 1983,1355.3 1986,1355.4 1989,1355.4 1992,1355.4 1995,1355.4 1998,1355.5 2001,1355.5 2004,1355.5 2007,1355.5 2010,1355.6 2013,1355.6 2016,1355.6 2019,1355.6 2022,1355.7 2025,1355.7 2028,1355.7 2031,1355.7 2034,1355.8 2037,1355.8 2040,1355.8 2043,1355.8 2046,1355.9 2049,1355.9 2052,1355.9 2055,1355.9 2058,1356.0 2061,1356.0 2064,1356.0 2067,1356.0 2070,1356.1 2073,1356.1 2076,1356.1 2079,1356.1 2082,1356.1 2085,1356.2 2088,1356.2 2091,1356.2 2094,1356.2 2097,1356.3 2100,1356.3 2103,1356.3 2106,1356.4 2109,1356.4 2112,1356.4 2115,1356.5 2118,1356.5 2121,1356.5 2124,1356.6 2127,1356.6 2130,1356.6 2133,1356.7 2136,1356.7 2139,1356.7 2142,1356.8 2145,1356.8 2148,1356.8 2151,1356.9 2154,1356.9 2157,1357.0 2160,1357.0 2163,1357.0 2166,1357.1 2169,1357.1 2172,1357.1 2175,1357.2 2178,1357.2 2181,1357.2 2184,1357.3 2187,1357.3 2190,1357.3 2193,1357.4 2196,1357.4 2199,1357.4 2202,1357.5 2205,1357.5 2208,1357.5 2211,1357.6 2214,1357.6 2217,1357.6 2220,1357.7 2223,1357.7 2226,1357.7 2229,1357.8 2232,1357.8 2235,1357.8 2238,1357.9 2241,1357.9 2244,1357.9 2247,1358.0 2250,1358.0 2253,1358.0 2256,1358.1 2259,1358.1 2262,1358.1 2265,1358.2 2268,1358.2 2271,1358.2 2274,1358.3 2277,1358.3 2280,1358.3 2283,1358.4 2286,1358.4 2289,1358.4 2292,1358.5 2295,1358.5 2298,1358.5 2301,1358.6 2304,1358.6 2307,1358.6 2310,1358.7 2313,1358.7 2316,1358.7 2319,1358.8 2322,1358.8 2325,1358.9 2328,1358.9 2331,1358.9 2334,1359.0 2337,1359.0 2340,1359.0 2343,1359.1 2346,1359.1 2349,1359.1 2352,1359.2 2355,1359.2 2358,1359.2 2361,1359.3 2364,1359.3 2367,1359.3 2370,1359.4 2373,1359.4 2376,1359.4 2379,1359.5 2382,1359.5 2385,1359.5 2388,1359.6 2391,1359.6 2394,1359.6 2397,1359.7 2400,1359.7 2403,1359.7"/>
<polyline stroke="#008000" points="1260,1349.4 1263,1349.4 1266,1349.5 1269,1349.5 1272,1349.5 1275,1349.5 1278,1349.6 1281,1349.6 1284,1349.6 1287,1349.6 1290,1349.7 1293,1349.7 1296,1349.7 1299,1349.7 1302,1349.7 1305,1349.8 1308,1349.8 1311,1349.8 1314,1349.8 1317,1349.8 1320,1349.9 1323,1349.9 1326,1349.9 1329,1349.9 1332,1350.0 1335,1350.0 1338,1350.0 1341,1350.0 1344,1350.0 1347,1350.1 1350,1350.1 1353,1350.1 1356,1350.1 1359,1350.1 1362,1350.2 1365,1350.2 1368,1350.2 1371,1350.2 1374,1350.2 1377,1350.3 1380,1350.3 1383,1350.3 1386,1350.3 1389,1350.3 1392,1350.4 1395,1350.4 1398,1350.4 1401,1350.4 1404,1350.4 1407,1350.4 1410,1350.5 1413,1350.5 1416,1350.5 1419,1350.5 1422,1350.5 1425,1350.5 1428,1350.6 1431,1350.6 1434,1350.6 1437,1350.6 1440,1350.6 1443,1350.6 1446,1350.7 1449,1350.7 1452,1350.7 1455,1350.7 1458,1350.7 1461,1350.7 1464,1350.7 1467,1350.7 1470,1350.8 1473,1350.8 1476,1350.8 1479,1350.8 1482,1350.8 1485,1350.8 1488,1350.8 1491,1350.8 1494,1350.8 1497,1350.8 1500,1350.8 1503,1350.8 1506,1350.8 1509,1350.8 1512,1350.8 1515,1350.8 1518,1350.8 1521,1350.8 1524,1350.8 1527,1350.8 1530,1350.8 1533,1350.8 1536,1350.8 1539,1350.7 1542,1350.7 1545,1350.7 1548,1350.7 1551,1350.7 1554,1350.6 1557,1350.6 1560,1350.6 1563,1350.6 1566,1350.5 1569,1350.5 1572,1350.4 1575,1350.4 1578,1350.4 1581,1350.3 1584,1350.3 1587,1350.2 1590,1350.2 1593,1350.1 1596,1350.0 1599,1350.0 1602,1349.9 1605,1349.8 1608,1349.7 1611,1349.6 1614,1349.5 1617,1349.4 1620,1349.3 1623,1349.2 1626,1349.1 1629,1349.0 1632,1348.8 1635,1348.7 1638,1348.6 1641,1348.4 1644,1348.2 1647,1348.1 1650,1347.9 1653,1347.7 1656,1347.5 1659,1347.3 1662,1347.1 1665,1346.9 1668,1346.6 1671,1346.4 1674,1346.1 1677,1345.8 1680,1345.5 1683,1345.3 1686,1344.9 1689,1344.6 1692,1344.3 1695,1343.9 1698,1343.6 1701,1343.2 1704,1342.8 1707,1342.4 1710,1341.9 1713,1341.5 1716,1341.0 1719,1340.6 1722,1340.1 1725,1339.6 1728,1339.0 1731,1338.5 1734,1337.9 1737,1337.3 1740,1336.7 1743,1336.1 1746,1335.5 1749,1334.8 1752,1334.1 1755,1333.4 1758,1332.7 1761,1332.0 1764,1331.2 1767,1330.4 1770,1329.6 1773,1328.8 1776,1328.0 1779,1327.1 1782,1326.3 1785,1325.4 1788,1324.4 1791,1323.5 1794,1322.6 1797,1321.6 1800,1320.6 1803,1319.6 1806,1318.6 1809,1317.5 1812,1316.5 1815,1315.4 1818,1314.3 1821,1313.2 1824,1312.1 1827,1310.9 1830,1309.8 1833,1308.6 1836,1307.5 1839,1306.3 1842,1305.1 1845,1303.9 1848,1302.7 1851,1301.5 1854,1300.3 1857,1299.1 1860,1297.9 1863,1296.6 1866,1295.4 1869,1294.2 1872,1293.0 1875,1291.8 1878,1290.6 1881,1289.4 1884,1288.2 1887,1287.0 1890,1285.8 1893,1284.6 1896,1283.5 1899,1282.4 1902,1281.2 1905,1280.2 1908,1279.1 1911,1278.0 1914,1277.0 1917,1276.0 1920,1275.0 1923,1274.1 1926,1273.1 1929,1272.3 1932,1271.4 1935,1270.6 1938,1269.8 1941,1269.1 1944,1268.4 1947,1267.7 1950,1267.1 1953,1266.5 1956,1265.9 1959,1265.5 1962,1265.0 1965,1264.6 1968,1264.3 1971,1264.0 1974,1263.7 1977,1263.5 1980,1263.4 1983,1263.3 1986,1263.2 1989,1263.3 1992,1263.3 1995,1263.4 1998,1263.6 2001,1263.8 2004,1264.1 2007,1264.4 2010,1264.8 2013,1265.2 2016,1265.6 2019,1266.1 2022,1266.7 2025,1267.3 2028,1268.0 2031,1268.6 2034,1269.4 2037,1270.1 2040,1270.9 2043,1271.8 2046,1272.7 2049,1273.6 2052,1274.5 2055,1275.5 2058,1276.5 2061,1277.6 2064,1278.6 2067,1279.7 2070,1280.8 2073,1281.9 2076,1283.1 2079,1284.2 2082,1285.4 2085,1286.6 2088,1287.8 2091,1289.1 2094,1290.3 2097,1291.5 2100,1292.8 2103,1294.0 2106,1295.3 2109,1296.6 2112,1297.9 2115,1299.1 2118,1300.4 2121,1301.7 2124,1302.9 2127,1304.2 2130,1305.5 2133,1306.7 2136,1308.0 2139,1309.2 2142,1310.4 2145,1311.6 2148,1312.8 2151,1314.0 2154,1315.2 2157,1316.4 2160,1317.5 2163,1318.6 2166,1319.8 2169,1320.9 2172,1322.0 2175,1323.0 2178,1324.1 2181,1325.1 2184,1326.1 2187,1327.1 2190,1328.1 2193,1329.1 2196,1330.0 2199,1330.9 2202,1331.8 2205,1332.7 2208,1333.6 2211,1334.4 2214,1335.2 2217,1336.0 2220,1336.8 2223,1337.6 2226,1338.3 2229,1339.0 2232,1339.7 2235,1340.4 2238,1341.1 2241,1341.7 2244,1342.4 2247,1343.0 2250,1343.6 2253,1344.1 2256,1344.7 2259,1345.2 2262,1345.8 2265,1346.3 2268,1346.7 2271,1347.2 2274,1347.7 2277,1348.1 2280,1348.5 2283,1349.0 2286,1349.4 2289,1349.7 2292,1350.1 2295,1350.5 2298,1350.8 2301,1351.1 2304,1351.5 2307,1351.8 2310,1352.1 2313,1352.4 2316,1352.6 2319,1352.9 2322,1353.1 2325,1353.4 2328,1353.6 2331,1353.9 2334,1354.1 2337,1354.3 2340,1354.5 2343,1354.7 2346,1354.9 2349,1355.1 2352,1355.2 2355,1355.4 2358,1355.6 2361,1355.7 2364,1355.9 2367,1356.0 2370,1356.2 2373,1356.3 2376,1356.4 2379,1356.5 2382,1356.7 2385,1356.8 2388,1356.9 2391,1357.0 2394,1357.1 2397,1357.2 2400,1357.3 2403,1357.4"/>
<polyline stroke="#000080" points="825,1346.8 828,1346.8 831,1346.8 834,1346.8 837,1346.8 840,1346.8 843,1346.8 846,1346.9 849,1346.9 852,1346.9 855,1346.9 858,1346.9 861,1346.9 864,1346.9 867,1347.0 870,1347.0 873,1347.0 876,1347.0 879,1347.0 882,1347.0 885,1347.0 888,1347.0 891,1347.1 894,1347.1 897,1347.1 900,1347.1 903,1347.1 906,1347.1 909,1347.2 912,1347.2 915,1347.2 918,1347.2 921,1347.3 924,1347.3 927,1347.3 930,1347.3 933,1347.4 936,1347.4 939,1347.4 942,1347.4 945,1347.5 948,1347.5 951,1347.5 954,1347.5 957,1347.6 960,1347.6 963,1347.6 966,1347.6 969,1347.7 972,1347.7 975,1347.7 978,1347.7 981,1347.8 984,1347.8 987,1347.8 990,1347.8 993,1347.8 996,1347.9 999,1347.9 1002,1347.9 1005,1347.9 1008,1348.0 1011,1348.0 1014,1348.0 1017,1348.0 1020,1348.1 1023,1348.1 1026,1348.1 1029,1348.1 1032,1348.2 1035,1348.2 1038,1348.2 1041,1348.2 1044,1348.3 1047,1348.3 1050,1348.3 1053,1348.3 1056,1348.4 1059,1348.4 1062,1348.4 1065,1348.4 1068,1348.4 1071,1348.5 1074,1348.5 1077,1348.5 1080,1348.5 1083,1348.6 1086,1348.6 1089,1348.6 1092,1348.6 1095,1348.7 1098,1348.7 1101,1348.7 1104,1348.7 1107,1348.8 1110,1348.8 1113,1348.8 1116,1348.8 1119,1348.9 1122,1348.9 1125,1348.9 1128,1348.9 1131,1348.9 1134,1349.0 1137,1349.0 1140,1349.0 1143,1349.0 1146,1349.1 1149,1349.1 1152,1349.1 1155,1349.1 1158,1349.2 1161,1349.2 1164,1349.2 1167,1349.2 1170,1349.2 1173,1349.3 1176,1349.3 1179,1349.3 1182,1349.3 1185,1349.4 1188,1349.4 1191,1349.4 1194,1349.4 1197,1349.4 1200,1349.5 1203,1349.5 1206,1349.5 1209,1349.5 1212,1349.6 1215,1349.6 1218,1349.6 1221,1349.6 1224,1349.7 1227,1349.7 1230,1349.7 1233,1349.7 1236,1349.7 1239,1349.8 1242,1349.8 1245,1349.8 1248,1349.8 1251,1349.8 1254,1349.8 1257,1349.9 1260,1349.9 1263,1349.9 1266,1349.9 1269,1349.9 1272,1349.9 1275,1349.9 1278,1349.9 1281,1349.9 1284,1349.9 1287,1350.0 1290,1350.0 1293,1350.0 1296,1350.0 1299,1349.9 1302,1349.9 1305,1349.9 1308,1349.9 1311,1349.9 1314,1349.9 1317,1349.9 1320,1349.9 1323,1349.8 1326,1349.8 1329,1349.8 1332,1349.8 1335,1349.7 1338,1349.7 1341,1349.6 1344,1349.6 1347,1349.6 1350,1349.5 1353,1349.4 1356,1349.4 1359,1349.3 1362,1349.2 1365,1349.2 1368,1349.1 1371,1349.0 1374,1348.9 1377,1348.8 1380,1348.7 1383,1348.6 1386,1348.5 1389,1348.3 1392,1348.2 1395,1348.1 1398,1347.9 1401,1347.8 1404,1347.6 1407,1347.4 1410,1347.3 1413,1347.1 1416,1346.9 1419,1346.7 1422,1346.5 1425,1346.2 1428,1346.0 1431,1345.8 1434,1345.5 1437,1345.2 1440,1345.0 1443,1344.7 1446,1344.4 1449,1344.1 1452,1343.7 1455,1343.4 1458,1343.1 1461,1342.7 1464,1342.3 1467,1342.0 1470,1341.6 1473,1341.2 1476,1340.7 1479,1340.3 1482,1339.9 1485,1339.4 1488,1338.9 1491,1338.5 1494,1338.0 1497,1337.4 1500,1336.9 1503,1336.4 1506,1335.8 1509,1335.3 1512,1334.7 1515,1334.1 1518,1333.5 1521,1332.9 1524,1332.2 1527,1331.6 1530,1330.9 1533,1330.3 1536,1329.6 1539,1328.9 1542,1328.2 1545,1327.5 1548,1326.8 1551,1326.1 1554,1325.3 1557,1324.6 1560,1323.8 1563,1323.1 1566,1322.3 1569,1321.5 1572,1320.7 1575,1320.0 1578,1319.2 1581,1318.4 1584,1317.6 1587,1316.8 1590,1316.0 1593,1315.2 1596,1314.4 1599,1313.6 1602,1312.8 1605,1312.0 1608,1311.2 1611,1310.4 1614,1309.7 1617,1308.9 1620,1308.1 1623,1307.4 1626,1306.6 1629,1305.9 1632,1305.1 1635,1304.4 1638,1303.7 1641,1303.0 1644,1302.3 1647,1301.6 1650,1301.0 1653,1300.3 1656,1299.7 1659,1299.1 1662,1298.5 1665,1298.0 1668,1297.4 1671,1296.9 1674,1296.4 1677,1295.9 1680,1295.4 1683,1295.0 1686,1294.6 1689,1294.2 1692,1293.8 1695,1293.5 1698,1293.2 1701,1292.9 1704,1292.7 1707,1292.4 1710,1292.2 1713,1292.1 1716,1291.9 1719,1291.8 1722,1291.7 1725,1291.7 1728,1291.6 1731,1291.7 1734,1291.7 1737,1291.8 1740,1291.8 1743,1292.0 1746,1292.1 1749,1292.3 1752,1292.5 1755,1292.7 1758,1293.0 1761,1293.3 1764,1293.6 1767,1294.0 1770,1294.3 1773,1294.7 1776,1295.2 1779,1295.6 1782,1296.1 1785,1296.6 1788,1297.1 1791,1297.7 1794,1298.2 1797,1298.8 1800,1299.4 1803,1300.1 1806,1300.7 1809,1301.4 1812,1302.0 1815,1302.7 1818,1303.5 1821,1304.2 1824,1304.9 1827,1305.7 1830,1306.4 1833,1307.2 1836,1308.0 1839,1308.8 1842,1309.6 1845,1310.4 1848,1311.2 1851,1312.0 1854,1312.9 1857,1313.7 1860,1314.5 1863,1315.4 1866,1316.2 1869,1317.1 1872,1317.9 1875,1318.7 1878,1319.6 1881,1320.4 1884,1321.2 1887,1322.1 1890,1322.9 1893,1323.7 1896,1324.5 1899,1325.3 1902,1326.2 1905,1326.9 1908,1327.7 1911,1328.5 1914,1329.3 1917,1330.0 1920,1330.8 1923,1331.5 1926,1332.3 1929,1333.0 1932,1333.7 1935,1334.4 1938,1335.1 1941,1335.8 1944,1336.4 1947,1337.1 1950,1337.7 1953,1338.3 1956,1338.9 1959,1339.5 1962,1340.1 1965,1340.7 1968,1341.3 1971,1341.8 1974,1342.4 1977,1342.9 1980,1343.4 1983,1343.9 1986,1344.4 1989,1344.8 1992,1345.3 1995,1345.7 1998,1346.2 2001,1346.6 2004,1347.0 2007,1347.4 2010,1347.8 2013,1348.1 2016,1348.5 2019,1348.9 2022,1349.2 2025,1349.5 2028,1349.8 2031,1350.1 2034,1350.4 2037,1350.7 2040,1351.0 2043,1351.3 2046,1351.5 2049,1351.8 2052,1352.0 2055,1352.2 2058,1352.5 2061,1352.7 2064,1352.9 2067,1353.1 2070,1353.3 2073,1353.4 2076,1353.6 2079,1353.8 2082,1353.9 2085,1354.1 2088,1354.3 2091,1354.4 2094,1354.5 2097,1354.7 2100,1354.8 2103,1354.9 2106,1355.1 2109,1355.2 2112,1355.3 2115,1355.4 2118,1355.5 2121,1355.6 2124,1355.7 2127,1355.8 2130,1355.9 2133,1356.0 2136,1356.1 2139,1356.2 2142,1356.3 2145,1356.4 2148,1356.4 2151,1356.5 2154,1356.6 2157,1356.6 2160,1356.7 2163,1356.8 2166,1356.8 2169,1356.9 2172,1357.0 2175,1357.0 2178,1357.1 2181,1357.1 2184,1357.2 2187,1357.2 2190,1357.3 2193,1357.4 2196,1357.4 2199,1357.4 2202,1357.5 2205,1357.5 2208,1357.6 2211,1357.6 2214,1357.7 2217,1357.7 2220,1357.8 2223,1357.8 2226,1357.8 2229,1357.9 2232,1357.9 2235,1358.0 2238,1358.0 2241,1358.0 2244,1358.1 2247,1358.1 2250,1358.2 2253,1358.2 2256,1358.2 2259,1358.3 2262,1358.3 2265,1358.3 2268,1358.4 2271,1358.4 2274,1358.4 2277,1358.5 2280,1358.5 2283,1358.5 2286,1358.6 2289,1358.6 2292,1358.6 2295,1358.7 2298,1358.7 2301,1358.8 2304,1358.8 2307,1358.8 2310,1358.9 2313,1358.9 2316,1358.9 2319,1359.0 2322,1359.0 2325,1359.0 2328,1359.1 2331,1359.1 2334,1359.1 2337,1359.1 2340,1359.2 2343,1359.2 2346,1359.2 2349,1359.3 2352,1359.3 2355,1359.3 2358,1359.4 2361,1359.4 2364,1359.4 2367,1359.5 2370,1359.5 2373,1359.5 2376,1359.6 2379,1359.6 2382,1359.6 2385,1359.7 2388,1359.7 2391,1359.7 2394,1359.8 2397,1359.8 2400,1359.8 2403,1359.9"/>
<polyline stroke="#000080" points="294,1343.8 297,1343.8 300,1343.8 303,1343.8 306,1343.8 309,1343.9 312,1343.9 315,1343.9 318,1343.9 321,1343.9 324,1343.9 327,1344.0 330,1344.0 333,1344.0 336,1344.0 339,1344.0 342,1344.0 345,1344.0 348,1344.1 351,1344.1 354,1344.1 357,1344.1 360,1344.1 363,1344.1 366,1344.1 369,1344.1 372,1344.1 375,1344.1 378,1344.1 381,1344.1 384,1344.2 387,1344.2 390,1344.2 393,1344.2 396,1344.2 399,1344.2 402,1344.1 405,1344.1 408,1344.1 411,1344.1 414,1344.1 417,1344.1 420,1344.1 423,1344.1 426,1344.1 429,1344.0 432,1344.0 435,1344.0 438,1344.0 441,1343.9 444,1343.9 447,1343.9 450,1343.8 453,1343.8 456,1343.8 459,1343.7 462,1343.7 465,1343.6 468,1343.6 471,1343.5 474,1343.4 477,1343.4 480,1343.3 483,1343.2 486,1343.1 489,1343.1 492,1343.0 495,1342.9 498,1342.8 501,1342.7 504,1342.6 507,1342.4 510,1342.3 513,1342.2 516,1342.1 519,1341.9 522,1341.8 525,1341.7 528,1341.5 531,1341.3 534,1341.2 537,1341.0 540,1340.8 543,1340.7 546,1340.5 549,1340.3 552,1340.1 555,1339.9 558,1339.7 561,1339.4 564,1339.2 567,1339.0 570,1338.7 573,1338.5 576,1338.3 579,1338.0 582,1337.7 585,1337.5 588,1337.2 591,1336.9 594,1336.6 597,1336.4 600,1336.1 603,1335.8 606,1335.5 609,1335.1 612,1334.8 615,1334.5 618,1334.2 621,1333.9 624,1333.5 627,1333.2 630,1332.9 633,1332.5 636,1332.2 639,1331.8 642,1331.5 645,1331.2 648,1330.8 651,1330.5 654,1330.1 657,1329.8 660,1329.5 663,1329.1 666,1328.8 669,1328.5 672,1328.1 675,1327.8 678,1327.5 681,1327.2 684,1326.8 687,1326.5 690,1326.2 693,1325.9 696,1325.7 699,1325.4 702,1325.1 705,1324.8 708,1324.6 711,1324.3 714,1324.1 717,1323.9 720,1323.6 723,1323.4 726,1323.2 729,1323.1 732,1322.9 735,1322.7 738,1322.6 741,1322.4 744,1322.3 747,1322.2 750,1322.1 753,1322.0 756,1321.9 759,1321.9 762,1321.8 765,1321.8 768,1321.7 771,1321.7 774,1321.7 777,1321.8 780,1321.8 783,1321.9 786,1321.9 789,1322.0 792,1322.1 795,1322.2 798,1322.3 801,1322.4 804,1322.6 807,1322.7 810,1322.9 813,1323.1 816,1323.3 819,1323.5 822,1323.7 825,1323.9 828,1324.1 831,1324.4 834,1324.6 837,1324.9 840,1325.2 843,1325.5 846,1325.8 849,1326.1 852,1326.4 855,1326.7 858,1327.0 861,1327.3 864,1327.7 867,1328.0 870,1328.4 873,1328.7 876,1329.1 879,1329.4 882,1329.8 885,1330.1 888,1330.5 891,1330.9 894,1331.2 897,1331.6 900,1332.0 903,1332.3 906,1332.7 909,1333.1 912,1333.5 915,1333.9 918,1334.2 921,1334.6 924,1335.0 927,1335.3 930,1335.7 933,1336.1 936,1336.4 939,1336.8 942,1337.1 945,1337.5 948,1337.8 951,1338.2 954,1338.5 957,1338.8 960,1339.1 963,1339.4 966,1339.8 969,1340.1 972,1340.4 975,1340.6 978,1340.9 981,1341.2 984,1341.5 987,1341.8 990,1342.0 993,1342.3 996,1342.5 999,1342.8 1002,1343.0 1005,1343.2 1008,1343.5 1011,1343.7 1014,1343.9 1017,1344.1 1020,1344.3 1023,1344.5 1026,1344.7 1029,1344.9 1032,1345.0 1035,1345.2 1038,1345.4 1041,1345.5 1044,1345.7 1047,1345.9 1050,1346.0 1053,1346.1 1056,1346.3 1059,1346.4 1062,1346.5 1065,1346.7 1068,1346.8 1071,1346.9 1074,1347.0 1077,1347.1 1080,1347.2 1083,1347.3 1086,1347.4 1089,1347.5 1092,1347.6 1095,1347.7 1098,1347.8 1101,1347.8 1104,1347.9 1107,1348.0 1110,1348.1 1113,1348.1 1116,1348.2 1119,1348.3 1122,1348.3 1125,1348.4 1128,1348.5 1131,1348.5 1134,1348.6 1137,1348.6 1140,1348.7 1143,1348.7 1146,1348.8 1149,1348.8 1152,1348.9 1155,1348.9 1158,1349.0 1161,1349.0 1164,1349.0 1167,1349.1 1170,1349.1 1173,1349.2 1176,1349.2 1179,1349.2 1182,1349.3 1185,1349.3 1188,1349.3 1191,1349.4 1194,1349.4 1197,1349.4 1200,1349.5 1203,1349.5 1206,1349.5 1209,1349.6 1212,1349.6 1215,1349.6 1218,1349.7 1221,1349.7 1224,1349.7 1227,1349.8 1230,1349.8 1233,1349.8 1236,1349.9 1239,1349.9 1242,1349.9 1245,1350.0 1248,1350.0 1251,1350.0 1254,1350.0 1257,1350.1 1260,1350.1 1263,1350.1 1266,1350.2 1269,1350.2 1272,1350.2 1275,1350.2 1278,1350.3 1281,1350.3 1284,1350.3 1287,1350.4 1290,1350.4 1293,1350.4 1296,1350.5 1299,1350.5 1302,1350.5 1305,1350.5 1308,1350.6 1311,1350.6 1314,1350.6 1317,1350.7 1320,1350.7 1323,1350.7 1326,1350.7 1329,1350.8 1332,1350.8 1335,1350.8 1338,1350.9 1341,1350.9 1344,1350.9 1347,1350.9 1350,1351.0 1353,1351.0 1356,1351.0 1359,1351.1 1362,1351.1 1365,1351.1 1368,1351.1 1371,1351.2 1374,1351.2 1377,1351.2 1380,1351.3 1383,1351.3 1386,1351.3 1389,1351.3 1392,1351.4 1395,1351.4 1398,1351.4 1401,1351.5 1404,1351.5 1407,1351.5 1410,1351.5 1413,1351.6 1416,1351.6 1419,1351.6 1422,1351.7 1425,1351.7 1428,1351.7 1431,1351.7 1434,1351.8 1437,1351.8 1440,1351.8 1443,1351.9 1446,1351.9 1449,1351.9 1452,1351.9 1455,1352.0 1458,1352.0 1461,1352.0 1464,1352.0 1467,1352.1 1470,1352.1 1473,1352.1 1476,1352.2 1479,1352.2 1482,1352.2 1485,1352.2 1488,1352.3 1491,1352.3 1494,1352.3 1497,1352.4 1500,1352.4 1503,1352.4 1506,1352.4 1509,1352.5 1512,1352.5 1515,1352.5 1518,1352.5 1521,1352.5 1524,1352.6 1527,1352.6 1530,1352.6 1533,1352.6 1536,1352.6 1539,1352.7 1542,1352.7 1545,1352.7 1548,1352.7 1551,1352.8 1554,1352.8 1557,1352.8 1560,1352.8 1563,1352.8 1566,1352.9 1569,1352.9 1572,1352.9 1575,1352.9 1578,1352.9 1581,1353.0 1584,1353.0 1587,1353.0 1590,1353.0 1593,1353.1 1596,1353.1 1599,1353.1 1602,1353.1 1605,1353.1 1608,1353.2 1611,1353.2 1614,1353.2 1617,1353.2 1620,1353.2 1623,1353.3 1626,1353.3 1629,1353.3 1632,1353.3 1635,1353.4 1638,1353.4 1641,1353.4 1644,1353.4 1647,1353.4 1650,1353.5 1653,1353.5 1656,1353.5 1659,1353.5 1662,1353.6 1665,1353.6 1668,1353.6 1671,1353.6 1674,1353.6 1677,1353.7 1680,1353.7 1683,1353.7 1686,1353.7 1689,1353.7 1692,1353.8 1695,1353.8 1698,1353.8 1701,1353.8 1704,1353.9 1707,1353.9 1710,1353.9 1713,1353.9 1716,1353.9 1719,1354.0 1722,1354.0 1725,1354.0 1728,1354.0 1731,1354.0 1734,1354.1 1737,1354.1 1740,1354.1 1743,1354.1 1746,1354.2 1749,1354.2 1752,1354.2 1755,1354.2 1758,1354.2 1761,1354.3 1764,1354.3 1767,1354.3 1770,1354.3 1773,1354.3 1776,1354.4 1779,1354.4 1782,1354.4 1785,1354.4 1788,1354.5 1791,1354.5 1794,1354.5 1797,1354.5 1800,1354.5 1803,1354.6 1806,1354.6 1809,1354.6 1812,1354.6 1815,1354.6 1818,1354.7 1821,1354.7 1824,1354.7 1827,1354.7 1830,1354.8 1833,1354.8 1836,1354.8 1839,1354.8 1842,1354.8 1845,1354.9 1848,1354.9 1851,1354.9 1854,1354.9 1857,1354.9 1860,1355.0 1863,1355.0 1866,1355.0 1869,1355.0 1872,1355.0 1875,1355.1 1878,1355.1 1881,1355.1 1884,1355.1 1887,1355.2 1890,1355.2 1893,1355.2 1896,1355.2 1899,1355.2 1902,1355.3 1905,1355.3 1908,1355.3 1911,1355.3 1914,1355.3 1917,1355.4 1920,1355.4 1923,1355.4 1926,1355.4 1929,1355.4 1932,1355.5 1935,1355.5 1938,1355.5 1941,1355.5 1944,1355.6 1947,1355.6 1950,1355.6 1953,1355.6 1956,1355.6 1959,1355.7 1962,1355.7 1965,1355.7 1968,1355.7 1971,1355.7 1974,1355.8 1977,1355.8 1980,1355.8 1983,1355.8 1986,1355.8 1989,1355.9 1992,1355.9 1995,1355.9 1998,1355.9 2001,1356.0 2004,1356.0 2007,1356.0 2010,1356.0 2013,1356.0 2016,1356.1 2019,1356.1 2022,1356.1 2025,1356.1 2028,1356.1 2031,1356.2 2034,1356.2 2037,1356.2 2040,1356.2 2043,1356.2 2046,1356.3 2049,1356.3 2052,1356.3 2055,1356.3 2058,1356.4 2061,1356.4 2064,1356.4 2067,1356.4 2070,1356.4 2073,1356.5 2076,1356.5 2079,1356.5 2082,1356.5 2085,1356.5 2088,1356.6 2091,1356.6 2094,1356.6 2097,1356.6 2100,1356.7 2103,1356.7 2106,1356.7 2109,1356.7 2112,1356.8 2115,1356.8 2118,1356.8 2121,1356.9 2124,1356.9 2127,1356.9 2130,1357.0 2133,1357.0 2136,1357.0 2139,1357.1 2142,1357.1 2145,1357.1 2148,1357.2 2151,1357.2 2154,1357.2 2157,1357.3 2160,1357.3 2163,1357.3 2166,1357.4 2169,1357.4 2172,1357.4 2175,1357.5 2178,1357.5 2181,1357.5 2184,1357.6 2187,1357.6 2190,1357.6 2193,1357.6 2196,1357.7 2199,1357.7 2202,1357.7 2205,1357.8 2208,1357.8 2211,1357.8 2214,1357.9 2217,1357.9 2220,1357.9 2223,1358.0 2226,1358.0 2229,1358.0 2232,1358.1 2235,1358.1 2238,1358.1 2241,1358.2 2244,1358.2 2247,1358.2 2250,1358.3 2253,1358.3 2256,1358.3 2259,1358.4 2262,1358.4 2265,1358.4 2268,1358.5 2271,1358.5 2274,1358.5 2277,1358.5 2280,1358.6 2283,1358.6 2286,1358.6 2289,1358.7 2292,1358.7 2295,1358.7 2298,1358.8 2301,1358.8 2304,1358.8 2307,1358.9 2310,1358.9 2313,1358.9 2316,1359.0 2319,1359.0 2322,1359.0 2325,1359.1 2328,1359.1 2331,1359.1 2334,1359.2 2337,1359.2 2340,1359.2 2343,1359.3 2346,1359.3 2349,1359.3 2352,1359.4 2355,1359.4 2358,1359.4 2361,1359.4 2364,1359.5 2367,1359.5 2370,1359.5 2373,1359.6 2376,1359.6 2379,1359.6 2382,1359.7 2385,1359.7 2388,1359.7 2391,1359.8 2394,1359.8 2397,1359.8 2400,1359.9 2403,1359.9"/>
<polyline stroke="#00FFFF" points="294,1343.8 297,1343.8 300,1343.8 303,1343.8 306,1343.9 309,1343.9 312,1343.9 315,1343.9 318,1343.9 321,1344.0 324,1344.0 327,1344.0 330,1344.0 333,1344.0 336,1344.1 339,1344.1 342,1344.1 345,1344.1 348,1344.1 351,1344.2 354,1344.2 357,1344.2 360,1344.2 363,1344.2 366,1344.3 369,1344.3 372,1344.3 375,1344.3 378,1344.3 381,1344.4 384,1344.4 387,1344.4 390,1344.4 393,1344.4 396,1344.4 399,1344.5 402,1344.5 405,1344.5 408,1344.5 411,1344.5 414,1344.6 417,1344.6 420,1344.6 423,1344.6 426,1344.6 429,1344.7 432,1344.7 435,1344.7 438,1344.7 441,1344.7 444,1344.8 447,1344.8 450,1344.8 453,1344.8 456,1344.8 459,1344.9 462,1344.9 465,1344.9 468,1344.9 471,1344.9 474,1345.0 477,1345.0 480,1345.0 483,1345.0 486,1345.0 489,1345.1 492,1345.1 495,1345.1 498,1345.1 501,1345.1 504,1345.1 507,1345.2 510,1345.2 513,1345.2 516,1345.2 519,1345.2 522,1345.3 525,1345.3 528,1345.3 531,1345.3 534,1345.3 537,1345.4 540,1345.4 543,1345.4 546,1345.4 549,1345.4 552,1345.5 555,1345.5 558,1345.5 561,1345.5 564,1345.5 567,1345.6 570,1345.6 573,1345.6 576,1345.6 579,1345.6 582,1345.6 585,1345.7 588,1345.7 591,1345.7 594,1345.7 597,1345.7 600,1345.8 603,1345.8 606,1345.8 609,1345.8 612,1345.8 615,1345.8 618,1345.8 621,1345.8 624,1345.8 627,1345.9 630,1345.9 633,1345.9 636,1345.9 639,1345.9 642,1345.9 645,1345.9 648,1345.9 651,1345.9 654,1345.9 657,1345.9 660,1346.0 663,1346.0 666,1346.0 669,1346.0 672,1346.0 675,1346.0 678,1346.0 681,1346.0 684,1346.0 687,1346.0 690,1346.0 693,1346.0 696,1346.0 699,1346.0 702,1346.0 705,1346.0 708,1346.0 711,1346.0 714,1346.0 717,1346.0 720,1345.9 723,1345.9 726,1345.9 729,1345.9 732,1345.9 735,1345.9 738,1345.8 741,1345.8 744,1345.8 747,1345.8 750,1345.7 753,1345.7 756,1345.7 759,1345.6 762,1345.6 765,1345.5 768,1345.5 771,1345.4 774,1345.4 777,1345.3 780,1345.3 783,1345.2 786,1345.1 789,1345.1 792,1345.0 795,1344.9 798,1344.8 801,1344.7 804,1344.6 807,1344.5 810,1344.4 813,1344.3 816,1344.2 819,1344.0 822,1343.9 825,1343.8 828,1343.6 831,1343.5 834,1343.3 837,1343.1 840,1343.0 843,1342.8 846,1342.6 849,1342.4 852,1342.2 855,1342.0 858,1341.8 861,1341.5 864,1341.3 867,1341.1 870,1340.8 873,1340.5 876,1340.3 879,1340.0 882,1339.7 885,1339.4 888,1339.1 891,1338.7 894,1338.4 897,1338.1 900,1337.7 903,1337.4 906,1337.0 909,1336.6 912,1336.2 915,1335.9 918,1335.5 921,1335.0 924,1334.6 927,1334.2 930,1333.7 933,1333.3 936,1332.8 939,1332.4 942,1331.9 945,1331.4 948,1330.9 951,1330.4 954,1329.9 957,1329.3 960,1328.8 963,1328.3 966,1327.7 969,1327.2 972,1326.6 975,1326.0 978,1325.5 981,1324.9 984,1324.3 987,1323.7 990,1323.1 993,1322.5 996,1321.9 999,1321.3 1002,1320.7 1005,1320.1 1008,1319.5 1011,1318.9 1014,1318.3 1017,1317.7 1020,1317.1 1023,1316.5 1026,1315.9 1029,1315.3 1032,1314.7 1035,1314.1 1038,1313.5 1041,1312.9 1044,1312.4 1047,1311.8 1050,1311.3 1053,1310.7 1056,1310.2 1059,1309.7 1062,1309.2 1065,1308.7 1068,1308.2 1071,1307.7 1074,1307.3 1077,1306.8 1080,1306.4 1083,1306.0 1086,1305.6 1089,1305.2 1092,1304.8 1095,1304.5 1098,1304.2 1101,1303.8 1104,1303.6 1107,1303.3 1110,1303.0 1113,1302.8 1116,1302.6 1119,1302.4 1122,1302.3 1125,1302.1 1128,1302.0 1131,1301.9 1134,1301.8 1137,1301.8 1140,1301.7 1143,1301.7 1146,1301.7 1149,1301.8 1152,1301.8 1155,1301.9 1158,1302.0 1161,1302.2 1164,1302.3 1167,1302.5 1170,1302.7 1173,1302.9 1176,1303.1 1179,1303.4 1182,1303.7 1185,1304.0 1188,1304.3 1191,1304.6 1194,1305.0 1197,1305.4 1200,1305.8 1203,1306.2 1206,1306.6 1209,1307.1 1212,1307.5 1215,1308.0 1218,1308.5 1221,1309.0 1224,1309.6 1227,1310.1 1230,1310.7 1233,1311.2 1236,1311.8 1239,1312.4 1242,1313.0 1245,1313.6 1248,1314.2 1251,1314.8 1254,1315.4 1257,1316.1 1260,1316.7 1263,1317.4 1266,1318.0 1269,1318.7 1272,1319.3 1275,1320.0 1278,1320.6 1281,1321.3 1284,1321.9 1287,1322.6 1290,1323.3 1293,1323.9 1296,1324.6 1299,1325.2 1302,1325.9 1305,1326.5 1308,1327.2 1311,1327.8 1314,1328.4 1317,1329.1 1320,1329.7 1323,1330.3 1326,1330.9 1329,1331.5 1332,1332.1 1335,1332.7 1338,1333.2 1341,1333.8 1344,1334.4 1347,1334.9 1350,1335.5 1353,1336.0 1356,1336.5 1359,1337.0 1362,1337.5 1365,1338.0 1368,1338.5 1371,1339.0 1374,1339.5 1377,1339.9 1380,1340.4 1383,1340.8 1386,1341.2 1389,1341.6 1392,1342.0 1395,1342.4 1398,1342.8 1401,1343.2 1404,1343.5 1407,1343.9 1410,1344.2 1413,1344.6 1416,1344.9 1419,1345.2 1422,1345.5 1425,1345.8 1428,1346.1 1431,1346.4 1434,1346.6 1437,1346.9 1440,1347.2 1443,1347.4 1446,1347.6 1449,1347.9 1452,1348.1 1455,1348.3 1458,1348.5 1461,1348.7 1464,1348.9 1467,1349.1 1470,1349.3 1473,1349.4 1476,1349.6 1479,1349.8 1482,1349.9 1485,1350.1 1488,1350.2 1491,1350.4 1494,1350.5 1497,1350.6 1500,1350.7 1503,1350.9 1506,1351.0 1509,1351.1 1512,1351.2 1515,1351.3 1518,1351.4 1521,1351.4 1524,1351.5 1527,1351.6 1530,1351.7 1533,1351.8 1536,1351.8 1539,1351.9 1542,1352.0 1545,1352.0 1548,1352.1 1551,1352.2 1554,1352.2 1557,1352.3 1560,1352.3 1563,1352.4 1566,1352.4 1569,1352.5 1572,1352.5 1575,1352.6 1578,1352.6 1581,1352.7 1584,1352.7 1587,1352.8 1590,1352.8 1593,1352.8 1596,1352.9 1599,1352.9 1602,1352.9 1605,1353.0 1608,1353.0 1611,1353.0 1614,1353.1 1617,1353.1 1620,1353.1 1623,1353.2 1626,1353.2 1629,1353.2 1632,1353.3 1635,1353.3 1638,1353.3 1641,1353.3 1644,1353.4 1647,1353.4 1650,1353.4 1653,1353.4 1656,1353.5 1659,1353.5 1662,1353.5 1665,1353.5 1668,1353.6 1671,1353.6 1674,1353.6 1677,1353.6 1680,1353.7 1683,1353.7 1686,1353.7 1689,1353.7 1692,1353.7 1695,1353.8 1698,1353.8 1701,1353.8 1704,1353.8 1707,1353.9 1710,1353.9 1713,1353.9 1716,1353.9 1719,1354.0 1722,1354.0 1725,1354.0 1728,1354.0 1731,1354.0 1734,1354.1 1737,1354.1 1740,1354.1 1743,1354.1 1746,1354.1 1749,1354.2 1752,1354.2 1755,1354.2 1758,1354.2 1761,1354.3 1764,1354.3 1767,1354.3 1770,1354.3 1773,1354.3 1776,1354.4 1779,1354.4 1782,1354.4 1785,1354.4 1788,1354.5 1791,1354.5 1794,1354.5 1797,1354.5 1800,1354.5 1803,1354.6 1806,1354.6 1809,1354.6 1812,1354.6 1815,1354.6 1818,1354.7 1821,1354.7 1824,1354.7 1827,1354.7 1830,1354.8 1833,1354.8 1836,1354.8 1839,1354.8 1842,1354.8 1845,1354.9 1848,1354.9 1851,1354.9 1854,1354.9 1857,1354.9 1860,1355.0 1863,1355.0 1866,1355.0 1869,1355.0 1872,1355.0 1875,1355.1 1878,1355.1 1881,1355.1 1884,1355.1 1887,1355.2 1890,1355.2 1893,1355.2 1896,1355.2 1899,1355.2 1902,1355.3 1905,1355.3 1908,1355.3 1911,1355.3 1914,1355.3 1917,1355.4 1920,1355.4 1923,1355.4 1926,1355.4 1929,1355.4 1932,1355.5 1935,1355.5 1938,1355.5 1941,1355.5 1944,1355.6 1947,1355.6 1950,1355.6 1953,1355.6 1956,1355.6 1959,1355.7 1962,1355.7 1965,1355.7 1968,1355.7 1971,1355.7 1974,1355.8 1977,1355.8 1980,1355.8 1983,1355.8 1986,1355.8 1989,1355.9 1992,1355.9 1995,1355.9 1998,1355.9 2001,1356.0 2004,1356.0 2007,1356.0 2010,1356.0 2013,1356.0 2016,1356.1 2019,1356.1 2022,1356.1 2025,1356.1 2028,1356.1 2031,1356.2 2034,1356.2 2037,1356.2 2040,1356.2 2043,1356.2 2046,1356.3 2049,1356.3 2052,1356.3 2055,1356.3 2058,1356.4 2061,1356.4 2064,1356.4 2067,1356.4 2070,1356.4 2073,1356.5 2076,1356.5 2079,1356.5 2082,1356.5 2085,1356.5 2088,1356.6 2091,1356.6 2094,1356.6 2097,1356.6 2100,1356.6 2103,1356.7 2106,1356.7 2109,1356.7 2112,1356.8 2115,1356.8 2118,1356.8 2121,1356.9 2124,1356.9 2127,1356.9 2130,1357.0 2133,1357.0 2136,1357.0 2139,1357.1 2142,1357.1 2145,1357.1 2148,1357.2 2151,1357.2 2154,1357.2 2157,1357.3 2160,1357.3 2163,1357.3 2166,1357.4 2169,1357.4 2172,1357.4 2175,1357.5 2178,1357.5 2181,1357.5 2184,1357.6 2187,1357.6 2190,1357.6 2193,1357.6 2196,1357.7 2199,1357.7 2202,1357.7 2205,1357.8 2208,1357.8 2211,1357.8 2214,1357.9 2217,1357.9 2220,1357.9 2223,1358.0 2226,1358.0 2229,1358.0 2232,1358.1 2235,1358.1 2238,1358.1 2241,1358.2 2244,1358.2 2247,1358.2 2250,1358.3 2253,1358.3 2256,1358.3 2259,1358.4 2262,1358.4 2265,1358.4 2268,1358.5 2271,1358.5 2274,1358.5 2277,1358.5 2280,1358.6 2283,1358.6 2286,1358.6 2289,1358.7 2292,1358.7 2295,1358.7 2298,1358.8 2301,1358.8 2304,1358.8 2307,1358.9 2310,1358.9 2313,1358.9 2316,1359.0 2319,1359.0 2322,1359.0 2325,1359.1 2328,1359.1 2331,1359.1 2334,1359.2 2337,1359.2 2340,1359.2 2343,1359.3 2346,1359.3 2349,1359.3 2352,1359.4 2355,1359.4 2358,1359.4 2361,1359.4 2364,1359.5 2367,1359.5 2370,1359.5 2373,1359.6 2376,1359.6 2379,1359.6 2382,1359.7 2385,1359.7 2388,1359.7 2391,1359.8 2394,1359.8 2397,1359.8 2400,1359.9 2403,1359.9"/>
</g>
<clipPath id="cp2"><rect x="294" y="1430" width="2110" height="671"/></clipPath>
<g clip-path="url(#cp2)" fill="none" stroke-width="11" stroke-linejoin="round" stroke-linecap="butt" shape-rendering="crispEdges">
<polyline stroke="#000" points="294,2029.6 300,2023.5 306,2027.4 312,2026.1 318,2026.3 324,2026.6 330,2024.2 336,2026.6 342,2025.7 348,2031.3 354,2027.2 360,2026.4 366,2026.5 372,2026.0 378,2025.5 384,2026.4 390,2027.5 396,2026.6 402,2028.2 408,2026.6 414,2026.9 420,2029.0 426,2027.6 432,2026.1 438,2026.6 444,2027.5 450,2029.4 456,2026.4 462,2026.4 468,2028.1 474,2025.5 480,2026.3 486,2027.9 492,2027.5 498,2026.8 504,2027.6 510,2022.7 516,2028.0 522,2025.2 528,2024.2 534,2026.9 540,2027.5 546,2025.8 552,2024.9 558,2026.4 564,2026.3 570,2028.3 576,2027.3 582,2026.5 588,2027.8 594,2025.9 600,2024.8 606,2026.9 612,2026.8 618,2025.6 624,2024.7 630,2026.1 636,2022.0 642,2026.6 648,2026.2 654,2023.0 660,2025.4 666,2023.8 672,2026.2 678,2022.0 684,2023.5 690,2025.8 696,2026.4 702,2021.3 708,2023.7 714,2024.8 720,2023.2 726,2026.4 732,2022.1 738,2024.2 744,2022.0 750,2025.5 756,2023.2 762,2022.4 768,2020.2 774,2025.2 780,2023.5 786,2023.3 792,2023.7 798,2022.2 804,2020.4 810,2019.8 816,2019.5 822,2022.6 828,2017.8 834,2018.8 840,2018.9 846,2019.4 852,2019.5 858,2016.1 864,2014.8 870,2017.2 876,2018.7 882,2017.4 888,2016.0 894,2014.5 900,2015.0 906,2013.4 912,2014.6 918,2011.1 924,2012.1 930,2010.9 936,2011.4 942,2010.0 948,2013.5 954,2010.8 960,2010.0 966,2002.7 972,2005.0 978,2003.6 984,2004.9 990,1998.7 996,2004.4 1002,2003.3 1008,1997.9 1014,1997.6 1020,1997.0 1026,1997.7 1032,1998.0 1038,1999.9 1044,1994.6 1050,1995.6 1056,1993.5 1062,1995.8 1068,1992.8 1074,1993.2 1080,1987.3 1086,1988.2 1092,1985.9 1098,1989.8 1104,1987.0 1110,1984.0 1116,1982.6 1122,1983.5 1128,1979.9 1134,1978.2 1140,1980.0 1146,1983.0 1152,1975.7 1158,1973.5 1164,1970.5 1170,1968.4 1176,1970.7 1182,1969.5 1188,1965.4 1194,1963.8 1200,1960.8 1206,1958.2 1212,1951.3 1218,1950.8 1224,1948.9 1230,1943.1 1236,1940.0 1242,1934.9 1248,1931.7 1254,1930.1 1260,1921.7 1266,1917.0 1272,1913.9 1278,1907.3 1284,1903.8 1290,1886.1 1296,1887.4 1302,1875.8 1308,1869.6 1314,1863.3 1320,1855.3 1326,1845.9 1332,1833.4 1338,1828.2 1344,1811.5 1350,1801.1 1356,1793.2 1362,1776.9 1368,1774.7 1374,1758.4 1380,1750.3 1386,1729.3 1392,1714.9 1398,1703.7 1404,1692.5 1410,1673.6 1416,1663.8 1422,1648.4 1428,1641.3 1434,1617.9 1440,1611.4 1446,1590.5 1452,1575.6 1458,1563.4 1464,1548.2 1470,1541.6 1476,1533.5 1482,1517.9 1488,1508.9 1494,1503.2 1500,1487.2 1506,1478.0 1512,1467.8 1518,1454.5 1524,1459.8 1530,1443.0 1536,1450.8 1542,1445.2 1548,1449.4 1554,1443.8 1560,1441.4 1566,1449.7 1572,1449.1 1578,1455.9 1584,1463.0 1590,1469.4 1596,1477.3 1602,1483.5 1608,1496.5 1614,1498.3 1620,1518.8 1626,1526.2 1632,1549.1 1638,1562.6 1644,1561.9 1650,1584.5 1656,1597.2 1662,1607.2 1668,1627.8 1674,1637.7 1680,1646.5 1686,1666.4 1692,1680.7 1698,1695.3 1704,1703.5 1710,1723.7 1716,1737.0 1722,1742.7 1728,1756.8 1734,1770.8 1740,1780.6 1746,1799.7 1752,1805.3 1758,1811.6 1764,1822.4 1770,1834.3 1776,1850.9 1782,1851.8 1788,1861.0 1794,1870.0 1800,1875.8 1806,1889.6 1812,1888.0 1818,1897.8 1824,1901.9 1830,1908.6 1836,1908.6 1842,1921.2 1848,1920.3 1854,1924.6 1860,1925.6 1866,1929.3 1872,1935.5 1878,1939.2 1884,1940.9 1890,1944.0 1896,1944.5 1902,1944.3 1908,1947.6 1914,1948.1 1920,1947.3 1926,1950.2 1932,1952.2 1938,1950.1 1944,1949.1 1950,1952.1 1956,1955.3 1962,1950.3 1968,1950.8 1974,1950.9 1980,1954.5 1986,1947.2 1992,1953.0 1998,1955.4 2004,1950.8 2010,1957.0 2016,1955.3 2022,1953.4 2028,1956.0 2034,1952.7 2040,1956.2 2046,1963.2 2052,1957.9 2058,1965.9 2064,1962.8 2070,1967.0 2076,1966.4 2082,1962.9 2088,1968.7 2094,1972.4 2100,1971.4 2106,1973.0 2112,1978.9 2118,1978.7 2124,1978.6 2130,1982.9 2136,1988.4 2142,1987.7 2148,1992.8 2154,1996.1 2160,1995.0 2166,1994.6 2172,1996.3 2178,2000.8 2184,2004.5 2190,2005.1 2196,2007.4 2202,2007.2 2208,2010.2 2214,2010.3 2220,2012.1 2226,2011.8 2232,2012.7 2238,2016.0 2244,2016.1 2250,2017.5 2256,2021.5 2262,2021.2 2268,2027.3 2274,2024.8 2280,2023.1 2286,2026.2 2292,2026.3 2298,2025.3 2304,2028.9 2310,2026.4 2316,2023.3 2322,2030.1 2328,2028.3 2334,2032.1 2340,2029.2 2346,2028.8 2352,2033.4 2358,2029.7 2364,2032.0 2370,2034.3 2376,2032.5 2382,2032.5 2388,2033.0 2394,2034.4 2400,2032.2"/>
<polyline stroke="#FF0000" points="294,2026.9 297,2026.9 300,2026.9 303,2026.9 306,2026.9 309,2026.9 312,2026.9 315,2026.9 318,2026.9 321,2026.9 324,2026.9 327,2026.9 330,2026.9 333,2026.9 336,2026.9 339,2026.9 342,2026.9 345,2026.9 348,2026.9 351,2026.9 354,2026.9 357,2026.9 360,2026.9 363,2026.9 366,2026.9 369,2026.9 372,2026.9 375,2026.9 378,2026.9 381,2026.9 384,2026.9 387,2026.9 390,2026.9 393,2026.9 396,2026.9 399,2026.9 402,2026.9 405,2026.9 408,2026.9 411,2026.9 414,2026.9 417,2026.8 420,2026.8 423,2026.8 426,2026.8 429,2026.8 432,2026.8 435,2026.8 438,2026.8 441,2026.8 444,2026.8 447,2026.8 450,2026.8 453,2026.8 456,2026.8 459,2026.8 462,2026.8 465,2026.7 468,2026.7 471,2026.7 474,2026.7 477,2026.7 480,2026.7 483,2026.7 486,2026.7 489,2026.7 492,2026.7 495,2026.7 498,2026.6 501,2026.6 504,2026.6 507,2026.6 510,2026.6 513,2026.6 516,2026.6 519,2026.6 522,2026.5 525,2026.5 528,2026.5 531,2026.5 534,2026.5 537,2026.5 540,2026.5 543,2026.4 546,2026.4 549,2026.4 552,2026.4 555,2026.4 558,2026.4 561,2026.3 564,2026.3 567,2026.3 570,2026.3 573,2026.3 576,2026.2 579,2026.2 582,2026.2 585,2026.2 588,2026.2 591,2026.1 594,2026.1 597,2026.1 600,2026.1 603,2026.0 606,2026.0 609,2026.0 612,2025.9 615,2025.9 618,2025.8 621,2025.8 624,2025.8 627,2025.7 630,2025.7 633,2025.6 636,2025.6 639,2025.6 642,2025.5 645,2025.5 648,2025.4 651,2025.4 654,2025.3 657,2025.3 660,2025.2 663,2025.2 666,2025.1 669,2025.1 672,2025.0 675,2025.0 678,2024.9 681,2024.9 684,2024.8 687,2024.8 690,2024.7 693,2024.7 696,2024.6 699,2024.5 702,2024.5 705,2024.4 708,2024.3 711,2024.3 714,2024.2 717,2024.1 720,2024.1 723,2024.0 726,2023.9 729,2023.8 732,2023.8 735,2023.7 738,2023.6 741,2023.5 744,2023.4 747,2023.4 750,2023.3 753,2023.2 756,2023.1 759,2023.0 762,2022.9 765,2022.8 768,2022.7 771,2022.6 774,2022.5 777,2022.4 780,2022.2 783,2022.1 786,2022.0 789,2021.9 792,2021.8 795,2021.6 798,2021.5 801,2021.4 804,2021.2 807,2021.1 810,2020.9 813,2020.8 816,2020.6 819,2020.4 822,2020.3 825,2020.1 828,2019.9 831,2019.7 834,2019.6 837,2019.4 840,2019.2 843,2019.0 846,2018.8 849,2018.5 852,2018.3 855,2018.1 858,2017.9 861,2017.7 864,2017.4 867,2017.2 870,2016.9 873,2016.7 876,2016.4 879,2016.1 882,2015.9 885,2015.6 888,2015.3 891,2015.0 894,2014.7 897,2014.4 900,2014.1 903,2013.8 906,2013.5 909,2013.1 912,2012.8 915,2012.5 918,2012.1 921,2011.8 924,2011.4 927,2011.1 930,2010.7 933,2010.3 936,2010.0 939,2009.6 942,2009.2 945,2008.8 948,2008.4 951,2008.0 954,2007.6 957,2007.2 960,2006.8 963,2006.4 966,2006.0 969,2005.5 972,2005.1 975,2004.7 978,2004.3 981,2003.8 984,2003.4 987,2003.0 990,2002.5 993,2002.1 996,2001.6 999,2001.2 1002,2000.7 1005,2000.3 1008,1999.8 1011,1999.4 1014,1998.9 1017,1998.5 1020,1998.0 1023,1997.6 1026,1997.1 1029,1996.7 1032,1996.2 1035,1995.8 1038,1995.3 1041,1994.9 1044,1994.4 1047,1994.0 1050,1993.5 1053,1993.1 1056,1992.6 1059,1992.2 1062,1991.7 1065,1991.2 1068,1990.8 1071,1990.3 1074,1989.9 1077,1989.4 1080,1988.9 1083,1988.5 1086,1988.0 1089,1987.5 1092,1987.0 1095,1986.6 1098,1986.1 1101,1985.6 1104,1985.1 1107,1984.6 1110,1984.0 1113,1983.5 1116,1983.0 1119,1982.4 1122,1981.9 1125,1981.3 1128,1980.7 1131,1980.1 1134,1979.5 1137,1978.8 1140,1978.2 1143,1977.5 1146,1976.8 1149,1976.1 1152,1975.3 1155,1974.6 1158,1973.8 1161,1973.0 1164,1972.1 1167,1971.2 1170,1970.3 1173,1969.4 1176,1968.4 1179,1967.4 1182,1966.3 1185,1965.2 1188,1964.1 1191,1962.9 1194,1961.6 1197,1960.4 1200,1959.0 1203,1957.7 1206,1956.3 1209,1954.8 1212,1953.3 1215,1951.7 1218,1950.0 1221,1948.3 1224,1946.6 1227,1944.7 1230,1942.8 1233,1940.9 1236,1938.8 1239,1936.7 1242,1934.5 1245,1932.2 1248,1929.9 1251,1927.5 1254,1924.9 1257,1922.4 1260,1919.7 1263,1916.9 1266,1914.1 1269,1911.1 1272,1908.1 1275,1905.0 1278,1901.8 1281,1898.4 1284,1895.0 1287,1891.5 1290,1887.9 1293,1884.2 1296,1880.4 1299,1876.6 1302,1872.6 1305,1868.5 1308,1864.3 1311,1860.0 1314,1855.6 1317,1851.1 1320,1846.5 1323,1841.8 1326,1837.0 1329,1832.1 1332,1827.1 1335,1822.0 1338,1816.8 1341,1811.5 1344,1806.2 1347,1800.7 1350,1795.1 1353,1789.4 1356,1783.7 1359,1777.9 1362,1771.9 1365,1765.9 1368,1759.9 1371,1753.7 1374,1747.5 1377,1741.1 1380,1734.8 1383,1728.3 1386,1721.8 1389,1715.3 1392,1708.6 1395,1702.0 1398,1695.2 1401,1688.5 1404,1681.7 1407,1674.8 1410,1668.0 1413,1661.1 1416,1654.2 1419,1647.3 1422,1640.3 1425,1633.4 1428,1626.5 1431,1619.6 1434,1612.7 1437,1605.8 1440,1599.0 1443,1592.1 1446,1585.4 1449,1578.7 1452,1572.0 1455,1565.4 1458,1558.9 1461,1552.5 1464,1546.1 1467,1539.9 1470,1533.8 1473,1527.8 1476,1521.9 1479,1516.2 1482,1510.6 1485,1505.1 1488,1499.9 1491,1494.8 1494,1489.9 1497,1485.2 1500,1480.7 1503,1476.4 1506,1472.3 1509,1468.5 1512,1464.9 1515,1461.6 1518,1458.5 1521,1455.7 1524,1453.2 1527,1451.0 1530,1449.1 1533,1447.4 1536,1446.1 1539,1445.1 1542,1444.4 1545,1444.0 1548,1443.9 1551,1444.1 1554,1444.7 1557,1445.5 1560,1446.7 1563,1448.2 1566,1450.0 1569,1452.1 1572,1454.5 1575,1457.2 1578,1460.1 1581,1463.4 1584,1466.9 1587,1470.6 1590,1474.7 1593,1478.9 1596,1483.4 1599,1488.1 1602,1493.1 1605,1498.2 1608,1503.5 1611,1509.0 1614,1514.7 1617,1520.5 1620,1526.5 1623,1532.6 1626,1538.8 1629,1545.1 1632,1551.6 1635,1558.1 1638,1564.8 1641,1571.5 1644,1578.2 1647,1585.1 1650,1591.9 1653,1598.9 1656,1605.8 1659,1612.8 1662,1619.8 1665,1626.8 1668,1633.8 1671,1640.8 1674,1647.8 1677,1654.8 1680,1661.7 1683,1668.6 1686,1675.5 1689,1682.4 1692,1689.2 1695,1696.0 1698,1702.7 1701,1709.3 1704,1715.9 1707,1722.5 1710,1728.9 1713,1735.3 1716,1741.6 1719,1747.9 1722,1754.0 1725,1760.1 1728,1766.1 1731,1772.0 1734,1777.8 1737,1783.6 1740,1789.2 1743,1794.7 1746,1800.1 1749,1805.5 1752,1810.7 1755,1815.8 1758,1820.9 1761,1825.8 1764,1830.6 1767,1835.3 1770,1839.9 1773,1844.4 1776,1848.8 1779,1853.1 1782,1857.2 1785,1861.3 1788,1865.3 1791,1869.1 1794,1872.9 1797,1876.5 1800,1880.0 1803,1883.5 1806,1886.8 1809,1890.0 1812,1893.2 1815,1896.2 1818,1899.1 1821,1901.9 1824,1904.7 1827,1907.3 1830,1909.8 1833,1912.2 1836,1914.6 1839,1916.8 1842,1918.9 1845,1921.0 1848,1922.9 1851,1924.8 1854,1926.6 1857,1928.3 1860,1929.9 1863,1931.5 1866,1932.9 1869,1934.3 1872,1935.6 1875,1936.8 1878,1938.0 1881,1939.1 1884,1940.1 1887,1941.1 1890,1942.0 1893,1942.8 1896,1943.6 1899,1944.3 1902,1945.0 1905,1945.6 1908,1946.2 1911,1946.7 1914,1947.2 1917,1947.7 1920,1948.1 1923,1948.4 1926,1948.8 1929,1949.1 1932,1949.3 1935,1949.6 1938,1949.8 1941,1950.0 1944,1950.2 1947,1950.3 1950,1950.5 1953,1950.6 1956,1950.7 1959,1950.9 1962,1951.0 1965,1951.1 1968,1951.2 1971,1951.3 1974,1951.4 1977,1951.5 1980,1951.6 1983,1951.8 1986,1951.9 1989,1952.1 1992,1952.3 1995,1952.4 1998,1952.7 2001,1952.9 2004,1953.1 2007,1953.4 2010,1953.7 2013,1954.0 2016,1954.4 2019,1954.8 2022,1955.2 2025,1955.6 2028,1956.1 2031,1956.6 2034,1957.1 2037,1957.6 2040,1958.2 2043,1958.8 2046,1959.5 2049,1960.2 2052,1960.8 2055,1961.6 2058,1962.3 2061,1963.1 2064,1963.9 2067,1964.7 2070,1965.6 2073,1966.5 2076,1967.4 2079,1968.3 2082,1969.2 2085,1970.2 2088,1971.1 2091,1972.1 2094,1973.1 2097,1974.2 2100,1975.2 2103,1976.2 2106,1977.2 2109,1978.3 2112,1979.3 2115,1980.4 2118,1981.4 2121,1982.5 2124,1983.5 2127,1984.6 2130,1985.7 2133,1986.7 2136,1987.8 2139,1988.8 2142,1989.9 2145,1991.0 2148,1992.0 2151,1993.0 2154,1994.1 2157,1995.1 2160,1996.1 2163,1997.1 2166,1998.1 2169,1999.1 2172,2000.0 2175,2001.0 2178,2001.9 2181,2002.9 2184,2003.8 2187,2004.7 2190,2005.6 2193,2006.5 2196,2007.3 2199,2008.2 2202,2009.0 2205,2009.8 2208,2010.6 2211,2011.4 2214,2012.1 2217,2012.9 2220,2013.6 2223,2014.3 2226,2015.0 2229,2015.6 2232,2016.3 2235,2016.9 2238,2017.6 2241,2018.2 2244,2018.8 2247,2019.3 2250,2019.9 2253,2020.4 2256,2021.0 2259,2021.5 2262,2022.0 2265,2022.4 2268,2022.9 2271,2023.3 2274,2023.8 2277,2024.2 2280,2024.6 2283,2025.0 2286,2025.4 2289,2025.8 2292,2026.1 2295,2026.5 2298,2026.8 2301,2027.1 2304,2027.4 2307,2027.7 2310,2028.0 2313,2028.3 2316,2028.6 2319,2028.9 2322,2029.1 2325,2029.4 2328,2029.6 2331,2029.8 2334,2030.0 2337,2030.3 2340,2030.5 2343,2030.7 2346,2030.9 2349,2031.1 2352,2031.2 2355,2031.4 2358,2031.6 2361,2031.7 2364,2031.9 2367,2032.1 2370,2032.2 2373,2032.4 2376,2032.5 2379,2032.6 2382,2032.8 2385,2032.9 2388,2033.0 2391,2033.2 2394,2033.3 2397,2033.4 2400,2033.5 2403,2033.6"/>
<polyline stroke="#0000FF" points="294,2027.1 297,2027.1 300,2027.1 303,2027.1 306,2027.1 309,2027.1 312,2027.1 315,2027.1 318,2027.1 321,2027.1 324,2027.1 327,2027.1 330,2027.1 333,2027.1 336,2027.1 339,2027.1 342,2027.1 345,2027.1 348,2027.1 351,2027.1 354,2027.1 357,2027.1 360,2027.1 363,2027.1 366,2027.1 369,2027.1 372,2027.1 375,2027.1 378,2027.1 381,2027.1 384,2027.1 387,2027.1 390,2027.1 393,2027.1 396,2027.1 399,2027.1 402,2027.1 405,2027.1 408,2027.1 411,2027.1 414,2027.1 417,2027.1 420,2027.1 423,2027.1 426,2027.1 429,2027.1 432,2027.1 435,2027.1 438,2027.1 441,2027.1 444,2027.1 447,2027.1 450,2027.1 453,2027.1 456,2027.1 459,2027.1 462,2027.0 465,2027.0 468,2027.0 471,2027.0 474,2027.0 477,2027.0 480,2027.0 483,2027.0 486,2027.0 489,2027.0 492,2027.0 495,2027.0 498,2027.0 501,2026.9 504,2026.9 507,2026.9 510,2026.9 513,2026.9 516,2026.9 519,2026.9 522,2026.9 525,2026.9 528,2026.8 531,2026.8 534,2026.8 537,2026.8 540,2026.8 543,2026.8 546,2026.8 549,2026.8 552,2026.7 555,2026.7 558,2026.7 561,2026.7 564,2026.7 567,2026.7 570,2026.6 573,2026.6 576,2026.6 579,2026.6 582,2026.6 585,2026.6 588,2026.5 591,2026.5 594,2026.5 597,2026.5 600,2026.5 603,2026.4 606,2026.4 609,2026.4 612,2026.3 615,2026.3 618,2026.2 621,2026.2 624,2026.2 627,2026.1 630,2026.1 633,2026.1 636,2026.0 639,2026.0 642,2025.9 645,2025.9 648,2025.9 651,2025.8 654,2025.8 657,2025.7 660,2025.7 663,2025.7 666,2025.6 669,2025.6 672,2025.5 675,2025.5 678,2025.4 681,2025.4 684,2025.4 687,2025.3 690,2025.3 693,2025.2 696,2025.2 699,2025.1 702,2025.1 705,2025.0 708,2025.0 711,2024.9 714,2024.9 717,2024.8 720,2024.7 723,2024.7 726,2024.6 729,2024.6 732,2024.5 735,2024.5 738,2024.4 741,2024.4 744,2024.3 747,2024.2 750,2024.2 753,2024.1 756,2024.0 759,2024.0 762,2023.9 765,2023.9 768,2023.8 771,2023.7 774,2023.7 777,2023.6 780,2023.5 783,2023.5 786,2023.4 789,2023.3 792,2023.2 795,2023.2 798,2023.1 801,2023.0 804,2022.9 807,2022.9 810,2022.8 813,2022.7 816,2022.6 819,2022.5 822,2022.5 825,2022.4 828,2022.3 831,2022.2 834,2022.1 837,2022.0 840,2021.9 843,2021.8 846,2021.8 849,2021.7 852,2021.6 855,2021.5 858,2021.4 861,2021.3 864,2021.2 867,2021.1 870,2021.0 873,2020.9 876,2020.8 879,2020.7 882,2020.6 885,2020.4 888,2020.3 891,2020.2 894,2020.1 897,2020.0 900,2019.9 903,2019.7 906,2019.6 909,2019.5 912,2019.4 915,2019.3 918,2019.1 921,2019.0 924,2018.9 927,2018.7 930,2018.6 933,2018.5 936,2018.3 939,2018.2 942,2018.0 945,2017.9 948,2017.7 951,2017.6 954,2017.4 957,2017.3 960,2017.1 963,2016.9 966,2016.8 969,2016.6 972,2016.4 975,2016.3 978,2016.1 981,2015.9 984,2015.7 987,2015.6 990,2015.4 993,2015.2 996,2015.0 999,2014.8 1002,2014.6 1005,2014.4 1008,2014.2 1011,2014.0 1014,2013.7 1017,2013.5 1020,2013.3 1023,2013.1 1026,2012.8 1029,2012.6 1032,2012.3 1035,2012.1 1038,2011.8 1041,2011.6 1044,2011.3 1047,2011.0 1050,2010.8 1053,2010.5 1056,2010.2 1059,2009.9 1062,2009.6 1065,2009.3 1068,2008.9 1071,2008.6 1074,2008.3 1077,2007.9 1080,2007.6 1083,2007.2 1086,2006.8 1089,2006.4 1092,2006.0 1095,2005.6 1098,2005.2 1101,2004.8 1104,2004.3 1107,2003.9 1110,2003.4 1113,2002.9 1116,2002.4 1119,2001.9 1122,2001.4 1125,2000.9 1128,2000.3 1131,1999.7 1134,1999.1 1137,1998.5 1140,1997.9 1143,1997.2 1146,1996.5 1149,1995.8 1152,1995.1 1155,1994.3 1158,1993.6 1161,1992.8 1164,1991.9 1167,1991.1 1170,1990.2 1173,1989.3 1176,1988.3 1179,1987.3 1182,1986.3 1185,1985.3 1188,1984.2 1191,1983.1 1194,1981.9 1197,1980.7 1200,1979.4 1203,1978.2 1206,1976.9 1209,1975.5 1212,1974.1 1215,1972.7 1218,1971.2 1221,1969.6 1224,1968.0 1227,1966.4 1230,1964.7 1233,1962.9 1236,1961.1 1239,1959.2 1242,1957.2 1245,1955.2 1248,1953.1 1251,1951.0 1254,1948.7 1257,1946.5 1260,1944.1 1263,1941.7 1266,1939.2 1269,1936.6 1272,1933.9 1275,1931.2 1278,1928.3 1281,1925.4 1284,1922.5 1287,1919.4 1290,1916.2 1293,1913.0 1296,1909.6 1299,1906.2 1302,1902.7 1305,1899.1 1308,1895.4 1311,1891.6 1314,1887.7 1317,1883.8 1320,1879.7 1323,1875.5 1326,1871.2 1329,1866.9 1332,1862.4 1335,1857.9 1338,1853.2 1341,1848.5 1344,1843.6 1347,1838.7 1350,1833.7 1353,1828.5 1356,1823.3 1359,1818.0 1362,1812.6 1365,1807.1 1368,1801.5 1371,1795.8 1374,1790.1 1377,1784.2 1380,1778.3 1383,1772.3 1386,1766.2 1389,1760.1 1392,1753.8 1395,1747.6 1398,1741.2 1401,1734.8 1404,1728.3 1407,1721.8 1410,1715.2 1413,1708.6 1416,1701.9 1419,1695.2 1422,1688.5 1425,1681.7 1428,1675.0 1431,1668.2 1434,1661.4 1437,1654.6 1440,1647.8 1443,1641.0 1446,1634.3 1449,1627.6 1452,1620.9 1455,1614.3 1458,1607.7 1461,1601.2 1464,1594.7 1467,1588.4 1470,1582.1 1473,1576.0 1476,1569.9 1479,1564.0 1482,1558.2 1485,1552.6 1488,1547.1 1491,1541.7 1494,1536.6 1497,1531.6 1500,1526.9 1503,1522.3 1506,1518.0 1509,1513.8 1512,1509.9 1515,1506.3 1518,1502.9 1521,1499.8 1524,1497.0 1527,1494.5 1530,1492.2 1533,1490.3 1536,1488.6 1539,1487.3 1542,1486.2 1545,1485.5 1548,1485.1 1551,1485.0 1554,1485.3 1557,1485.8 1560,1486.7 1563,1487.9 1566,1489.4 1569,1491.2 1572,1493.3 1575,1495.7 1578,1498.4 1581,1501.3 1584,1504.6 1587,1508.1 1590,1511.8 1593,1515.9 1596,1520.1 1599,1524.6 1602,1529.3 1605,1534.1 1608,1539.2 1611,1544.5 1614,1549.9 1617,1555.5 1620,1561.3 1623,1567.2 1626,1573.2 1629,1579.4 1632,1585.6 1635,1592.0 1638,1598.4 1641,1604.9 1644,1611.5 1647,1618.1 1650,1624.8 1653,1631.6 1656,1638.3 1659,1645.1 1662,1652.0 1665,1658.8 1668,1665.6 1671,1672.5 1674,1679.3 1677,1686.1 1680,1692.9 1683,1699.6 1686,1706.4 1689,1713.0 1692,1719.7 1695,1726.3 1698,1732.8 1701,1739.3 1704,1745.8 1707,1752.1 1710,1758.4 1713,1764.7 1716,1770.8 1719,1776.9 1722,1782.9 1725,1788.9 1728,1794.7 1731,1800.5 1734,1806.2 1737,1811.8 1740,1817.3 1743,1822.7 1746,1828.0 1749,1833.2 1752,1838.3 1755,1843.4 1758,1848.3 1761,1853.1 1764,1857.9 1767,1862.5 1770,1867.1 1773,1871.6 1776,1875.9 1779,1880.2 1782,1884.4 1785,1888.4 1788,1892.4 1791,1896.3 1794,1900.1 1797,1903.8 1800,1907.4 1803,1910.9 1806,1914.4 1809,1917.7 1812,1921.0 1815,1924.2 1818,1927.3 1821,1930.3 1824,1933.2 1827,1936.1 1830,1938.9 1833,1941.6 1836,1944.2 1839,1946.7 1842,1949.2 1845,1951.6 1848,1953.9 1851,1956.2 1854,1958.3 1857,1960.5 1860,1962.5 1863,1964.5 1866,1966.4 1869,1968.3 1872,1970.1 1875,1971.9 1878,1973.6 1881,1975.2 1884,1976.8 1887,1978.4 1890,1979.8 1893,1981.3 1896,1982.7 1899,1984.0 1902,1985.4 1905,1986.6 1908,1987.8 1911,1989.0 1914,1990.2 1917,1991.3 1920,1992.4 1923,1993.4 1926,1994.4 1929,1995.4 1932,1996.3 1935,1997.3 1938,1998.1 1941,1999.0 1944,1999.8 1947,2000.6 1950,2001.4 1953,2002.2 1956,2002.9 1959,2003.6 1962,2004.3 1965,2005.0 1968,2005.6 1971,2006.3 1974,2006.9 1977,2007.5 1980,2008.1 1983,2008.6 1986,2009.2 1989,2009.7 1992,2010.2 1995,2010.7 1998,2011.2 2001,2011.7 2004,2012.2 2007,2012.6 2010,2013.1 2013,2013.5 2016,2013.9 2019,2014.3 2022,2014.7 2025,2015.1 2028,2015.5 2031,2015.9 2034,2016.2 2037,2016.6 2040,2017.0 2043,2017.3 2046,2017.6 2049,2018.0 2052,2018.3 2055,2018.6 2058,2018.9 2061,2019.2 2064,2019.5 2067,2019.8 2070,2020.1 2073,2020.4 2076,2020.7 2079,2021.0 2082,2021.2 2085,2021.5 2088,2021.8 2091,2022.0 2094,2022.3 2097,2022.5 2100,2022.8 2103,2023.0 2106,2023.2 2109,2023.4 2112,2023.6 2115,2023.8 2118,2024.0 2121,2024.2 2124,2024.4 2127,2024.6 2130,2024.8 2133,2025.0 2136,2025.2 2139,2025.4 2142,2025.6 2145,2025.7 2148,2025.9 2151,2026.1 2154,2026.3 2157,2026.4 2160,2026.6 2163,2026.8 2166,2026.9 2169,2027.1 2172,2027.2 2175,2027.4 2178,2027.5 2181,2027.7 2184,2027.8 2187,2028.0 2190,2028.1 2193,2028.3 2196,2028.4 2199,2028.6 2202,2028.7 2205,2028.8 2208,2029.0 2211,2029.1 2214,2029.2 2217,2029.4 2220,2029.5 2223,2029.6 2226,2029.8 2229,2029.9 2232,2030.0 2235,2030.1 2238,2030.3 2241,2030.4 2244,2030.5 2247,2030.6 2250,2030.7 2253,2030.8 2256,2031.0 2259,2031.1 2262,2031.2 2265,2031.3 2268,2031.4 2271,2031.5 2274,2031.6 2277,2031.7 2280,2031.8 2283,2031.9 2286,2032.0 2289,2032.1 2292,2032.2 2295,2032.3 2298,2032.4 2301,2032.5 2304,2032.6 2307,2032.7 2310,2032.8 2313,2032.9 2316,2033.0 2319,2033.1 2322,2033.2 2325,2033.3 2328,2033.3 2331,2033.4 2334,2033.5 2337,2033.6 2340,2033.7 2343,2033.8 2346,2033.9 2349,2033.9 2352,2034.0 2355,2034.1 2358,2034.2 2361,2034.3 2364,2034.3 2367,2034.4 2370,2034.5 2373,2034.6 2376,2034.6 2379,2034.7 2382,2034.8 2385,2034.9 2388,2034.9 2391,2035.0 2394,2035.1 2397,2035.2 2400,2035.2 2403,2035.3"/>
<polyline stroke="#FF00FF" points="1098,2033.2 1101,2033.2 1104,2033.1 1107,2033.0 1110,2032.9 1113,2032.8 1116,2032.8 1119,2032.7 1122,2032.6 1125,2032.4 1128,2032.3 1131,2032.2 1134,2032.1 1137,2032.0 1140,2031.8 1143,2031.7 1146,2031.5 1149,2031.4 1152,2031.2 1155,2031.1 1158,2030.9 1161,2030.7 1164,2030.5 1167,2030.3 1170,2030.1 1173,2029.9 1176,2029.7 1179,2029.4 1182,2029.2 1185,2028.9 1188,2028.7 1191,2028.4 1194,2028.1 1197,2027.8 1200,2027.5 1203,2027.2 1206,2026.9 1209,2026.6 1212,2026.3 1215,2025.9 1218,2025.6 1221,2025.2 1224,2024.9 1227,2024.5 1230,2024.1 1233,2023.7 1236,2023.3 1239,2022.9 1242,2022.5 1245,2022.0 1248,2021.6 1251,2021.1 1254,2020.6 1257,2020.2 1260,2019.7 1263,2019.2 1266,2018.7 1269,2018.1 1272,2017.6 1275,2017.1 1278,2016.5 1281,2016.0 1284,2015.4 1287,2014.9 1290,2014.3 1293,2013.7 1296,2013.1 1299,2012.5 1302,2011.9 1305,2011.4 1308,2010.8 1311,2010.2 1314,2009.6 1317,2009.0 1320,2008.4 1323,2007.8 1326,2007.2 1329,2006.6 1332,2006.0 1335,2005.4 1338,2004.8 1341,2004.2 1344,2003.7 1347,2003.1 1350,2002.6 1353,2002.0 1356,2001.5 1359,2001.0 1362,2000.5 1365,2000.0 1368,1999.5 1371,1999.1 1374,1998.6 1377,1998.2 1380,1997.8 1383,1997.4 1386,1997.0 1389,1996.7 1392,1996.4 1395,1996.1 1398,1995.8 1401,1995.5 1404,1995.3 1407,1995.1 1410,1994.9 1413,1994.8 1416,1994.7 1419,1994.6 1422,1994.5 1425,1994.5 1428,1994.5 1431,1994.5 1434,1994.6 1437,1994.6 1440,1994.8 1443,1994.9 1446,1995.1 1449,1995.3 1452,1995.5 1455,1995.7 1458,1996.0 1461,1996.3 1464,1996.7 1467,1997.0 1470,1997.4 1473,1997.8 1476,1998.2 1479,1998.7 1482,1999.1 1485,1999.6 1488,2000.1 1491,2000.6 1494,2001.2 1497,2001.7 1500,2002.3 1503,2002.8 1506,2003.4 1509,2004.0 1512,2004.6 1515,2005.2 1518,2005.8 1521,2006.4 1524,2007.0 1527,2007.6 1530,2008.3 1533,2008.9 1536,2009.5 1539,2010.2 1542,2010.8 1545,2011.4 1548,2012.1 1551,2012.7 1554,2013.4 1557,2014.0 1560,2014.6 1563,2015.3 1566,2015.9 1569,2016.5 1572,2017.1 1575,2017.8 1578,2018.4 1581,2019.0 1584,2019.5 1587,2020.1 1590,2020.7 1593,2021.3 1596,2021.8 1599,2022.4 1602,2022.9 1605,2023.5 1608,2024.0 1611,2024.5 1614,2025.0 1617,2025.5 1620,2026.0 1623,2026.4 1626,2026.9 1629,2027.3 1632,2027.8 1635,2028.2 1638,2028.6 1641,2029.0 1644,2029.4 1647,2029.8 1650,2030.2 1653,2030.5 1656,2030.9 1659,2031.2 1662,2031.5 1665,2031.9 1668,2032.2 1671,2032.5 1674,2032.8 1677,2033.0 1680,2033.3 1683,2033.6 1686,2033.8 1689,2034.1 1692,2034.3 1695,2034.5 1698,2034.7 1701,2035.0 1704,2035.2 1707,2035.3 1710,2035.5 1713,2035.7 1716,2035.9 1719,2036.0 1722,2036.2 1725,2036.3 1728,2036.5 1731,2036.6 1734,2036.8 1737,2036.9 1740,2037.0 1743,2037.1 1746,2037.2 1749,2037.4 1752,2037.5 1755,2037.6 1758,2037.6 1761,2037.7 1764,2037.8 1767,2037.9 1770,2038.0 1773,2038.1 1776,2038.1 1779,2038.2 1782,2038.3 1785,2038.3 1788,2038.4 1791,2038.4 1794,2038.5 1797,2038.6 1800,2038.6 1803,2038.7 1806,2038.7 1809,2038.8 1812,2038.9 1815,2038.9 1818,2039.0 1821,2039.1 1824,2039.1 1827,2039.2 1830,2039.2 1833,2039.3 1836,2039.4 1839,2039.4 1842,2039.5 1845,2039.5 1848,2039.6 1851,2039.6 1854,2039.7 1857,2039.7 1860,2039.8 1863,2039.8 1866,2039.9 1869,2039.9 1872,2040.0 1875,2040.0 1878,2040.0 1881,2040.1 1884,2040.1 1887,2040.2 1890,2040.2 1893,2040.3 1896,2040.3 1899,2040.3 1902,2040.4 1905,2040.4 1908,2040.5 1911,2040.5 1914,2040.5 1917,2040.6 1920,2040.6 1923,2040.7 1926,2040.7 1929,2040.7 1932,2040.8 1935,2040.8 1938,2040.9 1941,2040.9 1944,2040.9 1947,2041.0 1950,2041.0 1953,2041.1 1956,2041.1 1959,2041.1 1962,2041.2 1965,2041.2 1968,2041.2 1971,2041.3 1974,2041.3 1977,2041.3 1980,2041.4 1983,2041.4 1986,2041.5 1989,2041.5 1992,2041.5 1995,2041.6 1998,2041.6 2001,2041.6 2004,2041.7 2007,2041.7 2010,2041.7 2013,2041.8 2016,2041.8 2019,2041.9 2022,2041.9 2025,2041.9 2028,2042.0 2031,2042.0 2034,2042.0 2037,2042.1 2040,2042.1 2043,2042.1 2046,2042.2 2049,2042.2 2052,2042.2 2055,2042.3 2058,2042.3 2061,2042.3 2064,2042.4 2067,2042.4 2070,2042.4 2073,2042.5 2076,2042.5 2079,2042.6 2082,2042.6 2085,2042.6 2088,2042.7 2091,2042.7 2094,2042.7 2097,2042.8 2100,2042.8 2103,2042.8 2106,2042.8 2109,2042.8 2112,2042.8 2115,2042.9 2118,2042.9 2121,2042.9 2124,2042.9 2127,2042.9 2130,2042.9 2133,2042.9 2136,2042.9 2139,2043.0 2142,2043.0 2145,2043.0 2148,2043.0 2151,2043.0 2154,2043.0 2157,2043.0 2160,2043.0 2163,2043.1 2166,2043.1 2169,2043.1 2172,2043.1 2175,2043.1 2178,2043.1 2181,2043.1 2184,2043.1 2187,2043.2 2190,2043.2 2193,2043.2 2196,2043.2 2199,2043.2 2202,2043.2 2205,2043.2 2208,2043.2 2211,2043.2 2214,2043.3 2217,2043.3 2220,2043.3 2223,2043.3 2226,2043.3 2229,2043.3 2232,2043.3 2235,2043.3 2238,2043.4 2241,2043.4 2244,2043.4 2247,2043.4 2250,2043.4 2253,2043.4 2256,2043.4 2259,2043.4 2262,2043.4 2265,2043.5 2268,2043.5 2271,2043.5 2274,2043.5 2277,2043.5 2280,2043.5 2283,2043.5 2286,2043.5 2289,2043.6 2292,2043.6 2295,2043.6 2298,2043.6 2301,2043.6 2304,2043.6 2307,2043.6 2310,2043.6 2313,2043.6 2316,2043.7 2319,2043.7 2322,2043.7 2325,2043.7 2328,2043.7 2331,2043.7 2334,2043.7 2337,2043.7 2340,2043.7 2343,2043.8 2346,2043.8 2349,2043.8 2352,2043.8 2355,2043.8 2358,2043.8 2361,2043.8 2364,2043.8 2367,2043.8 2370,2043.9 2373,2043.9 2376,2043.9 2379,2043.9 2382,2043.9 2385,2043.9 2388,2043.9 2391,2043.9 2394,2043.9 2397,2044.0 2400,2044.0 2403,2044.0"/>
<polyline stroke="#008000" points="1320,2036.9 1323,2036.9 1326,2036.9 1329,2037.0 1332,2037.0 1335,2037.0 1338,2037.1 1341,2037.1 1344,2037.1 1347,2037.2 1350,2037.2 1353,2037.2 1356,2037.2 1359,2037.3 1362,2037.3 1365,2037.3 1368,2037.4 1371,2037.4 1374,2037.4 1377,2037.5 1380,2037.5 1383,2037.5 1386,2037.6 1389,2037.6 1392,2037.6 1395,2037.7 1398,2037.7 1401,2037.7 1404,2037.8 1407,2037.8 1410,2037.8 1413,2037.9 1416,2037.9 1419,2037.9 1422,2037.9 1425,2038.0 1428,2038.0 1431,2038.0 1434,2038.1 1437,2038.1 1440,2038.1 1443,2038.2 1446,2038.2 1449,2038.2 1452,2038.2 1455,2038.3 1458,2038.3 1461,2038.3 1464,2038.4 1467,2038.4 1470,2038.4 1473,2038.5 1476,2038.5 1479,2038.5 1482,2038.5 1485,2038.6 1488,2038.6 1491,2038.6 1494,2038.7 1497,2038.7 1500,2038.7 1503,2038.7 1506,2038.7 1509,2038.7 1512,2038.7 1515,2038.7 1518,2038.7 1521,2038.7 1524,2038.7 1527,2038.7 1530,2038.7 1533,2038.7 1536,2038.7 1539,2038.7 1542,2038.7 1545,2038.7 1548,2038.7 1551,2038.7 1554,2038.7 1557,2038.7 1560,2038.7 1563,2038.7 1566,2038.7 1569,2038.7 1572,2038.7 1575,2038.7 1578,2038.7 1581,2038.7 1584,2038.6 1587,2038.6 1590,2038.6 1593,2038.6 1596,2038.6 1599,2038.6 1602,2038.6 1605,2038.6 1608,2038.6 1611,2038.5 1614,2038.5 1617,2038.5 1620,2038.5 1623,2038.5 1626,2038.5 1629,2038.4 1632,2038.4 1635,2038.4 1638,2038.4 1641,2038.3 1644,2038.3 1647,2038.3 1650,2038.2 1653,2038.2 1656,2038.2 1659,2038.1 1662,2038.1 1665,2038.0 1668,2038.0 1671,2037.9 1674,2037.9 1677,2037.8 1680,2037.7 1683,2037.7 1686,2037.6 1689,2037.5 1692,2037.5 1695,2037.4 1698,2037.3 1701,2037.2 1704,2037.1 1707,2037.0 1710,2036.9 1713,2036.8 1716,2036.6 1719,2036.5 1722,2036.4 1725,2036.2 1728,2036.1 1731,2035.9 1734,2035.7 1737,2035.6 1740,2035.4 1743,2035.2 1746,2035.0 1749,2034.8 1752,2034.6 1755,2034.3 1758,2034.1 1761,2033.8 1764,2033.6 1767,2033.3 1770,2033.0 1773,2032.7 1776,2032.4 1779,2032.0 1782,2031.7 1785,2031.4 1788,2031.0 1791,2030.6 1794,2030.2 1797,2029.8 1800,2029.4 1803,2029.0 1806,2028.5 1809,2028.1 1812,2027.6 1815,2027.1 1818,2026.7 1821,2026.1 1824,2025.6 1827,2025.1 1830,2024.5 1833,2024.0 1836,2023.4 1839,2022.8 1842,2022.2 1845,2021.5 1848,2020.9 1851,2020.2 1854,2019.6 1857,2018.9 1860,2018.2 1863,2017.5 1866,2016.7 1869,2016.0 1872,2015.3 1875,2014.5 1878,2013.7 1881,2012.9 1884,2012.2 1887,2011.4 1890,2010.6 1893,2009.7 1896,2008.9 1899,2008.1 1902,2007.3 1905,2006.4 1908,2005.6 1911,2004.8 1914,2003.9 1917,2003.1 1920,2002.3 1923,2001.4 1926,2000.6 1929,1999.8 1932,1999.0 1935,1998.2 1938,1997.4 1941,1996.6 1944,1995.8 1947,1995.1 1950,1994.3 1953,1993.6 1956,1992.9 1959,1992.2 1962,1991.5 1965,1990.9 1968,1990.2 1971,1989.6 1974,1989.1 1977,1988.5 1980,1988.0 1983,1987.5 1986,1987.1 1989,1986.6 1992,1986.2 1995,1985.9 1998,1985.6 2001,1985.3 2004,1985.0 2007,1984.8 2010,1984.6 2013,1984.5 2016,1984.4 2019,1984.3 2022,1984.3 2025,1984.3 2028,1984.4 2031,1984.5 2034,1984.6 2037,1984.8 2040,1985.0 2043,1985.3 2046,1985.6 2049,1985.9 2052,1986.3 2055,1986.7 2058,1987.2 2061,1987.6 2064,1988.1 2067,1988.7 2070,1989.2 2073,1989.8 2076,1990.5 2079,1991.1 2082,1991.8 2085,1992.5 2088,1993.2 2091,1994.0 2094,1994.7 2097,1995.5 2100,1996.3 2103,1997.1 2106,1997.9 2109,1998.7 2112,1999.6 2115,2000.4 2118,2001.2 2121,2002.1 2124,2003.0 2127,2003.8 2130,2004.7 2133,2005.6 2136,2006.5 2139,2007.3 2142,2008.2 2145,2009.1 2148,2010.0 2151,2010.8 2154,2011.7 2157,2012.5 2160,2013.4 2163,2014.2 2166,2015.1 2169,2015.9 2172,2016.7 2175,2017.5 2178,2018.3 2181,2019.1 2184,2019.9 2187,2020.6 2190,2021.4 2193,2022.1 2196,2022.8 2199,2023.5 2202,2024.2 2205,2024.9 2208,2025.5 2211,2026.2 2214,2026.8 2217,2027.4 2220,2028.0 2223,2028.6 2226,2029.2 2229,2029.7 2232,2030.3 2235,2030.8 2238,2031.3 2241,2031.8 2244,2032.3 2247,2032.7 2250,2033.2 2253,2033.6 2256,2034.0 2259,2034.4 2262,2034.8 2265,2035.2 2268,2035.6 2271,2035.9 2274,2036.3 2277,2036.6 2280,2036.9 2283,2037.2 2286,2037.5 2289,2037.8 2292,2038.0 2295,2038.3 2298,2038.5 2301,2038.8 2304,2039.0 2307,2039.2 2310,2039.4 2313,2039.6 2316,2039.8 2319,2040.0 2322,2040.1 2325,2040.3 2328,2040.5 2331,2040.6 2334,2040.8 2337,2040.9 2340,2041.0 2343,2041.2 2346,2041.3 2349,2041.4 2352,2041.5 2355,2041.6 2358,2041.7 2361,2041.8 2364,2041.9 2367,2042.0 2370,2042.0 2373,2042.1 2376,2042.2 2379,2042.3 2382,2042.3 2385,2042.4 2388,2042.5 2391,2042.5 2394,2042.6 2397,2042.6 2400,2042.7 2403,2042.7"/>
<polyline stroke="#000080" points="849,2034.5 852,2034.5 855,2034.5 858,2034.5 861,2034.5 864,2034.5 867,2034.5 870,2034.6 873,2034.6 876,2034.6 879,2034.6 882,2034.6 885,2034.6 888,2034.6 891,2034.6 894,2034.6 897,2034.6 900,2034.7 903,2034.7 906,2034.7 909,2034.7 912,2034.7 915,2034.7 918,2034.7 921,2034.7 924,2034.7 927,2034.7 930,2034.8 933,2034.8 936,2034.8 939,2034.8 942,2034.8 945,2034.8 948,2034.8 951,2034.8 954,2034.8 957,2034.9 960,2034.9 963,2034.9 966,2034.9 969,2034.9 972,2034.9 975,2034.9 978,2034.9 981,2034.9 984,2034.9 987,2035.0 990,2035.0 993,2035.0 996,2035.0 999,2035.0 1002,2035.0 1005,2035.0 1008,2035.0 1011,2035.0 1014,2035.0 1017,2035.1 1020,2035.1 1023,2035.1 1026,2035.1 1029,2035.1 1032,2035.1 1035,2035.1 1038,2035.1 1041,2035.1 1044,2035.1 1047,2035.2 1050,2035.2 1053,2035.2 1056,2035.2 1059,2035.2 1062,2035.2 1065,2035.2 1068,2035.2 1071,2035.2 1074,2035.2 1077,2035.3 1080,2035.3 1083,2035.3 1086,2035.3 1089,2035.3 1092,2035.3 1095,2035.3 1098,2035.3 1101,2035.3 1104,2035.3 1107,2035.4 1110,2035.4 1113,2035.4 1116,2035.4 1119,2035.4 1122,2035.4 1125,2035.4 1128,2035.4 1131,2035.4 1134,2035.4 1137,2035.4 1140,2035.5 1143,2035.5 1146,2035.5 1149,2035.5 1152,2035.5 1155,2035.5 1158,2035.5 1161,2035.5 1164,2035.5 1167,2035.5 1170,2035.5 1173,2035.6 1176,2035.6 1179,2035.6 1182,2035.6 1185,2035.6 1188,2035.6 1191,2035.6 1194,2035.6 1197,2035.6 1200,2035.6 1203,2035.7 1206,2035.7 1209,2035.7 1212,2035.7 1215,2035.8 1218,2035.8 1221,2035.8 1224,2035.9 1227,2035.9 1230,2035.9 1233,2036.0 1236,2036.0 1239,2036.0 1242,2036.0 1245,2036.1 1248,2036.1 1251,2036.1 1254,2036.2 1257,2036.2 1260,2036.2 1263,2036.2 1266,2036.3 1269,2036.3 1272,2036.3 1275,2036.3 1278,2036.3 1281,2036.4 1284,2036.4 1287,2036.4 1290,2036.4 1293,2036.4 1296,2036.5 1299,2036.5 1302,2036.5 1305,2036.5 1308,2036.5 1311,2036.5 1314,2036.5 1317,2036.5 1320,2036.5 1323,2036.5 1326,2036.6 1329,2036.6 1332,2036.6 1335,2036.5 1338,2036.5 1341,2036.5 1344,2036.5 1347,2036.5 1350,2036.5 1353,2036.5 1356,2036.5 1359,2036.4 1362,2036.4 1365,2036.4 1368,2036.4 1371,2036.3 1374,2036.3 1377,2036.3 1380,2036.2 1383,2036.2 1386,2036.1 1389,2036.1 1392,2036.0 1395,2036.0 1398,2035.9 1401,2035.8 1404,2035.8 1407,2035.7 1410,2035.6 1413,2035.5 1416,2035.4 1419,2035.3 1422,2035.2 1425,2035.1 1428,2035.0 1431,2034.9 1434,2034.8 1437,2034.7 1440,2034.6 1443,2034.4 1446,2034.3 1449,2034.1 1452,2034.0 1455,2033.8 1458,2033.7 1461,2033.5 1464,2033.4 1467,2033.2 1470,2033.0 1473,2032.8 1476,2032.6 1479,2032.4 1482,2032.2 1485,2032.0 1488,2031.8 1491,2031.6 1494,2031.4 1497,2031.2 1500,2031.0 1503,2030.7 1506,2030.4 1509,2030.2 1512,2029.9 1515,2029.6 1518,2029.3 1521,2029.1 1524,2028.8 1527,2028.5 1530,2028.2 1533,2027.9 1536,2027.6 1539,2027.3 1542,2027.0 1545,2026.7 1548,2026.4 1551,2026.1 1554,2025.8 1557,2025.5 1560,2025.2 1563,2024.9 1566,2024.6 1569,2024.3 1572,2024.0 1575,2023.7 1578,2023.4 1581,2023.1 1584,2022.8 1587,2022.5 1590,2022.2 1593,2021.9 1596,2021.7 1599,2021.4 1602,2021.1 1605,2020.9 1608,2020.6 1611,2020.4 1614,2020.1 1617,2019.9 1620,2019.6 1623,2019.4 1626,2019.2 1629,2019.0 1632,2018.8 1635,2018.6 1638,2018.5 1641,2018.3 1644,2018.1 1647,2018.0 1650,2017.9 1653,2017.7 1656,2017.6 1659,2017.5 1662,2017.4 1665,2017.4 1668,2017.3 1671,2017.2 1674,2017.2 1677,2017.2 1680,2017.2 1683,2017.2 1686,2017.2 1689,2017.2 1692,2017.2 1695,2017.3 1698,2017.3 1701,2017.4 1704,2017.5 1707,2017.6 1710,2017.7 1713,2017.8 1716,2017.9 1719,2018.1 1722,2018.2 1725,2018.4 1728,2018.6 1731,2018.7 1734,2018.9 1737,2019.1 1740,2019.3 1743,2019.6 1746,2019.8 1749,2020.0 1752,2020.3 1755,2020.5 1758,2020.8 1761,2021.1 1764,2021.3 1767,2021.6 1770,2021.9 1773,2022.2 1776,2022.5 1779,2022.8 1782,2023.1 1785,2023.4 1788,2023.7 1791,2024.0 1794,2024.3 1797,2024.6 1800,2024.9 1803,2025.3 1806,2025.6 1809,2026.0 1812,2026.3 1815,2026.6 1818,2027.0 1821,2027.3 1824,2027.7 1827,2028.0 1830,2028.3 1833,2028.7 1836,2029.0 1839,2029.3 1842,2029.7 1845,2030.0 1848,2030.3 1851,2030.6 1854,2031.0 1857,2031.3 1860,2031.6 1863,2031.9 1866,2032.2 1869,2032.5 1872,2032.8 1875,2033.1 1878,2033.3 1881,2033.6 1884,2033.9 1887,2034.2 1890,2034.4 1893,2034.7 1896,2034.9 1899,2035.2 1902,2035.4 1905,2035.7 1908,2035.9 1911,2036.1 1914,2036.3 1917,2036.6 1920,2036.8 1923,2037.0 1926,2037.2 1929,2037.4 1932,2037.6 1935,2037.8 1938,2037.9 1941,2038.1 1944,2038.3 1947,2038.4 1950,2038.6 1953,2038.8 1956,2038.9 1959,2039.1 1962,2039.2 1965,2039.4 1968,2039.5 1971,2039.6 1974,2039.8 1977,2039.9 1980,2040.0 1983,2040.1 1986,2040.2 1989,2040.3 1992,2040.4 1995,2040.6 1998,2040.7 2001,2040.8 2004,2040.8 2007,2040.9 2010,2041.0 2013,2041.1 2016,2041.2 2019,2041.3 2022,2041.4 2025,2041.4 2028,2041.5 2031,2041.6 2034,2041.7 2037,2041.7 2040,2041.8 2043,2041.9 2046,2041.9 2049,2042.0 2052,2042.0 2055,2042.1 2058,2042.2 2061,2042.2 2064,2042.3 2067,2042.3 2070,2042.4 2073,2042.4 2076,2042.5 2079,2042.5 2082,2042.6 2085,2042.6 2088,2042.7 2091,2042.7 2094,2042.8 2097,2042.8 2100,2042.8 2103,2042.9 2106,2042.9 2109,2042.9 2112,2042.9 2115,2042.9 2118,2043.0 2121,2043.0 2124,2043.0 2127,2043.0 2130,2043.0 2133,2043.0 2136,2043.1 2139,2043.1 2142,2043.1 2145,2043.1 2148,2043.1 2151,2043.1 2154,2043.1 2157,2043.2 2160,2043.2 2163,2043.2 2166,2043.2 2169,2043.2 2172,2043.2 2175,2043.2 2178,2043.3 2181,2043.3 2184,2043.3 2187,2043.3 2190,2043.3 2193,2043.3 2196,2043.3 2199,2043.3 2202,2043.4 2205,2043.4 2208,2043.4 2211,2043.4 2214,2043.4 2217,2043.4 2220,2043.4 2223,2043.4 2226,2043.4 2229,2043.5 2232,2043.5 2235,2043.5 2238,2043.5 2241,2043.5 2244,2043.5 2247,2043.5 2250,2043.5 2253,2043.6 2256,2043.6 2259,2043.6 2262,2043.6 2265,2043.6 2268,2043.6 2271,2043.6 2274,2043.6 2277,2043.6 2280,2043.6 2283,2043.7 2286,2043.7 2289,2043.7 2292,2043.7 2295,2043.7 2298,2043.7 2301,2043.7 2304,2043.7 2307,2043.7 2310,2043.8 2313,2043.8 2316,2043.8 2319,2043.8 2322,2043.8 2325,2043.8 2328,2043.8 2331,2043.8 2334,2043.8 2337,2043.9 2340,2043.9 2343,2043.9 2346,2043.9 2349,2043.9 2352,2043.9 2355,2043.9 2358,2043.9 2361,2043.9 2364,2043.9 2367,2044.0 2370,2044.0 2373,2044.0 2376,2044.0 2379,2044.0 2382,2044.0 2385,2044.0 2388,2044.0 2391,2044.0 2394,2044.1 2397,2044.1 2400,2044.1 2403,2044.1"/>
<polyline stroke="#00FFFF" points="294,2031.2 297,2031.3 300,2031.3 303,2031.3 306,2031.3 309,2031.4 312,2031.4 315,2031.4 318,2031.4 321,2031.5 324,2031.5 327,2031.5 330,2031.5 333,2031.5 336,2031.6 339,2031.6 342,2031.6 345,2031.6 348,2031.7 351,2031.7 354,2031.7 357,2031.7 360,2031.8 363,2031.8 366,2031.8 369,2031.8 372,2031.8 375,2031.9 378,2031.9 381,2031.9 384,2031.9 387,2032.0 390,2032.0 393,2032.0 396,2032.0 399,2032.1 402,2032.1 405,2032.1 408,2032.1 411,2032.2 414,2032.2 417,2032.2 420,2032.2 423,2032.2 426,2032.3 429,2032.3 432,2032.3 435,2032.3 438,2032.4 441,2032.4 444,2032.4 447,2032.4 450,2032.5 453,2032.5 456,2032.5 459,2032.5 462,2032.6 465,2032.6 468,2032.6 471,2032.6 474,2032.6 477,2032.7 480,2032.7 483,2032.7 486,2032.7 489,2032.8 492,2032.8 495,2032.8 498,2032.8 501,2032.9 504,2032.9 507,2032.9 510,2032.9 513,2033.0 516,2033.0 519,2033.0 522,2033.0 525,2033.0 528,2033.1 531,2033.1 534,2033.1 537,2033.1 540,2033.2 543,2033.2 546,2033.2 549,2033.2 552,2033.3 555,2033.3 558,2033.3 561,2033.3 564,2033.3 567,2033.4 570,2033.4 573,2033.4 576,2033.4 579,2033.5 582,2033.5 585,2033.5 588,2033.5 591,2033.6 594,2033.6 597,2033.6 600,2033.6 603,2033.6 606,2033.6 609,2033.7 612,2033.7 615,2033.7 618,2033.7 621,2033.7 624,2033.7 627,2033.7 630,2033.7 633,2033.7 636,2033.7 639,2033.7 642,2033.8 645,2033.8 648,2033.8 651,2033.8 654,2033.8 657,2033.8 660,2033.8 663,2033.8 666,2033.8 669,2033.8 672,2033.8 675,2033.8 678,2033.8 681,2033.9 684,2033.9 687,2033.9 690,2033.9 693,2033.9 696,2033.9 699,2033.9 702,2033.9 705,2033.9 708,2033.9 711,2033.9 714,2033.9 717,2033.9 720,2033.9 723,2033.9 726,2033.9 729,2033.9 732,2033.9 735,2033.9 738,2033.8 741,2033.8 744,2033.8 747,2033.8 750,2033.8 753,2033.8 756,2033.8 759,2033.7 762,2033.7 765,2033.7 768,2033.7 771,2033.7 774,2033.6 777,2033.6 780,2033.6 783,2033.5 786,2033.5 789,2033.5 792,2033.4 795,2033.4 798,2033.3 801,2033.3 804,2033.2 807,2033.2 810,2033.1 813,2033.1 816,2033.0 819,2033.0 822,2032.9 825,2032.8 828,2032.7 831,2032.7 834,2032.6 837,2032.5 840,2032.4 843,2032.3 846,2032.2 849,2032.1 852,2032.0 855,2031.9 858,2031.8 861,2031.7 864,2031.5 867,2031.4 870,2031.3 873,2031.2 876,2031.0 879,2030.9 882,2030.7 885,2030.6 888,2030.4 891,2030.3 894,2030.1 897,2029.9 900,2029.8 903,2029.6 906,2029.4 909,2029.2 912,2029.0 915,2028.8 918,2028.6 921,2028.4 924,2028.2 927,2028.0 930,2027.8 933,2027.6 936,2027.4 939,2027.2 942,2027.0 945,2026.7 948,2026.5 951,2026.3 954,2026.1 957,2025.8 960,2025.6 963,2025.4 966,2025.2 969,2024.9 972,2024.7 975,2024.5 978,2024.2 981,2024.0 984,2023.8 987,2023.5 990,2023.3 993,2023.1 996,2022.9 999,2022.7 1002,2022.4 1005,2022.2 1008,2022.0 1011,2021.8 1014,2021.6 1017,2021.4 1020,2021.2 1023,2021.0 1026,2020.9 1029,2020.7 1032,2020.5 1035,2020.4 1038,2020.2 1041,2020.1 1044,2019.9 1047,2019.8 1050,2019.7 1053,2019.5 1056,2019.4 1059,2019.3 1062,2019.2 1065,2019.1 1068,2019.1 1071,2019.0 1074,2018.9 1077,2018.9 1080,2018.9 1083,2018.8 1086,2018.8 1089,2018.8 1092,2018.8 1095,2018.8 1098,2018.8 1101,2018.8 1104,2018.9 1107,2018.9 1110,2019.0 1113,2019.0 1116,2019.1 1119,2019.2 1122,2019.3 1125,2019.4 1128,2019.5 1131,2019.6 1134,2019.7 1137,2019.9 1140,2020.0 1143,2020.2 1146,2020.3 1149,2020.5 1152,2020.7 1155,2020.8 1158,2021.0 1161,2021.2 1164,2021.4 1167,2021.6 1170,2021.8 1173,2022.0 1176,2022.2 1179,2022.5 1182,2022.7 1185,2022.9 1188,2023.2 1191,2023.4 1194,2023.6 1197,2023.9 1200,2024.1 1203,2024.4 1206,2024.7 1209,2024.9 1212,2025.2 1215,2025.5 1218,2025.8 1221,2026.0 1224,2026.3 1227,2026.6 1230,2026.9 1233,2027.2 1236,2027.4 1239,2027.7 1242,2028.0 1245,2028.2 1248,2028.5 1251,2028.8 1254,2029.0 1257,2029.3 1260,2029.5 1263,2029.8 1266,2030.1 1269,2030.3 1272,2030.5 1275,2030.8 1278,2031.0 1281,2031.3 1284,2031.5 1287,2031.7 1290,2031.9 1293,2032.2 1296,2032.4 1299,2032.6 1302,2032.8 1305,2033.0 1308,2033.2 1311,2033.4 1314,2033.6 1317,2033.7 1320,2033.9 1323,2034.1 1326,2034.3 1329,2034.4 1332,2034.6 1335,2034.8 1338,2034.9 1341,2035.1 1344,2035.2 1347,2035.4 1350,2035.5 1353,2035.6 1356,2035.8 1359,2035.9 1362,2036.0 1365,2036.1 1368,2036.2 1371,2036.4 1374,2036.5 1377,2036.6 1380,2036.7 1383,2036.8 1386,2036.9 1389,2037.0 1392,2037.1 1395,2037.2 1398,2037.3 1401,2037.3 1404,2037.4 1407,2037.5 1410,2037.6 1413,2037.7 1416,2037.7 1419,2037.8 1422,2037.9 1425,2037.9 1428,2038.0 1431,2038.1 1434,2038.1 1437,2038.2 1440,2038.3 1443,2038.3 1446,2038.4 1449,2038.4 1452,2038.5 1455,2038.6 1458,2038.6 1461,2038.7 1464,2038.7 1467,2038.8 1470,2038.8 1473,2038.9 1476,2038.9 1479,2039.0 1482,2039.0 1485,2039.0 1488,2039.1 1491,2039.1 1494,2039.2 1497,2039.2 1500,2039.3 1503,2039.3 1506,2039.3 1509,2039.3 1512,2039.3 1515,2039.3 1518,2039.3 1521,2039.4 1524,2039.4 1527,2039.4 1530,2039.4 1533,2039.4 1536,2039.4 1539,2039.4 1542,2039.4 1545,2039.4 1548,2039.4 1551,2039.5 1554,2039.5 1557,2039.5 1560,2039.5 1563,2039.5 1566,2039.5 1569,2039.5 1572,2039.5 1575,2039.5 1578,2039.5 1581,2039.5 1584,2039.5 1587,2039.6 1590,2039.6 1593,2039.6 1596,2039.6 1599,2039.6 1602,2039.6 1605,2039.6 1608,2039.6 1611,2039.6 1614,2039.6 1617,2039.6 1620,2039.6 1623,2039.7 1626,2039.7 1629,2039.7 1632,2039.7 1635,2039.7 1638,2039.7 1641,2039.7 1644,2039.7 1647,2039.7 1650,2039.7 1653,2039.7 1656,2039.7 1659,2039.7 1662,2039.7 1665,2039.8 1668,2039.8 1671,2039.8 1674,2039.8 1677,2039.8 1680,2039.8 1683,2039.8 1686,2039.8 1689,2039.8 1692,2039.8 1695,2039.8 1698,2039.8 1701,2039.8 1704,2039.9 1707,2039.9 1710,2039.9 1713,2039.9 1716,2039.9 1719,2039.9 1722,2039.9 1725,2039.9 1728,2039.9 1731,2039.9 1734,2039.9 1737,2039.9 1740,2039.9 1743,2039.9 1746,2040.0 1749,2040.0 1752,2040.0 1755,2040.0 1758,2040.0 1761,2040.0 1764,2040.0 1767,2040.0 1770,2040.0 1773,2040.0 1776,2040.0 1779,2040.0 1782,2040.0 1785,2040.1 1788,2040.1 1791,2040.1 1794,2040.1 1797,2040.1 1800,2040.1 1803,2040.1 1806,2040.2 1809,2040.2 1812,2040.2 1815,2040.2 1818,2040.3 1821,2040.3 1824,2040.3 1827,2040.4 1830,2040.4 1833,2040.4 1836,2040.5 1839,2040.5 1842,2040.5 1845,2040.6 1848,2040.6 1851,2040.6 1854,2040.6 1857,2040.7 1860,2040.7 1863,2040.7 1866,2040.8 1869,2040.8 1872,2040.8 1875,2040.9 1878,2040.9 1881,2040.9 1884,2041.0 1887,2041.0 1890,2041.0 1893,2041.0 1896,2041.1 1899,2041.1 1902,2041.1 1905,2041.2 1908,2041.2 1911,2041.2 1914,2041.3 1917,2041.3 1920,2041.3 1923,2041.4 1926,2041.4 1929,2041.4 1932,2041.4 1935,2041.5 1938,2041.5 1941,2041.5 1944,2041.6 1947,2041.6 1950,2041.6 1953,2041.7 1956,2041.7 1959,2041.7 1962,2041.8 1965,2041.8 1968,2041.8 1971,2041.8 1974,2041.9 1977,2041.9 1980,2041.9 1983,2042.0 1986,2042.0 1989,2042.0 1992,2042.1 1995,2042.1 1998,2042.1 2001,2042.2 2004,2042.2 2007,2042.2 2010,2042.2 2013,2042.3 2016,2042.3 2019,2042.3 2022,2042.4 2025,2042.4 2028,2042.4 2031,2042.5 2034,2042.5 2037,2042.5 2040,2042.6 2043,2042.6 2046,2042.6 2049,2042.6 2052,2042.7 2055,2042.7 2058,2042.7 2061,2042.8 2064,2042.8 2067,2042.8 2070,2042.9 2073,2042.9 2076,2042.9 2079,2043.0 2082,2043.0 2085,2043.0 2088,2043.0 2091,2043.1 2094,2043.1 2097,2043.1 2100,2043.2 2103,2043.2 2106,2043.2 2109,2043.2 2112,2043.2 2115,2043.2 2118,2043.2 2121,2043.2 2124,2043.2 2127,2043.3 2130,2043.3 2133,2043.3 2136,2043.3 2139,2043.3 2142,2043.3 2145,2043.3 2148,2043.3 2151,2043.3 2154,2043.3 2157,2043.4 2160,2043.4 2163,2043.4 2166,2043.4 2169,2043.4 2172,2043.4 2175,2043.4 2178,2043.4 2181,2043.4 2184,2043.4 2187,2043.5 2190,2043.5 2193,2043.5 2196,2043.5 2199,2043.5 2202,2043.5 2205,2043.5 2208,2043.5 2211,2043.5 2214,2043.5 2217,2043.6 2220,2043.6 2223,2043.6 2226,2043.6 2229,2043.6 2232,2043.6 2235,2043.6 2238,2043.6 2241,2043.6 2244,2043.6 2247,2043.6 2250,2043.7 2253,2043.7 2256,2043.7 2259,2043.7 2262,2043.7 2265,2043.7 2268,2043.7 2271,2043.7 2274,2043.7 2277,2043.7 2280,2043.8 2283,2043.8 2286,2043.8 2289,2043.8 2292,2043.8 2295,2043.8 2298,2043.8 2301,2043.8 2304,2043.8 2307,2043.8 2310,2043.9 2313,2043.9 2316,2043.9 2319,2043.9 2322,2043.9 2325,2043.9 2328,2043.9 2331,2043.9 2334,2043.9 2337,2043.9 2340,2044.0 2343,2044.0 2346,2044.0 2349,2044.0 2352,2044.0 2355,2044.0 2358,2044.0 2361,2044.0 2364,2044.0 2367,2044.0 2370,2044.0 2373,2044.1 2376,2044.1 2379,2044.1 2382,2044.1 2385,2044.1 2388,2044.1 2391,2044.1 2394,2044.1 2397,2044.1 2400,2044.1 2403,2044.2"/>
</g>
<g fill="none" stroke="#000" stroke-width="10.6">
<rect x="288.7" y="64.6" width="2120.8" height="2041.9"/>
<line x1="288.7" y1="744.5" x2="2409.5" y2="744.5"/>
<line x1="288.7" y1="1424.3" x2="2409.5" y2="1424.3"/>
<line x1="2232.2" y1="2072" x2="2232.2" y2="2102"/>
<line x1="2055.6" y1="2085.6" x2="2055.6" y2="2102"/>
<line x1="1879.0" y1="2072" x2="1879.0" y2="2102"/>
<line x1="1702.4" y1="2085.6" x2="1702.4" y2="2102"/>
<line x1="1525.8" y1="2072" x2="1525.8" y2="2102"/>
<line x1="1349.2" y1="2085.6" x2="1349.2" y2="2102"/>
<line x1="1172.6" y1="2072" x2="1172.6" y2="2102"/>
<line x1="996.0" y1="2085.6" x2="996.0" y2="2102"/>
<line x1="819.4" y1="2072" x2="819.4" y2="2102"/>
<line x1="642.8" y1="2085.6" x2="642.8" y2="2102"/>
<line x1="466.2" y1="2072" x2="466.2" y2="2102"/>
</g>
<text transform="translate(2186.47,2199.50) scale(1.0684,1)" font-size="84.00" fill="#000">70</text>
<text transform="translate(1833.25,2199.50) scale(1.0742,1)" font-size="84.00" fill="#000">72</text>
<text transform="translate(1480.18,2199.50) scale(1.0458,1)" font-size="84.00" fill="#000">74</text>
<text transform="translate(1126.92,2199.50) scale(1.0581,1)" font-size="84.00" fill="#000">76</text>
<text transform="translate(773.70,2199.50) scale(1.0627,1)" font-size="84.00" fill="#000">78</text>
<text transform="translate(422.70,2199.50) scale(1.0409,1)" font-size="84.00" fill="#000">80</text>
<text transform="translate(921.39,2332.20) scale(0.9925,1)" font-size="97.50" fill="#000">Binding Energy (eV)</text>
<g transform="translate(116.9,1388.26) rotate(-90)"><text transform="scale(0.9936,1)" font-size="97.5" fill="#000">Intensity (a.u.)</text></g>
<text transform="translate(312.87,164.00) scale(0.9844,1)" font-size="84.00" fill="#000">4Pt/MgAl</text>
<text transform="translate(658.18,193.30) scale(1.1739,1)" font-size="47.00" fill="#000">2</text>
<text transform="translate(682.23,164.00) scale(1.0414,1)" font-size="84.00" fill="#000">O</text>
<text transform="translate(749.33,193.30) scale(1.0462,1)" font-size="47.00" fill="#000">4</text>
<text transform="translate(317.82,854.30) scale(0.9626,1)" font-size="84.00" fill="#000">Fresh</text>
<text transform="translate(316.21,1525.00) scale(0.9988,1)" font-size="84.00" fill="#000">Used</text>
<text transform="translate(927.39,292.70) scale(0.9885,1)" font-size="84.00" fill="#0000FF">Al</text>
<text transform="translate(1008.11,252.00) scale(1.1811,1)" font-size="47.00" fill="#0000FF">3+</text>
<text transform="translate(1556.37,558.40) scale(0.9951,1)" font-size="84.00" fill="#000080">Pt</text>
<text transform="translate(1636.32,518.60) scale(1.1537,1)" font-size="47.00" fill="#000080">2+</text>
<text transform="translate(1686.91,588.40) scale(1.1508,1)" font-size="47.00" fill="#000080">7/2</text>
<text transform="translate(2005.17,515.50) scale(0.9990,1)" font-size="84.00" fill="#008000">Pt</text>
<text transform="translate(2082.58,475.40) scale(1.2400,1)" font-size="47.00" fill="#008000">0</text>
<text transform="translate(2106.43,545.50) scale(1.1418,1)" font-size="47.00" fill="#008000">7/2</text>
<text transform="translate(970.89,1048.00) scale(0.9823,1)" font-size="84.00" fill="#0000FF">Al</text>
<text transform="translate(1053.80,1007.00) scale(1.1312,1)" font-size="47.00" fill="#0000FF">3+</text>
<text transform="translate(1781.86,1050.20) scale(1.0029,1)" font-size="84.00" fill="#000080">Pt</text>
<text transform="translate(1859.20,1010.00) scale(1.2148,1)" font-size="47.00" fill="#000080">2+</text>
<text transform="translate(1912.57,1079.60) scale(1.0930,1)" font-size="47.00" fill="#000080">7/2</text>
<text transform="translate(1395.27,1230.20) scale(0.9964,1)" font-size="84.00" fill="#800000">Pt</text>
<text transform="translate(1473.78,1188.00) scale(1.1233,1)" font-size="47.00" fill="#800000">4+</text>
<text transform="translate(1526.06,1257.80) scale(1.0948,1)" font-size="47.00" fill="#800000">7/2</text>
<text transform="translate(1994.26,1174.10) scale(1.0041,1)" font-size="84.00" fill="#008000">Pt</text>
<text transform="translate(2071.43,1132.00) scale(1.2701,1)" font-size="47.00" fill="#008000">0</text>
<text transform="translate(2095.32,1201.00) scale(1.1454,1)" font-size="47.00" fill="#008000">7/2</text>
<text transform="translate(949.59,1682.30) scale(0.9823,1)" font-size="84.00" fill="#0000FF">Al</text>
<text transform="translate(1032.30,1641.00) scale(1.1312,1)" font-size="47.00" fill="#0000FF">3+</text>
<text transform="translate(1542.66,1902.20) scale(1.0029,1)" font-size="84.00" fill="#000080">Pt</text>
<text transform="translate(1620.00,1862.00) scale(1.2169,1)" font-size="47.00" fill="#000080">2+</text>
<text transform="translate(1673.33,1931.60) scale(1.1056,1)" font-size="47.00" fill="#000080">7/2</text>
<text transform="translate(2042.82,1885.90) scale(0.9641,1)" font-size="84.00" fill="#008000">Pt</text>
<text transform="translate(2119.88,1845.50) scale(1.2952,1)" font-size="47.00" fill="#008000">0</text>
<text transform="translate(2143.41,1915.60) scale(1.1147,1)" font-size="47.00" fill="#008000">7/2</text>
<line x1="1726.8" y1="597" x2="1726.8" y2="650" stroke="#000080" stroke-width="10.5" shape-rendering="crispEdges"/>
<line x1="2052" y1="548.5" x2="2052" y2="602" stroke="#008000" stroke-width="10.5" shape-rendering="crispEdges"/>
<line x1="2052" y1="650" x2="2052" y2="703" stroke="#008000" stroke-width="10.5" shape-rendering="crispEdges"/>
<line x1="1732.2" y1="1215.6" x2="1732.2" y2="1267.8" stroke="#000080" stroke-width="10.5" shape-rendering="crispEdges"/>
<line x1="1732.2" y1="1318.6" x2="1732.2" y2="1367" stroke="#000080" stroke-width="10.5" shape-rendering="crispEdges"/>
<line x1="2011.7" y1="1174" x2="2011.7" y2="1227.3" stroke="#008000" stroke-width="10.5" shape-rendering="crispEdges"/>
<line x1="2011.7" y1="1277" x2="2011.7" y2="1308" stroke="#008000" stroke-width="10.5" shape-rendering="crispEdges"/>
<line x1="1382.5" y1="1228.4" x2="1382.5" y2="1281.6" stroke="#800000" stroke-width="10.5" shape-rendering="crispEdges"/>
<line x1="1382.5" y1="1327" x2="1382.5" y2="1338.6" stroke="#800000" stroke-width="10.5" shape-rendering="crispEdges"/>
<line x1="1702.6" y1="1948.2" x2="1702.6" y2="2001.4" stroke="#000080" stroke-width="10.5" shape-rendering="crispEdges"/>
<line x1="2035.7" y1="1897" x2="2035.7" y2="1950.6" stroke="#008000" stroke-width="10.5" shape-rendering="crispEdges"/>
<line x1="2035.7" y1="1999.6" x2="2035.7" y2="2052.7" stroke="#008000" stroke-width="10.5" shape-rendering="crispEdges"/>
<line x1="1055" y1="288" x2="1308.8" y2="371.2" stroke="#0000FF" stroke-width="11" shape-rendering="crispEdges"/><polygon fill="#0000FF" shape-rendering="crispEdges" points="1363,389 1297.9,388.7 1310.3,350.7"/>
<line x1="1094" y1="1018.7" x2="1347.1" y2="1101.0" stroke="#0000FF" stroke-width="11" shape-rendering="crispEdges"/><polygon fill="#0000FF" shape-rendering="crispEdges" points="1401.3,1118.6 1336.2,1118.5 1348.5,1080.4"/>
<line x1="1078" y1="1650" x2="1329.0" y2="1731.7" stroke="#0000FF" stroke-width="11" shape-rendering="crispEdges"/><polygon fill="#0000FF" shape-rendering="crispEdges" points="1383.2,1749.4 1318.1,1749.2 1330.4,1711.2"/>
<line x1="1843.3" y1="1102.2" x2="1777.1" y2="1230.4" stroke="#000080" stroke-width="11" shape-rendering="crispEdges"/><polygon fill="#000080" shape-rendering="crispEdges" points="1751,1281 1761.7,1216.7 1797.2,1235.1"/>
</svg></body></html>
